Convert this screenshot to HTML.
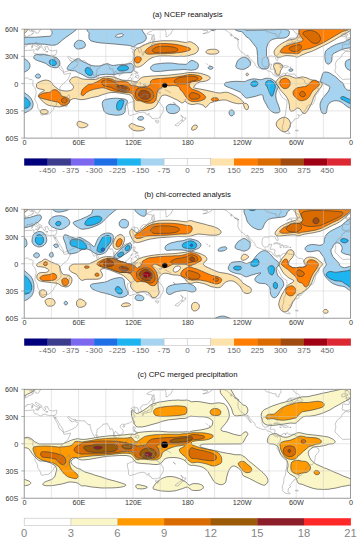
<!DOCTYPE html><html><head><meta charset="utf-8"><style>html,body{margin:0;padding:0;background:#fff;width:363px;height:543px;overflow:hidden}svg{display:block}text{font-family:"Liberation Sans", sans-serif}</style></head><body>
<svg width="363" height="543" viewBox="0 0 363 543">
<defs>
<clipPath id="pc0"><rect x="24.2" y="29.2" width="326.40000000000003" height="108.9"/></clipPath>
<clipPath id="pc1"><rect x="24.2" y="209.3" width="326.40000000000003" height="108.9"/></clipPath>
<clipPath id="pc2"><rect x="24.2" y="389.3" width="326.40000000000003" height="108.9"/></clipPath>
</defs>
<g clip-path="url(#pc0)">
<path d="M23.88,33.40 21.12,33.45 21.12,26.12 28.19,26.12 28.16,28.62 27.81,29.62 25.62,32.37 24.62,33.12 23.88,33.40ZM297.38,57.14 296.38,57.12 294.88,56.56 292.12,56.06 287.12,55.56 284.88,55.82 280.12,57.19 277.38,57.14 276.12,56.60 274.88,55.19 274.28,53.62 274.03,51.88 274.56,50.12 276.88,47.26 279.38,45.10 282.70,42.88 285.65,41.38 288.38,40.31 291.12,39.60 295.12,38.93 296.38,38.18 298.25,34.62 298.93,32.88 299.00,26.12 356.88,26.12 356.88,29.05 353.88,29.11 351.38,30.07 348.09,31.88 344.88,34.04 342.38,35.20 328.38,43.28 313.62,50.54 311.38,51.49 306.12,53.16 303.88,54.29 302.12,54.78 299.88,56.21 297.38,57.14ZM137.38,67.13 136.38,67.05 135.43,66.38 134.44,64.88 134.04,63.62 134.01,52.88 134.21,51.88 134.93,50.38 135.62,49.33 136.62,48.52 139.88,47.28 145.62,44.27 151.38,42.25 154.88,41.56 161.88,40.75 173.62,40.78 177.12,41.06 185.12,42.49 186.62,42.35 188.62,41.74 190.12,41.74 191.38,42.07 195.12,44.24 197.38,46.28 198.38,47.99 198.46,49.38 197.88,51.04 196.12,52.98 193.88,54.13 191.88,54.59 188.90,55.62 186.38,56.16 183.88,56.46 180.88,56.25 178.62,56.49 175.88,56.50 168.62,56.01 159.88,56.00 154.62,56.75 152.62,57.47 149.12,59.42 147.28,60.88 143.38,64.46 140.88,66.15 139.38,66.82 137.38,67.13ZM212.12,54.15 210.38,54.19 207.38,53.54 206.10,52.62 205.89,52.12 205.96,51.62 206.76,50.62 207.62,50.03 209.12,49.60 211.62,49.25 214.88,49.26 216.12,49.48 218.12,50.51 219.01,51.38 219.06,51.88 218.68,52.62 217.12,53.60 215.38,53.97 212.12,54.15ZM278.88,74.91 277.38,74.91 276.32,74.12 275.62,72.38 274.88,69.68 273.63,66.88 273.54,65.88 273.88,64.79 274.38,64.10 275.38,63.60 277.38,63.25 279.38,63.28 280.38,63.52 281.38,64.21 282.61,66.12 282.52,67.38 280.41,70.88 279.94,73.88 279.42,74.62 278.88,74.91ZM137.62,111.43 136.62,111.61 135.88,111.35 135.12,110.68 134.34,109.38 134.02,108.12 133.87,100.62 132.01,96.88 130.67,95.38 129.88,94.93 128.62,94.56 123.12,93.56 115.38,92.53 111.12,92.51 108.62,92.86 102.38,94.68 97.93,96.38 91.38,97.61 86.62,98.94 84.12,99.44 81.62,99.67 78.12,99.33 75.62,98.53 73.38,98.66 72.38,99.02 70.01,100.38 69.61,100.88 68.65,103.12 67.12,104.49 66.12,105.04 62.88,106.24 61.12,106.65 59.38,106.91 57.12,106.72 51.62,105.94 48.12,105.19 45.38,103.65 42.12,100.87 38.88,97.20 38.37,96.12 38.39,95.12 38.88,94.33 40.62,92.84 44.12,90.70 44.44,90.12 43.62,89.64 39.12,88.84 37.38,88.12 36.88,87.48 36.48,86.12 36.47,84.62 36.97,83.62 37.88,82.72 40.88,81.23 43.12,80.52 45.38,80.07 47.62,80.34 49.12,80.79 50.90,81.88 52.12,83.11 52.79,84.62 53.38,85.38 58.38,89.30 60.38,90.13 62.88,90.69 65.62,90.99 68.12,90.97 70.62,90.38 72.12,89.69 72.94,88.88 73.53,87.38 73.48,86.62 73.12,85.88 69.76,81.88 69.54,81.12 69.72,80.38 70.54,79.12 71.62,78.07 73.20,77.38 75.38,76.82 77.38,77.08 82.12,78.95 84.38,79.24 94.12,79.50 96.88,79.12 99.62,77.76 102.62,77.06 106.88,76.51 110.88,76.53 114.38,77.29 116.88,78.38 122.62,80.14 130.62,80.74 134.38,81.65 136.38,81.84 137.12,81.57 139.12,79.51 140.81,78.12 142.62,77.21 144.12,76.81 151.88,76.01 154.88,75.99 156.62,75.76 168.12,75.22 183.88,73.44 188.12,72.52 192.88,72.50 196.88,72.78 200.62,73.36 205.38,74.77 208.88,76.30 209.91,77.12 210.21,77.62 210.23,78.12 209.34,79.38 206.62,80.82 204.12,81.38 200.88,81.78 199.12,82.27 197.88,82.85 195.35,84.62 194.70,85.88 193.67,87.12 193.81,87.62 194.11,87.88 194.88,88.18 203.12,89.60 213.38,91.86 215.12,92.39 218.38,92.94 220.88,92.97 224.12,92.31 225.38,92.25 227.38,92.31 229.38,92.92 236.58,96.38 239.88,98.53 240.91,99.38 242.92,101.62 243.88,103.08 246.38,103.49 247.12,103.99 248.23,105.62 248.66,106.88 248.49,107.88 247.88,109.13 247.12,109.73 246.38,109.70 245.38,109.07 244.46,107.88 243.46,104.12 243.12,103.60 241.62,103.50 238.62,103.75 236.38,103.44 232.88,102.67 226.62,100.28 225.38,100.03 222.88,100.00 219.88,100.31 215.62,101.11 210.62,102.78 209.88,103.27 208.50,104.62 206.38,107.06 205.38,107.48 204.72,107.12 203.88,105.79 203.12,105.20 200.62,104.29 198.62,103.85 196.88,103.78 193.38,104.47 190.88,104.42 187.62,103.34 185.62,101.64 184.88,101.26 184.38,101.37 183.54,102.38 182.88,102.83 181.62,102.86 177.12,99.97 169.12,96.28 166.12,95.18 164.38,95.01 162.62,95.46 160.91,96.62 159.42,100.12 156.64,105.12 154.62,107.24 153.12,108.38 148.88,109.94 145.12,110.47 140.62,110.56 139.12,110.83 137.62,111.43ZM247.38,75.71 246.62,75.59 246.01,74.62 246.15,73.88 246.88,73.16 247.38,73.18 247.88,73.45 248.31,73.88 248.51,74.38 248.26,75.12 247.38,75.71ZM304.12,113.65 303.38,113.51 302.62,112.94 300.12,109.03 299.38,108.55 298.12,108.13 297.12,107.99 296.62,108.13 294.38,110.40 292.62,111.07 291.38,111.16 290.62,110.84 290.10,110.38 289.56,108.62 289.44,105.88 288.70,101.62 287.62,98.88 285.88,96.10 282.90,92.62 280.30,90.12 279.57,88.88 278.88,87.07 276.88,85.10 276.01,83.62 275.86,82.38 276.33,81.12 278.58,78.38 279.86,77.38 283.38,75.87 285.62,75.50 289.38,75.86 294.38,77.79 295.88,78.11 296.88,78.04 301.38,76.93 303.38,77.06 307.12,77.96 310.62,79.62 313.12,80.18 315.62,80.42 317.38,81.26 320.62,82.24 322.12,83.38 322.35,84.62 321.55,86.38 319.95,88.62 317.88,90.84 314.57,95.38 313.21,98.62 312.65,100.62 311.02,104.38 307.79,110.38 306.37,112.38 305.12,113.35 304.12,113.65ZM43.62,114.13 41.88,113.75 40.62,112.38 40.34,111.62 40.36,111.12 40.59,110.62 41.12,110.12 42.62,109.56 45.38,109.56 46.88,110.12 48.04,111.12 48.21,112.12 47.38,113.31 45.88,113.89 43.62,114.13ZM284.12,131.88 282.88,131.63 281.38,130.89 278.12,128.12 277.12,126.90 276.57,125.88 276.17,123.88 276.37,122.88 276.96,121.62 278.88,119.30 282.12,117.62 284.62,117.26 285.62,117.46 286.98,118.12 288.94,119.62 290.13,121.88 290.44,123.12 290.49,124.38 289.88,127.12 288.60,129.62 286.62,131.23 284.12,131.88ZM81.88,127.88 80.62,127.73 79.04,127.12 78.12,126.51 77.38,125.62 77.06,124.62 77.12,123.62 77.36,122.38 77.89,121.62 78.88,121.30 80.38,121.45 85.94,123.38 87.38,124.12 87.89,124.62 88.05,125.12 87.89,125.62 86.38,126.80 83.87,127.62 81.88,127.88ZM139.62,130.90 136.38,130.98 133.88,130.39 132.88,129.97 130.88,128.62 129.47,127.12 129.09,126.38 129.18,125.38 130.62,123.80 131.38,123.57 132.38,123.66 134.12,124.29 136.88,125.87 140.12,126.35 143.12,127.21 144.12,127.78 144.65,128.38 144.62,129.20 143.88,129.92 141.88,130.59 139.62,130.90ZM193.38,130.14 192.12,130.12 191.53,129.38 191.69,128.12 192.45,126.62 193.38,125.76 194.62,125.18 195.88,125.02 196.88,125.36 197.26,125.88 197.43,126.62 196.95,127.88 195.38,129.38 193.38,130.14Z" fill="#fde2ab" fill-rule="evenodd" stroke="#3c3c3c" stroke-width="0.62"/>
<path d="M297.38,53.66 295.62,53.74 292.38,53.26 286.88,53.24 282.38,52.94 280.62,52.32 280.23,51.88 280.14,51.38 280.66,50.38 282.50,48.12 283.38,47.31 285.12,46.27 290.62,44.43 300.12,42.03 301.88,41.10 302.88,40.25 303.10,39.62 302.87,38.88 300.69,36.38 299.13,33.38 299.00,26.12 349.12,26.12 349.07,28.62 348.84,29.12 348.38,29.48 343.12,31.35 341.62,32.07 323.38,42.68 315.62,46.30 310.12,48.38 302.12,50.34 299.62,52.90 297.38,53.66ZM150.62,54.15 149.62,54.22 147.38,53.94 146.38,53.55 145.19,52.38 145.09,51.62 145.37,50.88 147.34,48.62 148.88,47.43 151.88,45.65 156.38,44.10 159.38,43.56 166.12,43.51 173.12,44.03 176.88,44.56 182.38,45.78 188.88,47.70 189.88,48.16 190.49,49.12 190.22,49.88 188.88,50.53 184.88,51.64 180.62,52.44 176.38,52.81 174.12,53.22 167.38,53.51 165.62,53.74 157.38,53.75 150.62,54.15ZM138.12,62.94 136.88,63.02 136.12,62.64 135.00,61.38 134.39,60.12 134.53,59.12 135.38,57.63 136.12,56.83 137.12,56.34 139.12,56.58 140.32,57.12 141.02,57.88 141.35,58.88 140.98,60.38 140.12,61.66 139.38,62.38 138.12,62.94ZM151.62,103.15 146.88,103.19 145.12,102.74 140.38,100.86 137.38,100.71 136.62,100.50 135.75,99.88 134.99,98.88 132.83,94.62 131.91,93.62 131.02,93.12 129.12,92.78 119.12,91.94 111.62,90.69 105.74,88.38 103.12,87.81 101.38,87.81 93.88,89.31 89.62,90.71 86.38,92.61 84.12,94.98 83.12,95.56 82.38,95.62 81.62,95.19 81.14,94.38 81.10,93.62 81.62,91.34 82.62,89.22 84.55,87.38 87.72,84.88 89.38,84.08 91.62,83.97 92.88,83.60 96.89,81.88 99.11,80.62 101.88,78.73 103.38,78.31 107.62,78.26 109.88,78.61 112.38,79.22 114.82,80.62 116.88,81.25 118.62,81.27 121.38,80.93 123.88,81.05 125.88,81.55 127.88,82.38 128.91,83.12 130.38,84.86 131.12,85.29 135.88,85.92 138.88,87.03 141.88,87.07 147.38,86.29 149.22,85.62 149.76,85.12 150.15,84.38 150.46,83.12 150.53,81.62 150.93,80.88 152.38,79.66 154.88,79.06 158.62,78.53 161.38,78.47 165.38,78.03 171.12,77.69 183.88,75.69 187.38,74.72 188.88,74.51 192.38,74.53 196.62,75.11 199.62,75.95 201.12,76.71 201.80,77.38 201.95,78.12 201.75,78.88 201.12,79.58 199.88,80.49 196.88,81.21 192.38,81.69 191.12,82.20 190.32,82.88 189.78,83.62 189.36,84.62 189.26,85.38 189.88,86.97 191.62,88.95 197.12,90.76 199.12,91.63 202.38,93.55 204.38,95.19 205.32,96.38 205.67,97.38 205.30,98.38 204.12,99.41 200.88,100.74 198.88,101.19 196.38,101.50 192.12,101.58 191.38,101.42 188.62,99.89 187.45,98.88 184.99,95.62 182.86,92.12 180.07,89.62 179.80,87.88 178.62,86.64 176.88,85.97 174.88,85.61 172.62,85.59 168.88,85.88 165.12,84.80 163.59,85.62 161.88,87.44 159.38,89.05 158.32,90.12 156.93,92.88 156.89,95.62 155.72,99.88 154.38,101.89 153.12,102.67 151.62,103.15ZM285.38,88.63 283.62,88.38 282.12,87.48 280.36,85.38 279.81,84.12 279.66,83.12 280.10,81.12 281.38,79.45 282.88,78.62 285.12,78.09 286.62,78.40 288.88,79.83 289.92,81.38 290.27,83.12 290.01,85.12 288.62,87.20 287.62,87.95 285.38,88.63ZM302.38,100.65 300.62,100.70 298.62,100.03 295.51,97.38 293.82,95.62 293.11,93.88 293.01,92.38 293.23,91.38 294.12,90.13 295.62,88.77 297.79,87.62 304.62,86.48 306.88,85.82 308.70,84.62 309.62,83.04 310.62,81.99 312.12,80.98 313.38,80.42 314.62,80.26 315.88,80.51 318.47,82.38 319.11,83.12 319.46,83.88 319.42,84.62 319.05,85.38 315.62,88.56 313.38,90.13 311.87,92.12 309.35,96.62 307.62,98.45 305.88,99.64 302.38,100.65ZM64.62,105.40 62.88,105.47 61.38,105.09 60.69,104.62 59.38,103.17 57.88,102.13 50.88,100.69 41.38,98.29 40.12,97.78 39.22,97.12 38.84,96.38 38.94,95.62 39.88,94.70 42.62,93.37 44.62,92.81 48.62,92.47 49.88,92.14 50.62,91.70 52.12,90.32 52.88,89.94 54.88,89.62 56.62,90.03 57.56,90.62 58.88,92.03 59.94,93.38 61.12,95.35 61.62,95.81 63.62,96.62 66.88,97.41 68.29,98.38 69.14,99.38 69.43,100.12 69.44,101.12 69.12,102.30 68.65,103.12 67.88,103.95 66.62,104.80 64.62,105.40ZM216.38,100.90 213.88,100.99 212.38,100.69 211.60,100.12 211.38,99.62 211.42,99.12 212.12,98.29 213.38,97.81 215.88,97.78 217.62,98.17 218.43,98.88 218.46,99.62 217.86,100.38 216.38,100.90Z" fill="#ff7d00" fill-rule="evenodd" stroke="#3c3c3c" stroke-width="0.62"/>
<path d="M316.38,43.40 314.88,43.49 313.62,43.25 312.12,42.65 310.38,41.45 307.62,38.51 303.55,35.12 302.84,33.62 303.12,32.50 304.38,31.71 306.88,30.86 309.12,30.53 311.62,30.51 312.88,30.75 315.38,31.70 317.88,33.29 318.89,34.38 320.04,36.62 320.44,38.12 320.44,39.62 319.93,41.12 319.20,42.12 317.88,42.93 316.38,43.40ZM296.12,51.64 293.12,51.40 290.62,50.61 289.94,50.12 289.37,49.38 289.15,48.62 289.27,48.12 289.88,47.49 292.12,46.46 297.38,44.93 299.12,44.63 300.12,44.79 300.62,45.06 301.28,45.88 301.56,46.88 301.53,47.88 301.18,48.62 299.62,49.93 297.45,51.12 296.12,51.64ZM163.38,52.65 156.88,52.75 155.12,52.50 152.88,51.67 152.34,51.12 152.14,50.38 152.53,49.62 153.36,48.88 154.88,47.90 156.38,47.21 158.88,46.57 162.62,46.26 166.62,46.28 173.12,47.06 176.62,48.19 177.62,48.86 177.89,49.38 177.81,50.12 177.38,50.69 175.38,51.69 171.62,52.22 163.38,52.65ZM186.12,83.88 176.88,83.92 175.62,83.39 174.68,82.62 174.21,81.88 174.15,81.12 174.39,80.62 175.88,79.30 178.38,77.94 181.88,77.06 185.12,76.69 187.38,76.22 191.88,76.24 194.88,76.56 196.62,77.02 197.89,77.88 198.01,78.38 197.81,78.88 195.88,80.29 194.88,80.65 191.62,81.12 186.12,83.88ZM125.62,91.65 123.38,91.72 120.38,91.14 115.62,89.64 110.62,87.30 105.62,86.39 104.12,85.92 103.20,85.38 102.32,84.38 101.57,82.62 101.70,81.62 102.44,80.88 104.12,80.08 106.38,79.77 108.88,80.06 110.88,80.63 114.74,82.38 116.09,83.38 116.98,84.62 117.62,84.96 119.62,85.40 123.38,85.54 126.62,86.37 127.88,87.03 128.71,87.88 129.33,88.88 129.44,89.88 129.25,90.38 128.62,90.83 125.62,91.65ZM148.12,101.40 145.12,101.47 141.62,100.78 138.38,99.55 136.88,98.62 135.76,96.62 135.20,94.12 135.79,91.12 136.31,89.88 136.88,89.11 138.12,88.23 140.62,87.62 145.12,87.54 147.88,88.12 149.19,88.62 150.88,89.49 151.81,90.38 152.80,91.88 153.62,93.62 153.75,95.12 153.62,96.62 152.39,98.88 151.47,99.88 149.62,100.93 148.12,101.40ZM303.88,96.64 302.38,96.86 301.62,96.72 300.50,95.88 299.62,94.65 299.50,94.12 299.69,93.38 300.59,92.12 301.38,91.50 302.38,91.30 303.36,91.62 304.38,92.27 305.27,93.38 305.47,94.38 305.28,95.38 304.82,96.12 303.88,96.64ZM195.88,99.15 191.88,99.31 191.01,98.88 190.24,98.12 189.33,96.62 189.16,95.62 189.84,94.12 190.88,92.95 191.88,92.51 193.88,92.68 197.38,93.82 198.80,94.62 199.62,95.32 199.90,95.88 199.93,96.62 199.72,97.38 199.22,98.12 198.12,98.77 195.88,99.15ZM64.88,102.93 63.62,102.93 62.62,102.54 61.88,101.88 61.46,100.88 61.46,100.12 61.88,99.12 62.88,98.26 63.88,97.83 64.88,97.93 65.88,98.38 66.63,99.12 67.04,100.12 67.00,101.12 66.64,101.88 65.66,102.62 64.88,102.93Z" fill="#d96b00" fill-rule="evenodd" stroke="#3c3c3c" stroke-width="0.62"/>
<path d="M124.62,90.43 122.38,90.40 119.12,89.41 117.36,87.88 116.79,86.88 116.83,86.38 117.12,86.04 117.88,85.77 121.12,85.71 123.62,86.07 126.15,86.88 126.99,87.62 127.14,88.12 127.00,88.88 126.12,89.79 124.62,90.43ZM147.62,99.14 144.62,99.25 143.12,99.03 140.88,98.22 139.38,96.99 138.63,95.88 138.53,94.38 138.95,93.12 140.12,91.33 140.88,90.78 141.88,90.41 144.38,90.31 147.12,91.08 149.12,92.62 150.12,94.38 150.15,96.38 149.85,97.38 149.17,98.38 147.62,99.14Z" fill="#a04b10" fill-rule="evenodd" stroke="#3c3c3c" stroke-width="0.62"/>
<path d="M54.88,45.14 50.88,45.22 44.88,44.28 37.12,43.99 35.12,43.75 31.88,43.76 26.62,44.24 21.12,44.25 21.12,37.50 25.12,37.49 27.12,37.25 34.62,37.24 49.38,36.22 50.38,35.99 51.06,35.62 51.45,35.12 51.89,33.88 52.00,32.62 51.82,31.38 50.41,29.12 50.30,26.12 76.69,26.12 76.62,28.88 75.88,30.02 72.12,32.94 65.84,37.38 62.38,40.04 57.89,43.88 56.62,44.55 54.88,45.14ZM133.62,46.63 132.38,46.53 129.62,45.61 127.38,45.28 114.62,44.03 100.62,42.94 95.62,42.15 91.12,40.89 89.88,39.96 89.18,38.62 88.79,36.38 89.09,33.38 88.78,32.62 87.62,31.29 86.88,29.88 86.75,26.12 141.76,26.12 141.77,28.62 141.97,29.62 142.96,31.62 145.76,35.62 146.17,36.62 146.36,37.88 145.89,39.62 145.12,40.70 143.12,42.05 140.62,43.15 137.12,44.32 134.88,46.18 133.62,46.63ZM213.62,30.63 211.88,30.38 210.62,29.40 210.34,28.62 210.31,26.12 216.19,26.12 216.16,28.62 215.90,29.38 214.88,30.27 213.62,30.63ZM266.12,68.90 263.38,68.99 261.62,68.60 259.62,67.25 258.86,66.38 258.32,65.38 257.78,63.12 257.49,55.38 256.94,49.38 256.43,47.88 255.47,46.38 252.30,42.62 249.73,39.12 248.88,38.37 246.62,37.10 245.12,35.23 243.53,33.62 242.62,32.12 241.62,31.63 239.88,31.44 237.12,30.79 235.88,30.14 234.90,29.38 234.43,28.62 234.38,26.12 244.75,26.12 244.91,29.38 245.62,30.12 246.88,30.44 248.88,30.25 256.62,30.24 258.62,30.00 264.12,29.98 266.12,29.73 274.88,29.71 276.88,29.44 283.88,29.44 287.38,29.92 288.38,30.43 289.17,31.12 289.48,32.38 289.04,34.38 288.37,35.88 286.88,37.05 285.12,37.82 283.12,38.19 277.38,38.28 272.88,39.26 270.39,40.62 268.35,43.12 267.01,46.38 266.56,48.62 266.51,55.12 266.77,56.38 268.21,59.12 268.94,62.38 269.21,64.88 268.88,66.62 268.28,67.88 267.38,68.49 266.12,68.90ZM119.24,37.12 120.88,36.73 122.88,35.74 123.37,34.88 123.12,34.16 122.62,33.85 121.62,33.75 118.88,34.11 116.42,35.12 115.51,36.12 115.62,36.74 116.38,37.17 119.24,37.12ZM328.38,64.13 327.12,63.83 326.12,62.80 325.54,61.62 325.03,59.12 324.76,55.62 325.07,52.88 325.72,51.12 326.88,49.70 330.38,47.27 332.88,45.88 336.38,44.27 341.38,42.68 343.62,42.15 345.12,41.53 347.38,40.22 352.62,38.00 353.88,37.76 356.88,37.75 356.88,47.30 354.12,47.34 344.62,48.61 339.88,50.36 333.88,53.35 332.88,54.16 332.13,55.62 331.94,59.62 331.12,62.12 329.88,63.62 328.38,64.13ZM79.88,48.91 78.12,49.11 76.38,48.55 74.88,47.34 74.14,45.62 74.46,43.88 75.56,42.12 77.12,40.83 78.62,40.32 79.62,40.27 81.38,40.53 83.12,41.21 83.98,41.88 84.77,42.88 85.44,44.38 85.24,46.12 84.38,47.42 83.12,48.00 79.88,48.91ZM56.62,67.64 54.12,67.69 50.88,66.79 49.36,66.12 45.67,63.38 40.12,61.38 38.62,61.04 35.38,59.62 34.38,58.92 33.89,58.12 33.77,57.12 33.98,56.12 34.88,55.16 36.62,54.60 38.88,54.26 42.88,54.26 48.38,55.36 50.88,56.14 54.88,57.04 56.12,57.57 57.79,58.62 58.90,59.88 59.44,60.88 59.97,62.88 59.78,64.38 59.18,66.12 58.12,67.10 56.62,67.64ZM243.38,69.38 240.88,69.37 237.12,68.29 236.05,67.38 235.79,66.62 235.78,65.88 236.60,63.12 237.57,60.88 238.27,59.88 240.88,58.08 242.88,57.19 244.12,57.00 245.38,57.43 247.62,58.81 249.12,60.12 250.24,61.88 250.49,63.88 250.10,65.38 248.88,66.65 245.14,68.88 243.38,69.38ZM24.12,72.18 21.12,72.24 21.12,58.51 23.88,58.55 25.12,59.10 26.88,60.30 28.12,61.44 29.15,62.88 29.92,64.38 29.90,66.88 29.52,68.12 28.90,69.12 27.62,70.39 25.38,71.68 24.12,72.18ZM356.88,71.25 352.62,71.23 349.88,70.48 347.05,68.88 345.71,66.88 345.07,64.12 345.48,62.12 346.03,61.12 347.38,60.14 350.88,58.72 352.12,58.51 356.88,58.50 356.88,71.25ZM93.88,77.93 89.88,77.97 87.38,77.37 80.62,73.68 77.88,72.56 75.38,71.02 74.38,70.78 71.62,70.69 68.38,69.99 67.68,69.62 67.27,69.12 67.15,68.38 67.36,67.62 68.36,65.88 69.54,64.38 71.70,62.38 75.88,59.36 76.89,58.88 78.12,58.63 78.88,58.70 79.62,59.03 82.12,61.23 84.12,62.28 86.38,63.03 90.38,65.15 92.88,65.69 95.62,65.99 98.88,65.94 100.68,65.62 106.12,63.93 107.12,63.76 108.38,63.88 111.12,65.13 113.12,65.48 118.38,64.78 124.38,64.47 130.88,63.44 131.62,63.65 132.55,64.38 133.38,65.48 133.88,66.62 133.96,68.38 133.57,69.62 132.05,71.88 130.88,72.67 126.88,72.76 119.88,73.28 114.62,74.47 105.88,74.25 100.62,74.81 97.88,75.58 95.62,77.15 93.88,77.93ZM160.38,71.40 155.38,71.49 152.62,70.89 151.62,70.23 150.73,69.12 150.54,68.12 150.78,67.12 152.12,65.43 154.31,64.38 157.38,63.81 165.38,63.03 171.38,63.01 178.38,63.97 185.88,64.35 186.88,63.90 188.62,62.27 190.62,60.83 191.88,60.34 193.88,60.95 196.65,62.38 197.88,63.42 198.44,64.88 198.21,66.88 197.42,68.38 195.88,69.38 193.62,69.95 190.62,70.22 186.12,69.55 182.88,69.51 177.12,69.99 169.88,70.28 160.38,71.40ZM211.88,69.13 210.38,69.24 209.38,69.08 208.34,68.38 208.07,67.62 208.62,66.98 209.88,66.38 210.88,66.31 212.12,66.63 212.83,67.12 213.00,67.62 212.62,68.55 211.88,69.13ZM290.62,71.38 289.50,71.12 288.88,70.62 288.79,69.88 289.25,69.38 290.12,68.94 291.12,68.82 292.27,69.12 292.93,69.62 293.05,70.12 292.62,70.75 291.88,71.13 290.62,71.38ZM324.88,113.68 323.12,113.59 322.12,112.92 321.62,112.17 320.82,110.38 320.10,106.88 320.06,103.88 321.38,100.33 322.88,97.94 327.88,92.12 329.19,89.62 329.71,88.12 329.84,87.12 329.41,86.38 328.71,85.88 321.19,82.12 320.54,81.38 320.40,80.62 322.90,73.12 323.38,72.58 324.12,72.19 325.88,72.00 327.88,72.34 329.62,72.94 335.62,76.80 338.62,79.58 339.77,80.88 342.12,82.39 342.95,83.12 343.53,84.12 344.10,86.12 344.59,87.12 345.51,88.38 347.12,89.88 348.12,90.22 351.62,90.26 353.88,90.72 356.88,90.75 356.88,110.00 353.88,109.97 352.57,109.62 346.62,106.24 343.38,103.60 341.12,102.07 338.38,101.00 336.88,100.76 334.88,100.78 333.12,101.11 331.38,101.71 329.06,103.38 328.32,104.62 327.54,106.62 327.06,108.62 326.56,112.38 326.07,113.12 324.88,113.68ZM38.88,78.18 37.12,78.09 35.88,77.38 35.43,76.88 35.24,76.12 35.35,75.62 35.99,74.88 36.88,74.23 37.88,73.93 38.62,74.02 39.62,74.56 40.27,75.38 40.46,76.12 40.35,77.12 39.88,77.74 38.88,78.18ZM277.88,112.90 275.38,113.00 274.12,112.79 271.38,111.39 269.54,109.62 268.33,108.12 264.19,100.62 263.53,98.88 262.86,95.62 262.38,94.98 261.62,94.77 260.38,94.85 258.88,95.18 255.38,96.39 247.12,98.10 246.38,98.07 245.38,97.53 243.72,96.12 241.90,93.62 240.38,92.21 232.62,88.86 227.12,86.85 225.26,85.88 224.76,85.38 224.47,84.62 224.46,83.88 224.66,83.38 225.19,82.88 226.38,82.43 232.12,81.50 236.38,81.30 244.62,81.64 245.49,81.38 247.62,80.25 251.88,79.03 254.38,78.84 260.62,79.72 262.38,79.38 264.62,78.56 266.62,78.20 269.38,78.35 270.88,78.68 272.12,79.21 275.38,81.62 276.35,84.38 278.38,86.53 278.64,87.12 278.44,87.62 277.36,88.88 276.76,90.12 276.07,92.88 275.76,95.62 276.18,99.12 277.35,102.62 278.92,106.38 279.94,110.62 279.92,111.38 279.58,112.12 278.88,112.62 277.88,112.90ZM24.38,113.14 21.12,113.24 21.12,92.55 23.62,92.57 24.62,92.84 28.80,95.88 30.62,97.86 32.29,100.62 33.18,103.38 33.19,104.62 32.71,106.88 31.60,109.12 29.56,110.62 24.38,113.14ZM118.38,115.15 115.38,115.22 109.38,114.39 107.01,113.62 104.88,112.23 104.15,111.38 103.75,110.38 102.61,106.38 102.31,104.62 102.28,103.38 102.51,102.12 103.24,100.62 104.12,100.02 106.12,99.35 110.88,98.56 113.88,98.25 117.38,98.26 122.88,98.81 125.38,99.32 126.88,100.16 127.38,100.93 127.43,102.12 125.38,106.38 125.22,110.88 124.54,112.62 123.88,113.44 122.62,114.15 121.12,114.69 118.38,115.15ZM173.12,113.64 170.62,113.44 169.38,113.13 168.12,112.53 167.47,111.88 166.63,110.12 166.29,107.62 166.64,106.38 167.62,105.16 168.68,104.62 169.88,104.31 173.88,104.35 175.38,104.71 176.88,105.46 178.38,106.55 179.07,107.38 179.56,108.38 179.63,109.38 179.22,110.62 178.48,111.62 177.12,112.63 174.88,113.39 173.12,113.64ZM231.88,115.93 230.88,115.85 230.12,115.35 229.41,114.38 229.06,113.12 229.12,111.89 229.62,110.88 230.37,110.12 231.12,109.83 232.12,109.91 233.17,110.38 233.72,111.12 234.19,112.62 234.18,113.62 233.88,114.38 232.88,115.45 231.88,115.93ZM141.12,120.15 139.62,120.15 138.18,119.62 137.67,118.88 137.84,117.88 138.88,116.97 140.12,116.56 141.88,116.53 142.88,116.88 143.61,117.88 143.66,118.62 143.46,119.12 142.62,119.78 141.12,120.15Z" fill="#a6d3f0" fill-rule="evenodd" stroke="#3c3c3c" stroke-width="0.62"/>
<path d="M54.88,65.42 52.62,65.40 50.88,64.89 50.16,64.38 49.60,63.38 49.28,62.12 49.39,61.12 49.88,60.34 50.88,59.79 52.62,59.53 54.13,59.88 55.23,60.62 56.27,62.12 56.46,63.12 55.88,64.69 55.38,65.22 54.88,65.42ZM123.38,70.90 120.38,70.99 118.88,70.61 117.75,69.62 117.57,68.88 117.74,68.12 118.38,67.26 119.38,66.42 120.38,65.86 121.38,65.56 123.12,65.28 124.88,65.31 126.38,65.71 127.65,66.38 128.53,67.88 128.50,68.62 128.07,69.38 126.12,70.32 123.38,70.90ZM90.88,75.43 89.38,75.43 87.88,74.87 86.62,73.95 85.65,72.62 85.21,71.12 85.17,69.88 85.52,68.62 86.38,67.86 87.12,67.57 87.88,67.56 89.07,67.88 90.07,68.38 90.84,69.12 92.38,71.34 92.72,72.38 92.56,73.88 91.94,74.88 90.88,75.43ZM272.12,96.23 271.38,96.18 270.62,95.23 269.21,92.38 267.29,87.12 265.90,85.12 265.48,84.12 265.47,83.12 266.10,81.88 267.12,80.99 268.12,80.55 270.12,80.36 271.12,80.68 272.12,81.27 273.38,82.25 274.14,83.12 274.75,84.12 275.21,85.38 275.40,86.62 275.15,88.12 273.07,94.88 272.62,95.76 272.12,96.23ZM255.12,86.41 253.62,86.61 252.38,86.28 251.38,85.50 250.66,84.12 250.89,83.12 251.50,82.38 252.88,81.43 254.12,81.02 255.62,81.02 256.50,81.38 257.51,82.38 258.00,83.62 257.88,84.38 257.11,85.38 256.38,85.94 255.12,86.41ZM356.88,104.00 353.38,103.94 350.38,103.44 348.38,102.87 343.47,100.12 341.62,99.38 340.85,98.62 340.67,98.12 340.76,97.62 341.62,96.73 342.38,96.46 343.12,96.44 344.12,96.73 347.62,98.54 349.38,99.14 354.12,99.49 356.88,99.50 356.88,104.00ZM25.12,108.40 21.12,108.50 21.12,97.01 24.12,97.09 25.88,98.01 27.37,99.12 28.62,100.38 30.12,102.88 30.23,103.62 30.07,104.62 29.62,105.83 29.05,106.62 27.88,107.48 26.38,108.13 25.12,108.40ZM119.62,110.41 118.62,110.47 117.88,110.25 117.38,109.86 116.91,109.12 116.50,106.62 116.88,103.88 117.62,102.12 118.97,100.62 120.88,99.82 122.88,99.89 123.62,100.43 123.94,101.38 122.96,105.38 122.03,107.62 121.12,109.16 120.38,110.03 119.62,110.41Z" fill="#1eb4f0" fill-rule="evenodd" stroke="#3c3c3c" stroke-width="0.62"/>
<path d="M18.85,51.16 18.03,52.80 16.49,53.52 15.31,55.06 15.50,56.06 13.77,58.06 12.41,58.60 11.05,60.06 9.69,62.05 8.79,64.32 9.42,65.95 9.24,68.68 8.42,70.31 8.97,71.67 9.06,72.49 10.42,73.67 11.87,74.94 13.05,76.75 14.23,77.57 16.04,79.11 17.40,79.66 19.67,79.02 22.39,79.29 25.56,78.02 27.28,77.84 28.55,78.30 29.64,79.75 31.00,79.57 32.18,79.66 32.99,80.47 33.09,81.84 32.72,83.20 32.63,85.01 33.72,86.37 34.90,87.73 35.35,89.28 36.26,91.64 35.99,93.63 35.53,95.90 34.90,98.62 34.90,99.99 36.26,102.25 37.35,104.43 37.80,107.70 38.25,108.61 39.61,110.42 40.70,112.51 40.88,114.51 42.33,115.23 44.60,114.51 47.41,114.41 49.13,113.78 50.95,112.24 52.31,110.60 53.58,109.51 53.94,107.25 56.39,105.34 56.39,103.16 55.75,101.62 57.29,99.99 60.01,98.35 61.01,96.81 60.92,93.63 60.01,91.36 59.83,89.55 59.74,87.92 60.65,86.10 61.92,85.10 63.64,83.20 65.91,81.65 67.72,79.57 69.35,76.39 70.26,74.12 70.62,72.94 68.63,73.49 65.91,73.94 64.09,74.21 63.37,73.21 63.46,72.12 62.55,71.40 61.55,70.22 60.29,69.58 59.38,68.22 58.29,65.95 57.93,64.59 57.29,63.23 56.48,61.87 55.57,60.06 54.85,58.88 53.76,56.52 53.49,55.25 51.40,55.25 49.59,55.52 46.87,54.88 45.05,54.25 42.79,54.16 41.97,55.97 40.52,55.70 38.25,54.79 37.35,53.97 34.63,53.52 33.72,52.34 34.17,50.16 33.09,49.80 31.45,50.16 28.73,50.25 25.11,50.53 23.29,51.43 22.21,51.80 19.67,51.43 18.85,51.16ZM345.25,51.16 344.43,52.80 342.89,53.52 341.71,55.06 341.90,56.06 340.17,58.06 338.81,58.60 337.45,60.06 336.09,62.05 335.19,64.32 335.82,65.95 335.64,68.68 334.82,70.31 335.37,71.67 335.46,72.49 336.82,73.67 338.27,74.94 339.45,76.75 340.63,77.57 342.44,79.11 343.80,79.66 346.07,79.02 348.79,79.29 351.96,78.02 353.68,77.84 354.95,78.30 356.04,79.75 357.40,79.57 358.58,79.66 359.39,80.47 359.49,81.84 359.12,83.20 359.03,85.01 360.12,86.37 361.30,87.73 361.75,89.28 362.66,91.64 362.39,93.63 361.93,95.90 361.30,98.62 361.30,99.99 362.66,102.25 363.75,104.43 364.20,107.70 364.65,108.61 366.01,110.42 367.10,112.51 367.28,114.51 368.73,115.23 371.00,114.51 373.81,114.41 375.53,113.78 377.35,112.24 378.71,110.60 379.98,109.51 380.34,107.25 382.79,105.34 382.79,103.16 382.15,101.62 383.69,99.99 386.41,98.35 387.41,96.81 387.32,93.63 386.41,91.36 386.23,89.55 386.14,87.92 387.05,86.10 388.32,85.10 390.04,83.20 392.31,81.65 394.12,79.57 395.75,76.39 396.66,74.12 397.02,72.94 395.03,73.49 392.31,73.94 390.49,74.21 389.77,73.21 389.86,72.12 388.95,71.40 387.95,70.22 386.69,69.58 385.78,68.22 384.69,65.95 384.33,64.59 383.69,63.23 382.88,61.87 381.97,60.06 381.25,58.88 380.16,56.52 379.89,55.25 377.80,55.25 375.99,55.52 373.27,54.88 371.45,54.25 369.19,54.16 368.37,55.97 366.92,55.70 364.65,54.79 363.75,53.97 361.03,53.52 360.12,52.34 360.57,50.16 359.49,49.80 357.85,50.16 355.13,50.25 351.51,50.53 349.69,51.43 348.61,51.80 346.07,51.43 345.25,51.16ZM68.90,94.54 69.90,97.26 69.35,99.08 68.26,102.25 67.36,104.98 66.90,106.34 65.27,106.88 64.09,105.70 63.46,103.62 64.00,102.25 64.46,100.44 64.09,99.08 65.45,98.17 66.81,97.26 67.72,95.90 68.90,94.54ZM16.04,28.75 19.67,30.47 21.48,30.47 22.39,31.47 22.57,33.19 23.75,34.28 24.38,35.10 25.74,35.82 25.47,37.19 23.29,37.55 21.03,38.00 19.03,38.27 20.39,36.91 19.49,36.64 20.39,35.73 20.03,35.28 21.48,35.19 21.21,34.19 19.67,33.74 19.03,33.01 18.58,31.92 19.21,30.74 21.48,30.47M342.44,28.75 346.07,30.47 347.88,30.47 348.79,31.47 348.97,33.19 350.15,34.28 350.78,35.10 352.14,35.82 351.87,37.19 349.69,37.55 347.43,38.00 345.43,38.27 346.79,36.91 345.89,36.64 346.79,35.73 346.43,35.28 347.88,35.19 347.61,34.19 346.07,33.74 345.43,33.01 344.98,31.92 345.61,30.74 347.88,30.47M345.16,36.28 345.16,34.74 345.52,34.01 343.98,33.47 342.89,33.74 341.53,34.46 341.99,35.55 341.53,36.46 342.89,36.82 345.16,36.28ZM22.84,29.20 28.73,29.20 29.19,30.11 29.46,30.83 30.55,31.02 31.91,30.74 33.54,29.84 34.17,30.20 34.63,30.83 35.62,32.38 35.81,33.01 37.17,33.28 38.71,32.56 39.16,31.92 39.43,30.56 40.97,29.74 40.07,28.56M349.24,29.20 355.13,29.20 355.59,30.11 355.86,30.83 356.95,31.02 358.31,30.74 359.94,29.84 360.57,30.20 361.03,30.83 362.02,32.38 362.21,33.01 363.57,33.28 365.11,32.56 365.56,31.92 365.83,30.56 367.37,29.74 366.47,28.56M31.45,29.20 32.00,31.74 33.72,31.29 33.72,32.65 33.09,33.74 32.00,33.28 32.09,34.65 30.55,35.10 28.73,35.28 28.28,36.28 27.28,36.91 25.65,37.46 24.38,38.64 23.02,38.64 22.84,39.45 20.12,39.55 20.30,40.27 22.21,40.82 23.11,41.91 22.93,43.72 22.57,44.26 20.57,44.26 16.95,43.99 15.77,44.63 16.22,45.53 16.22,46.90 15.59,48.44 16.22,49.26 16.04,50.07 17.40,49.89 18.49,50.25 19.12,50.98 20.12,50.34 22.21,50.25 23.47,49.53 24.38,48.44 23.93,47.80 25.02,46.44 27.10,45.63 27.01,44.54 28.28,44.26 30.09,44.54 31.00,43.90 32.18,43.36 33.54,44.17 34.17,45.08 35.35,45.81 36.89,46.62 38.43,47.35 38.71,48.44 38.43,49.16 39.16,48.71 39.79,47.89 39.25,46.90 40.97,47.26 40.52,46.71 38.71,45.72 37.07,45.08 35.44,43.45 35.44,42.36 36.62,42.27 37.35,42.63 37.98,43.54 40.07,44.63 41.88,45.72 41.79,47.08 42.79,48.26 43.42,49.35 43.87,50.25 44.87,50.53 45.05,49.26 45.96,48.98 44.87,47.80 44.69,46.90 45.96,46.62 47.77,46.62 47.95,47.80 48.41,48.71 48.86,49.62 49.59,50.34 51.85,50.71 53.67,50.89 55.48,50.25 56.84,50.25 56.66,51.43 56.75,52.34 56.11,53.70 55.39,55.15 53.49,55.25M357.85,29.20 358.40,31.74 360.12,31.29 360.12,32.65 359.49,33.74 358.40,33.28 358.49,34.65 356.95,35.10 355.13,35.28 354.68,36.28 353.68,36.91 352.05,37.46 350.78,38.64 349.42,38.64 349.24,39.45 346.52,39.55 346.70,40.27 348.61,40.82 349.51,41.91 349.33,43.72 348.97,44.26 346.97,44.26 343.35,43.99 342.17,44.63 342.62,45.53 342.62,46.90 341.99,48.44 342.62,49.26 342.44,50.07 343.80,49.89 344.89,50.25 345.52,50.98 346.52,50.34 348.61,50.25 349.87,49.53 350.78,48.44 350.33,47.80 351.42,46.44 353.50,45.63 353.41,44.54 354.68,44.26 356.49,44.54 357.40,43.90 358.58,43.36 359.94,44.17 360.57,45.08 361.75,45.81 363.29,46.62 364.83,47.35 365.11,48.44 364.83,49.16 365.56,48.71 366.19,47.89 365.65,46.90 367.37,47.26 366.92,46.71 365.11,45.72 363.47,45.08 361.84,43.45 361.84,42.36 363.02,42.27 363.75,42.63 364.38,43.54 366.47,44.63 368.28,45.72 368.19,47.08 369.19,48.26 369.82,49.35 370.27,50.25 371.27,50.53 371.45,49.26 372.36,48.98 371.27,47.80 371.09,46.90 372.36,46.62 374.17,46.62 374.35,47.80 374.81,48.71 375.26,49.62 375.99,50.34 378.25,50.71 380.07,50.89 381.88,50.25 383.24,50.25 383.06,51.43 383.15,52.34 382.51,53.70 381.79,55.15 379.89,55.25M32.36,46.17 32.90,45.35 32.72,44.63 32.09,44.99 32.00,46.44 32.36,46.17ZM31.82,48.26 33.09,46.62 32.54,46.26 31.63,46.53 31.82,48.26ZM35.44,49.16 38.34,48.89 37.89,50.34 35.44,49.16ZM45.51,51.62 48.05,51.62 45.96,51.98 45.51,51.62ZM53.76,56.52 55.21,58.42 55.84,56.88 55.93,58.24 57.29,60.06 58.20,61.60 59.38,63.69 60.01,65.05 61.19,66.41 62.10,68.22 63.01,69.58 63.46,72.03 64.55,72.12 65.91,71.49 68.17,70.95 69.99,70.04 71.53,69.40 74.07,68.04 75.43,67.31 76.61,66.23 77.24,65.05 78.42,63.23 77.33,62.14 76.06,61.96 75.34,61.05 75.34,59.78 74.52,60.51 73.61,61.69 71.80,61.69 70.98,61.60 70.98,60.24 70.26,60.96 69.99,59.87 69.08,59.15 67.90,57.51 67.72,56.88 68.81,56.24 69.99,57.06 70.62,58.24 71.80,58.69 73.16,59.42 75.15,59.06 76.15,60.33 78.15,60.60 80.05,60.78 82.23,60.69 84.58,60.60 85.40,62.05 86.31,62.60 87.39,63.32 88.21,64.77 90.11,64.14 90.21,66.41 90.66,68.22 91.02,69.58 91.75,71.40 92.20,72.76 93.11,74.30 93.65,75.57 94.47,76.30 95.10,75.48 96.10,74.30 96.55,73.21 97.01,71.40 96.91,69.40 97.91,68.86 98.82,68.22 100.36,67.04 101.72,65.68 102.99,64.77 103.08,64.05 104.71,63.96 106.25,63.69 107.43,63.32 107.89,64.59 108.16,65.50 109.25,66.59 109.70,68.22 109.79,69.13 110.79,69.31 112.15,68.40 112.78,69.58 113.23,71.40 113.60,72.76 113.51,74.58 113.23,75.94 113.96,76.84 115.14,77.93 115.59,79.57 116.05,81.02 117.13,82.02 118.04,82.47 118.67,82.29 117.95,80.47 117.95,79.57 116.86,78.02 115.77,77.39 115.23,76.84 114.32,75.39 114.14,74.30 114.50,72.76 114.96,71.49 115.68,71.49 116.23,72.12 117.22,72.58 118.04,73.85 119.22,74.30 119.40,75.85 120.31,75.21 120.94,74.21 121.94,73.94 123.03,73.21 123.30,71.49 123.03,70.49 122.48,69.31 121.39,68.49 120.76,67.68 120.13,66.59 120.13,65.95 120.94,64.86 121.76,64.32 122.57,63.96 123.75,64.14 123.93,65.05 124.39,64.41 125.57,64.05 127.11,63.50 127.74,63.41 129.37,62.87 130.73,62.05 131.82,61.33 132.55,60.51 132.82,59.60 133.45,58.24 134.36,56.88 134.81,56.42 134.18,55.79 134.72,55.34 133.91,54.34 133.45,53.34 132.27,51.89 133.00,50.98 133.91,50.44 135.27,50.07 134.36,49.62 133.00,49.80 131.91,49.35 131.64,48.98 130.91,48.26 131.64,48.08 132.82,47.62 133.91,46.62 135.09,46.90 134.18,47.80 134.45,48.35 135.18,47.80 136.81,47.44 137.71,47.80 137.90,49.16 138.89,49.62 138.62,50.53 138.89,52.25 139.80,52.25 141.34,51.71 141.61,50.53 141.52,49.80 140.71,48.71 139.89,47.80 140.71,47.08 141.79,46.62 141.89,45.99 142.52,45.08 143.43,44.63 144.79,44.81 146.87,44.17 148.59,42.81 149.77,41.45 151.41,39.82 151.59,38.27 151.86,36.91 152.49,36.01 152.31,35.28 150.68,34.46 148.87,34.65 148.23,34.10 146.78,33.92 147.96,33.01 149.32,32.10 151.59,31.02 152.95,29.93 155.67,29.74 158.39,29.84 160.65,29.56 162.47,30.11 164.28,29.84 165.19,28.75M166.09,28.47 165.64,31.47 166.09,33.28 166.09,36.91 167.45,36.46 169.27,34.83 171.08,33.56 171.53,31.92 172.44,30.56 172.89,29.38 173.80,28.75M152.95,41.91 154.31,41.18 153.85,39.18 155.03,39.18 154.03,36.64 154.31,35.55 153.67,34.37 153.22,35.10 152.95,37.37 152.77,39.64 152.95,41.91ZM142.25,55.15 143.34,55.15 143.61,53.97 143.79,52.89 144.79,52.61 145.69,53.16 146.78,52.98 146.96,52.25 148.23,52.61 148.69,52.16 150.05,52.25 150.77,51.71 151.31,51.80 151.86,51.16 151.68,50.25 152.04,48.98 152.77,48.26 152.86,47.35 152.40,46.08 151.41,46.26 151.04,47.35 151.13,48.26 150.41,49.16 149.77,49.80 148.69,50.25 148.23,49.80 147.51,51.16 146.60,51.25 144.79,51.43 143.43,52.25 142.88,52.80 141.89,53.43 142.25,54.43 142.25,55.15ZM151.13,45.99 152.22,45.72 154.03,45.53 155.49,44.63 156.03,44.36 155.85,43.54 154.31,43.54 152.77,42.45 152.58,43.72 152.40,44.45 151.50,44.45 151.13,45.08 151.13,45.99ZM133.09,62.78 133.73,63.69 134.45,62.60 134.72,61.14 134.36,60.69 133.63,61.42 133.09,62.78ZM122.66,66.23 123.93,65.41 124.84,65.86 124.39,66.86 123.48,67.13 122.66,66.23ZM133.00,66.86 134.99,66.86 135.18,68.22 134.45,69.58 134.54,70.76 136.63,71.85 136.45,72.12 135.27,71.31 133.63,71.13 133.45,69.58 132.82,68.86 133.27,68.22 133.00,66.86ZM134.81,77.30 135.72,75.85 137.08,75.94 137.99,74.76 138.98,76.84 138.62,77.93 137.81,78.57 136.63,77.75 135.90,76.84 134.81,77.30ZM134.81,73.67 136.17,74.12 136.63,73.40 137.53,73.49 137.99,72.31 136.90,72.31 135.72,72.76 134.81,73.67ZM130.46,76.03 131.64,75.03 132.55,73.85 132.09,73.49 130.46,76.03M123.03,82.20 123.57,83.92 124.02,85.10 124.21,86.28 125.29,86.37 126.20,86.74 128.01,87.19 129.37,87.10 129.83,85.92 129.83,84.56 130.73,83.38 131.91,82.74 131.10,81.93 131.19,81.02 130.91,79.84 131.82,79.11 132.27,78.84 130.91,78.02 130.28,77.30 129.65,77.75 128.83,78.93 128.01,79.57 126.65,80.75 125.29,81.38 124.84,82.20 123.57,81.84 123.03,82.20ZM110.61,78.57 112.60,78.93 113.78,80.20 115.14,81.38 115.95,81.84 117.41,82.92 118.22,84.38 118.95,85.28 120.31,86.37 120.22,87.73 120.13,88.91 119.13,89.00 118.04,88.01 116.95,87.28 116.05,86.19 115.32,84.56 114.41,83.20 113.69,82.11 112.60,81.11 111.69,80.11 110.61,78.57ZM119.58,89.82 120.31,89.00 121.39,89.09 122.39,89.37 124.39,89.82 125.20,89.64 126.38,89.91 128.01,90.64 127.92,91.55 125.75,91.18 123.93,90.91 122.12,90.64 120.67,90.37 119.58,89.82ZM128.65,90.91 129.65,91.36 131.19,91.36 132.09,91.55 133.45,91.45 135.27,91.36 135.72,91.73 133.73,91.82 131.64,91.82 129.83,91.82 128.65,90.91M136.63,92.91 137.99,91.82 139.53,91.27 137.53,92.27 136.63,92.91ZM132.55,88.64 132.64,86.83 131.91,86.19 132.37,85.01 132.82,83.65 133.45,82.65 134.81,82.74 136.17,82.83 137.08,82.20 137.71,82.38 136.63,83.29 133.91,83.20 133.36,84.47 134.36,84.56 135.72,84.47 134.99,85.28 135.27,86.83 134.09,86.28 133.91,87.55 134.36,88.01 133.36,88.73 132.55,88.64ZM139.80,82.02 140.43,84.38 140.71,83.01 140.16,82.29M138.44,86.55 139.80,86.64 139.62,87.10 138.53,87.10 138.44,86.55ZM140.25,86.64 142.07,86.55 142.79,87.10 140.71,87.01 140.25,86.64ZM142.97,84.74 144.33,84.01 145.69,84.47 145.87,86.01 147.05,86.74 148.87,85.10 149.86,85.28 151.59,85.83 152.49,86.10 155.21,87.28 156.39,88.46 157.66,89.28 158.39,90.91 159.57,92.27 160.93,93.09 159.93,93.27 157.93,92.82 156.57,91.09 154.94,90.55 154.03,91.36 153.40,92.09 152.04,91.91 150.23,91.00 149.32,90.46 149.14,88.55 147.05,87.64 144.79,87.37 143.88,86.19 145.24,85.74 143.70,85.10 142.97,84.74ZM160.20,88.46 161.56,88.10 162.19,87.46 162.01,88.64 160.65,89.28 158.84,88.73 160.20,88.46M164.73,89.55 166.55,90.46 169.27,91.82 171.08,93.18M127.20,103.62 127.38,105.88 127.74,107.70 128.47,110.42 128.47,114.14 129.55,115.41 131.19,115.41 133.00,114.41 134.81,114.41 136.63,113.60 138.44,112.87 141.16,112.33 143.43,112.24 145.24,112.87 146.15,113.60 147.14,115.23 148.41,113.60 149.14,113.33 148.87,114.69 149.32,115.96 150.68,116.14 151.59,118.14 152.95,118.50 154.31,118.86 155.67,118.14 156.94,119.04 158.39,117.95 160.20,117.59 160.38,116.14 161.29,114.51 162.47,112.87 163.10,111.33 163.46,109.33 163.01,106.79 162.01,105.88 160.93,104.07 159.57,102.71 158.84,101.80 156.85,100.71 156.57,99.08 155.94,97.26 154.58,96.36 154.22,94.99 153.40,93.36 152.77,95.27 152.58,97.72 152.04,99.08 151.13,99.71 149.77,98.90 148.41,97.99 147.14,97.08 147.51,95.90 148.23,94.72 147.05,94.54 145.24,94.18 144.33,94.00 142.97,94.72 142.34,95.72 141.70,97.17 140.43,97.08 139.62,96.36 138.44,96.54 137.53,97.44 136.63,98.44 136.08,99.26 134.99,99.99 134.36,100.89 133.00,101.71 131.64,102.07 130.28,102.34 128.92,103.16 127.74,103.52 127.20,103.62ZM155.39,120.59 157.03,120.95 158.66,120.77 158.57,121.95 157.93,122.85 157.03,123.22 155.94,122.04 155.39,120.59ZM180.78,114.87 181.51,115.59 182.23,116.14 182.69,117.05 183.68,117.41 184.68,118.04 186.04,117.86 185.50,119.22 184.59,119.68 184.05,120.68 183.05,121.40 182.50,121.04 182.87,119.95 181.78,119.31 182.50,118.32 182.41,117.23 181.23,115.96 180.78,114.87ZM180.78,120.40 181.96,120.86 182.23,121.49 181.51,122.49 180.87,123.31 179.42,124.03 178.88,125.30 177.43,125.94 176.07,125.58 175.16,125.40 175.43,124.67 176.79,123.58 178.79,122.58 179.69,121.58 180.24,120.86 180.78,120.40ZM96.64,74.76 97.46,75.21 98.46,76.84 97.91,78.02 96.82,78.20 96.55,76.39 96.64,74.76ZM201.00,28.75 203.72,30.47 207.35,30.47 207.80,31.47 205.53,32.83 202.81,33.74 206.44,33.28 209.16,32.10 210.97,30.83 211.88,30.20 212.79,29.20 214.15,29.65 215.51,29.29 217.77,28.75 220.04,29.20 222.76,29.29 224.57,29.65 226.39,30.56 227.75,31.47 229.11,32.83 230.47,33.74 231.83,34.46 232.28,35.55 233.64,36.46 234.55,37.37 235.00,37.82 236.81,38.46 237.72,39.18 239.08,39.64 237.54,39.82 238.17,41.45 238.17,43.27 237.81,45.08 237.99,46.44 238.35,47.80 239.08,49.16 239.53,49.53 240.08,50.44 240.89,51.43 241.26,52.25 242.71,52.61 243.43,52.98 244.34,53.97 244.97,55.06 245.61,56.06 246.51,57.33 247.24,58.24 247.97,58.97 248.87,60.06 249.51,61.33 250.41,62.05 251.32,62.60 250.59,61.69 250.14,60.51 249.05,59.15 248.33,57.79 247.69,56.42 246.61,55.06 248.15,55.34 248.87,56.88 249.96,58.33 251.05,59.60 252.23,60.69 253.59,61.87 254.49,62.96 255.13,64.14 254.95,65.23 255.85,66.23 256.76,67.04 258.57,67.77 260.39,68.49 262.20,69.22 263.56,69.40 264.92,68.95 266.28,69.58 267.01,70.49 268.09,71.04 269.45,71.40 270.81,71.67 271.45,72.03 272.17,72.94 272.90,73.67 272.81,74.58 273.81,74.76 274.80,75.94 275.80,76.21 276.71,76.66 277.70,77.03 278.07,76.12 278.97,75.48 279.70,76.12 280.06,77.12 280.51,78.66 280.42,80.02 279.88,81.20 279.06,82.29 278.25,82.92 277.98,84.10 277.70,85.01 278.25,85.92 277.79,86.74 276.98,87.55 277.07,88.91 278.25,90.18 278.97,91.36 280.15,93.63 281.51,96.17 282.42,97.53 284.23,98.81 285.86,99.80 286.86,100.44 287.04,103.16 286.68,105.43 286.59,107.70 285.95,109.51 285.77,111.78 285.68,113.60 285.14,115.87 284.14,117.41 283.87,119.50 283.69,121.58 283.51,123.13 283.05,124.49 282.15,126.30 282.78,128.12 282.60,130.39 283.51,131.75 285.32,132.84 287.13,133.56 288.95,133.83 290.31,133.38 288.49,132.20 287.77,131.02 288.49,129.93 288.04,129.03 289.13,127.66 290.94,126.57 289.40,125.40 290.31,124.49 291.67,123.13 292.12,122.04 293.03,121.04 294.21,120.40 294.39,119.04 297.11,118.59 298.47,118.04 299.19,116.68 298.65,115.59 297.65,114.60 299.37,115.32 300.82,115.32 302.09,114.32 303.00,113.14 304.36,111.51 305.09,109.97 306.35,108.61 306.54,107.25 306.90,106.61 308.44,105.43 310.25,104.70 312.52,104.43 313.43,103.16 314.33,101.53 314.97,99.53 315.24,97.26 315.33,95.45 316.15,94.99 317.05,93.63 318.41,92.27 318.96,90.46 318.69,88.64 317.05,88.01 315.69,87.01 313.88,86.19 311.16,85.83 310.25,85.01 307.53,84.19 305.72,83.74 304.81,82.29 304.18,80.29 303.00,79.11 301.19,78.30 298.74,78.20 297.74,77.39 296.38,76.12 295.29,75.48 294.84,74.39 293.48,73.94 292.12,74.39 290.31,74.03 288.77,74.12 287.13,72.58 286.86,73.12 285.77,73.85 285.59,75.03 285.32,73.12 284.14,73.40 283.23,73.58 282.15,74.12 281.51,75.21 280.79,75.75 280.06,75.39 278.79,75.03 277.61,75.39 276.71,75.66 275.53,74.94 274.89,73.85 274.62,72.85 274.80,71.40 275.17,70.04 273.99,69.22 272.63,69.13 271.27,69.31 270.54,69.40 270.63,68.22 270.81,66.86 271.27,65.95 271.72,64.14 270.36,64.23 268.73,64.50 268.55,65.50 268.09,66.41 266.73,66.77 264.92,67.13 263.74,66.59 263.11,65.95 262.47,64.77 262.11,63.69 261.93,61.87 262.29,60.24 262.38,58.60 263.11,57.97 264.65,57.06 265.83,56.70 267.64,56.97 269.00,57.15 269.73,56.24 270.81,56.06 272.17,56.06 273.53,56.70 274.44,56.42 275.35,57.33 275.62,58.42 276.43,59.87 277.16,60.78 277.70,60.51 278.07,59.33 277.70,57.79 276.89,55.97 277.16,55.06 277.89,54.16 278.79,53.52 280.06,52.61 281.24,52.07 281.87,51.43 281.51,50.07 282.06,49.26 282.60,48.44 283.33,47.80 283.51,46.81 284.87,46.53 286.23,45.99 287.13,45.81 286.68,45.08 286.59,44.45 287.59,43.81 288.95,43.36 289.85,42.99 290.76,43.27 292.12,42.54 290.76,43.81 291.21,44.17 293.03,43.18 295.29,42.54 295.75,41.45 294.84,41.91 293.48,42.18 292.12,41.45 291.67,40.27 291.94,39.36 290.94,39.09 289.40,38.91 287.59,40.09 286.68,40.82 288.22,39.27 290.31,38.09 293.03,38.00 296.20,38.09 298.47,37.19 299.83,36.73 300.01,35.55 298.65,34.19 296.65,33.47 294.84,32.38 294.21,31.20 293.03,30.29 292.12,28.93M264.65,28.75 264.92,30.11 266.73,31.74 268.55,31.92 270.81,32.65 273.08,33.56 275.98,33.65 276.07,35.55 277.16,36.28 278.25,37.10 279.15,36.46 278.97,34.19 280.79,33.01 281.24,31.47 280.33,30.29 279.88,28.75M273.53,63.78 274.44,63.05 276.25,62.60 278.07,62.78 279.88,63.41 281.24,64.41 283.33,65.32 282.15,65.59 280.33,65.59 280.06,64.86 278.52,64.05 276.71,63.50 275.17,63.69 273.53,63.78ZM283.05,66.95 284.41,65.68 285.77,65.59 287.31,65.86 288.58,66.86 287.13,67.13 285.68,67.59 284.59,67.13 283.05,66.95ZM279.70,66.95 281.42,67.22 280.79,67.50 279.70,66.95ZM289.67,67.31 291.12,67.04 291.03,67.31 289.67,67.31ZM296.74,40.45 298.01,38.73 299.83,36.82 300.28,38.27 302.09,39.00 302.73,40.54 302.09,41.27 300.01,41.09 296.74,40.45ZM231.83,34.65 230.74,34.65 230.47,35.55 231.37,36.19 231.83,34.65ZM234.09,37.55 236.81,38.09 238.63,39.73 237.27,39.36 234.09,37.55ZM295.29,130.39 298.01,130.11 298.19,130.84 295.75,131.02 295.29,130.39ZM209.34,65.32 210.25,65.95 209.34,66.50 209.16,65.77 209.34,65.32ZM207.07,64.05 207.62,64.32 207.26,64.32 207.07,64.05ZM205.81,63.50 206.17,63.69 205.90,63.78 205.81,63.50ZM330.20,28.75 327.93,28.75M307.08,28.47 310.25,29.29 311.61,28.75M185.59,99.35 186.13,99.99 184.95,100.17 185.04,99.53 185.59,99.35ZM173.80,102.71 175.61,103.89 175.16,103.80 173.07,102.07 173.80,102.71Z" fill="none" stroke="#8c8c8c" stroke-width="0.5" stroke-linejoin="round"/>
</g>
<circle cx="164.8" cy="85.3" r="2.5" fill="#000"/>
<line x1="51.40" y1="29.2" x2="51.40" y2="138.1" stroke="#c8c8c8" stroke-width="0.45"/>
<line x1="78.60" y1="29.2" x2="78.60" y2="138.1" stroke="#c8c8c8" stroke-width="0.45"/>
<line x1="105.80" y1="29.2" x2="105.80" y2="138.1" stroke="#c8c8c8" stroke-width="0.45"/>
<line x1="133.00" y1="29.2" x2="133.00" y2="138.1" stroke="#c8c8c8" stroke-width="0.45"/>
<line x1="160.20" y1="29.2" x2="160.20" y2="138.1" stroke="#c8c8c8" stroke-width="0.45"/>
<line x1="187.40" y1="29.2" x2="187.40" y2="138.1" stroke="#c8c8c8" stroke-width="0.45"/>
<line x1="214.60" y1="29.2" x2="214.60" y2="138.1" stroke="#c8c8c8" stroke-width="0.45"/>
<line x1="241.80" y1="29.2" x2="241.80" y2="138.1" stroke="#c8c8c8" stroke-width="0.45"/>
<line x1="269.00" y1="29.2" x2="269.00" y2="138.1" stroke="#c8c8c8" stroke-width="0.45"/>
<line x1="296.20" y1="29.2" x2="296.20" y2="138.1" stroke="#c8c8c8" stroke-width="0.45"/>
<line x1="323.40" y1="29.2" x2="323.40" y2="138.1" stroke="#c8c8c8" stroke-width="0.45"/>
<line x1="24.2" y1="56.42" x2="350.6" y2="56.42" stroke="#c8c8c8" stroke-width="0.45"/>
<line x1="24.2" y1="83.65" x2="350.6" y2="83.65" stroke="#c8c8c8" stroke-width="0.45"/>
<line x1="24.2" y1="110.88" x2="350.6" y2="110.88" stroke="#c8c8c8" stroke-width="0.45"/>
<rect x="24.2" y="29.2" width="326.40000000000003" height="108.9" fill="none" stroke="#808080" stroke-width="0.8"/>
<line x1="21.2" y1="29.20" x2="24.2" y2="29.20" stroke="#808080" stroke-width="0.6"/>
<text x="18.20" y="32.20" font-size="7.2" text-anchor="end" fill="#333">60N</text>
<line x1="21.2" y1="56.42" x2="24.2" y2="56.42" stroke="#808080" stroke-width="0.6"/>
<text x="18.20" y="59.42" font-size="7.2" text-anchor="end" fill="#333">30N</text>
<line x1="21.2" y1="83.65" x2="24.2" y2="83.65" stroke="#808080" stroke-width="0.6"/>
<text x="18.20" y="86.65" font-size="7.2" text-anchor="end" fill="#333">0</text>
<line x1="21.2" y1="110.88" x2="24.2" y2="110.88" stroke="#808080" stroke-width="0.6"/>
<text x="18.20" y="113.88" font-size="7.2" text-anchor="end" fill="#333">30S</text>
<line x1="21.2" y1="138.10" x2="24.2" y2="138.10" stroke="#808080" stroke-width="0.6"/>
<text x="18.20" y="141.10" font-size="7.2" text-anchor="end" fill="#333">60S</text>
<text x="24.50" y="144.60" font-size="7.2" text-anchor="middle" fill="#333">0</text>
<text x="78.90" y="144.60" font-size="7.2" text-anchor="middle" fill="#333">60E</text>
<text x="133.30" y="144.60" font-size="7.2" text-anchor="middle" fill="#333">120E</text>
<text x="187.70" y="144.60" font-size="7.2" text-anchor="middle" fill="#333">180</text>
<text x="242.10" y="144.60" font-size="7.2" text-anchor="middle" fill="#333">120W</text>
<text x="296.50" y="144.60" font-size="7.2" text-anchor="middle" fill="#333">60W</text>
<text x="350.90" y="144.60" font-size="7.2" text-anchor="middle" fill="#333">0</text>
<text x="187.5" y="17.20" font-size="7.75" text-anchor="middle" fill="#111">(a) NCEP reanalysis</text>
<g clip-path="url(#pc1)">
<path d="M24.62,212.17 21.12,212.25 21.12,206.12 28.38,206.12 28.37,208.38 28.02,209.38 26.61,211.12 24.62,212.17ZM279.38,236.15 278.12,236.19 276.62,235.72 275.53,234.88 275.04,233.88 275.13,232.88 275.96,231.12 278.50,228.12 281.38,226.02 286.38,223.40 290.12,221.87 295.62,220.26 296.38,219.68 297.06,218.62 297.27,217.62 296.03,214.62 295.30,211.38 295.01,209.38 295.00,206.12 356.88,206.12 356.88,210.30 354.12,210.35 351.62,211.35 350.62,212.08 348.88,214.00 344.47,218.12 339.54,221.88 336.38,223.68 332.51,225.38 324.62,229.35 320.12,231.29 311.38,233.15 309.62,233.31 302.38,234.61 298.88,235.90 297.88,235.83 295.38,235.06 293.12,234.79 286.62,235.28 279.38,236.15ZM137.62,242.64 136.38,242.58 134.38,241.58 133.12,240.60 132.26,239.38 130.20,234.88 129.81,233.62 129.77,231.38 130.06,230.62 130.62,229.91 131.38,229.48 132.38,229.69 134.12,230.79 135.88,232.42 136.88,232.56 138.16,231.88 145.38,226.10 149.68,223.38 153.62,221.85 156.62,221.10 160.12,220.56 164.12,220.25 170.88,220.26 178.12,220.78 185.38,221.74 186.62,221.57 189.38,220.68 191.38,220.61 194.38,221.65 206.12,224.56 207.62,225.13 211.62,226.04 215.12,227.18 218.12,228.65 219.77,229.88 220.70,230.88 221.12,231.88 221.10,232.62 220.88,233.11 219.88,233.99 218.62,234.63 216.12,235.19 212.12,235.25 207.62,234.97 204.62,234.53 198.88,234.04 196.38,234.32 190.88,236.02 186.62,236.69 177.38,236.51 158.88,237.78 150.12,239.11 146.88,239.93 139.88,242.15 137.62,242.64ZM117.62,249.38 116.62,249.33 115.12,248.85 114.27,248.12 113.52,247.12 113.01,245.38 113.36,242.38 114.32,239.62 115.61,237.38 116.38,236.44 118.88,234.85 120.12,234.53 121.12,234.61 122.62,235.30 124.03,236.88 124.47,238.38 124.39,240.62 123.30,244.12 121.62,247.05 120.80,247.88 119.29,248.88 117.62,249.38ZM285.12,311.89 283.88,311.82 282.12,311.06 281.38,310.55 280.36,309.38 278.86,305.62 278.75,303.62 278.93,302.38 280.35,298.12 281.82,294.88 286.12,287.35 288.12,285.04 289.62,283.96 291.91,282.88 293.38,281.71 293.79,280.88 293.28,280.12 288.88,277.94 286.38,275.99 283.62,273.22 281.46,269.88 280.65,268.12 279.67,266.62 279.23,265.38 279.17,264.38 279.66,262.62 281.40,259.88 282.12,258.38 285.40,254.62 287.38,251.11 288.12,250.48 289.38,249.91 291.12,249.78 292.12,250.05 292.88,250.69 293.86,252.12 294.11,253.38 293.54,255.38 292.49,257.38 289.52,260.62 288.66,262.88 288.51,263.88 288.80,264.88 289.41,265.62 292.12,267.32 293.38,267.70 295.62,267.80 299.12,267.28 302.62,267.21 304.62,266.62 305.19,266.12 305.34,265.38 305.04,264.38 303.71,261.88 303.64,261.12 303.84,260.62 304.69,259.38 306.12,258.10 307.62,257.38 309.62,257.03 313.12,257.32 315.62,258.17 317.62,259.32 319.34,260.88 321.62,262.56 322.28,263.38 322.45,264.12 321.88,265.50 319.87,267.62 319.01,269.12 314.46,275.62 311.78,282.62 310.63,284.88 308.76,287.62 306.88,289.40 305.12,290.65 302.88,291.82 301.12,293.46 298.62,294.19 297.62,294.82 295.38,298.38 293.20,301.38 292.35,303.12 291.04,306.62 290.47,307.62 288.12,310.40 286.62,311.42 285.12,311.89ZM154.12,297.64 152.88,297.58 151.92,297.12 149.60,293.38 148.88,292.82 147.12,292.04 144.62,291.53 142.38,291.50 140.12,291.85 137.38,292.64 136.12,292.24 132.88,289.85 131.75,288.62 130.92,287.12 130.54,285.88 130.55,284.88 131.05,283.38 130.88,282.68 125.12,277.04 123.38,275.65 120.62,274.22 108.88,269.62 106.12,268.86 104.12,268.56 102.12,268.88 100.70,269.62 100.44,270.12 100.46,270.62 102.29,273.88 102.47,275.38 102.14,276.38 101.38,277.54 99.62,278.77 96.88,279.24 86.38,279.28 82.12,280.43 81.13,280.12 80.38,279.48 78.60,277.38 77.07,275.12 76.12,274.17 72.12,272.39 70.33,271.12 69.61,270.12 69.32,269.38 69.39,267.38 69.91,266.38 70.62,265.59 72.12,264.66 73.62,264.07 89.12,263.87 95.09,261.12 100.72,257.88 103.12,257.11 106.62,256.56 108.62,256.51 111.38,256.78 113.88,257.37 115.88,258.36 118.38,260.43 119.17,260.88 124.88,262.62 127.88,263.87 130.38,263.99 131.62,263.70 133.88,262.49 135.38,261.43 137.12,259.79 140.12,258.21 142.88,257.22 149.12,255.85 154.12,255.06 161.88,254.28 175.88,253.47 185.88,252.16 189.88,251.18 191.88,251.16 200.12,253.60 202.12,254.45 205.12,256.08 205.88,256.71 206.81,258.38 206.91,259.12 206.74,259.88 206.12,260.91 203.85,262.62 203.36,263.62 203.69,264.88 204.30,265.62 205.12,266.26 211.62,269.29 217.62,271.83 219.88,272.44 227.62,273.60 232.12,275.02 236.59,277.12 238.12,278.05 240.38,279.78 243.26,283.38 244.88,284.22 246.88,285.68 248.88,286.61 250.39,287.62 250.97,288.38 251.41,290.12 251.32,290.88 250.83,292.12 250.38,292.58 249.38,293.05 248.12,293.45 246.88,293.60 244.62,292.93 243.62,292.34 242.88,291.58 240.25,286.88 237.88,284.08 234.38,281.65 233.12,281.12 231.88,280.85 229.38,280.81 226.62,281.57 224.62,282.77 221.48,286.38 220.62,287.10 218.62,287.65 217.12,287.72 211.12,286.67 204.88,283.92 199.12,282.56 195.88,282.26 191.38,283.38 190.38,283.40 188.88,283.08 188.12,282.73 187.62,282.26 185.62,279.35 182.12,276.80 180.38,275.78 177.62,275.06 174.12,274.99 172.12,274.70 166.88,273.31 164.62,273.28 162.88,273.68 161.88,274.27 160.28,276.12 159.27,277.88 158.36,280.38 158.02,283.38 158.28,287.88 159.14,291.88 159.07,293.12 158.40,294.62 157.12,296.37 155.88,297.14 154.12,297.64ZM244.12,260.19 242.88,260.30 241.88,259.94 241.27,259.12 241.06,258.12 241.38,256.88 242.48,255.12 243.62,254.31 244.62,254.20 245.88,254.50 247.54,255.38 248.30,256.12 248.56,256.88 248.40,257.38 247.88,257.93 245.62,259.56 244.12,260.19ZM66.62,286.90 65.12,286.90 61.38,285.88 58.88,284.10 56.88,283.31 41.62,281.44 39.12,280.65 38.22,280.12 37.15,278.62 36.77,276.88 37.15,275.12 38.12,273.77 38.88,273.21 39.88,272.81 41.88,272.51 45.38,272.47 46.88,272.13 48.42,271.38 48.79,270.88 48.86,270.38 48.46,269.62 47.62,268.92 44.62,267.44 41.88,266.88 38.35,266.62 37.38,266.35 36.78,265.88 36.62,265.38 36.80,264.62 37.39,263.62 38.25,262.88 41.88,261.18 44.12,259.37 45.38,259.05 46.38,259.36 49.88,261.46 55.62,263.79 57.38,264.25 58.48,264.88 59.38,265.97 60.75,270.62 61.85,272.88 62.58,273.88 63.88,274.67 67.62,275.03 68.62,275.32 70.70,276.62 71.69,278.12 71.97,279.38 71.90,281.12 71.54,282.38 70.54,284.38 69.88,285.23 68.88,285.99 67.88,286.54 66.62,286.90ZM175.92,272.12 177.88,271.21 179.88,269.28 180.31,268.38 180.44,267.62 180.22,266.88 179.72,266.38 178.62,266.02 176.38,266.33 175.12,266.87 174.05,267.88 173.32,269.38 173.28,270.38 173.49,271.12 174.38,272.01 175.12,272.21 175.92,272.12ZM43.38,297.39 42.12,297.38 41.12,296.86 39.94,295.38 39.12,293.12 39.22,292.12 39.88,291.05 40.88,290.27 42.12,289.81 43.88,289.86 45.12,290.43 46.12,291.46 46.69,292.88 46.68,294.38 46.12,295.64 45.12,296.64 43.38,297.39ZM51.38,306.15 48.38,306.12 47.38,305.64 46.55,304.88 45.70,303.38 45.12,301.62 45.28,300.38 45.88,299.58 47.62,298.76 48.88,298.53 50.62,298.51 52.62,298.98 53.88,299.89 54.62,301.02 55.06,302.12 55.11,302.88 54.89,303.62 54.38,304.47 53.47,305.38 51.38,306.15ZM82.12,307.13 79.88,307.36 78.62,307.24 77.62,306.62 76.77,305.38 76.48,303.88 76.62,301.78 77.38,300.34 78.62,299.24 80.12,299.01 81.88,299.48 84.12,300.80 85.36,301.88 85.86,302.62 86.06,303.88 85.38,305.39 84.12,306.37 82.12,307.13ZM195.38,310.90 193.62,310.91 192.62,310.22 191.82,308.88 191.51,306.88 191.73,304.88 192.32,303.62 193.38,302.78 195.12,302.29 196.62,302.64 198.37,303.88 199.11,304.88 199.46,306.12 199.12,307.75 198.44,309.12 196.62,310.47 195.38,310.90ZM125.12,306.65 123.38,306.74 122.12,306.46 121.46,305.88 121.35,305.38 121.48,304.88 123.12,303.47 125.62,302.82 128.62,303.18 129.65,303.62 130.42,304.38 130.44,305.12 129.87,305.62 128.12,306.15 125.12,306.65ZM326.62,313.14 324.62,313.18 323.88,312.87 323.38,312.36 323.09,311.62 323.19,310.88 324.38,309.62 325.12,309.32 326.12,309.32 326.88,309.62 327.63,310.38 328.10,311.38 328.08,312.12 327.62,312.72 326.62,313.14Z" fill="#fde2ab" fill-rule="evenodd" stroke="#3c3c3c" stroke-width="0.62"/>
<path d="M299.38,233.18 298.38,233.27 295.38,232.56 293.38,232.50 286.88,233.24 282.12,233.22 280.38,232.67 279.85,232.12 279.69,231.62 279.94,230.88 280.75,229.88 283.36,227.88 288.62,225.43 290.62,224.21 292.38,223.66 294.38,223.31 299.38,222.97 300.88,222.38 302.08,221.38 302.77,220.12 302.81,219.12 299.13,211.12 299.00,206.12 356.88,206.12 356.88,209.11 354.12,209.20 350.38,211.07 346.12,214.71 343.12,216.97 338.38,219.98 332.38,222.69 321.88,228.10 316.38,229.90 306.88,231.70 301.62,232.33 299.38,233.18ZM138.62,238.40 136.62,238.40 135.88,237.93 135.14,237.12 134.77,236.38 134.79,235.88 135.81,234.38 136.62,233.77 139.88,232.39 143.84,229.12 148.12,226.10 150.38,224.93 153.38,224.06 159.38,223.28 163.88,223.19 171.62,223.26 177.38,223.78 182.62,224.56 186.38,225.42 189.88,225.56 191.38,226.30 191.90,227.12 192.18,228.12 192.23,229.12 191.98,230.12 191.38,231.30 190.62,232.26 189.38,233.12 186.88,233.83 185.38,233.99 180.12,234.03 166.62,235.24 157.62,235.51 155.88,235.74 152.12,235.76 148.62,236.03 145.12,236.56 143.12,237.12 141.38,237.88 138.62,238.40ZM118.62,246.93 117.38,246.94 116.53,246.38 116.03,245.12 116.16,243.62 116.96,241.12 117.93,239.62 119.38,238.65 120.62,238.54 121.38,239.03 121.97,239.88 122.22,240.88 122.09,242.12 121.12,244.54 119.70,246.38 118.62,246.93ZM154.12,285.68 152.38,285.69 150.38,285.19 146.88,282.62 144.62,281.86 140.88,281.50 139.38,281.53 137.38,281.91 136.62,281.80 135.60,281.12 133.88,279.10 131.53,274.88 130.88,274.15 129.88,273.47 126.62,272.53 121.12,272.49 119.12,272.14 115.88,271.13 110.90,269.12 107.12,267.87 101.38,266.79 99.12,265.99 97.61,265.12 97.01,264.38 97.05,263.38 97.56,262.62 98.38,261.96 102.38,259.76 107.38,258.31 110.88,258.28 113.12,258.61 115.12,259.18 119.57,261.12 124.88,262.64 127.88,263.87 130.62,264.03 131.62,264.27 134.44,265.62 135.38,266.42 136.62,267.94 137.38,268.18 141.52,265.12 142.26,261.88 142.89,260.88 146.88,258.63 149.38,257.81 160.38,256.53 172.38,255.99 174.12,255.76 178.38,255.74 181.12,255.47 185.62,254.32 188.12,253.25 191.12,252.61 193.12,252.92 197.38,254.52 199.88,256.17 200.88,257.34 201.32,258.38 201.48,259.38 201.36,260.12 200.85,260.88 197.62,262.48 196.38,263.42 194.62,264.15 193.12,264.54 191.38,265.49 190.12,265.85 188.38,265.83 186.12,264.37 185.12,264.10 173.88,264.01 172.12,264.53 167.62,266.98 164.12,267.90 162.62,267.40 156.12,264.22 154.88,264.10 153.37,264.62 152.25,265.62 152.18,266.62 154.95,269.62 156.28,271.88 157.38,275.07 157.74,277.38 157.72,279.62 157.18,282.38 155.92,284.62 154.91,285.38 154.12,285.68ZM306.38,286.71 305.38,286.84 304.48,286.38 303.20,284.38 302.07,283.12 299.12,282.23 298.38,281.79 297.72,280.88 296.57,278.12 295.38,276.52 287.88,269.54 285.38,267.84 281.92,265.12 281.34,264.12 281.46,263.12 284.12,259.62 285.88,258.94 286.88,259.34 287.42,260.12 287.81,261.12 288.00,264.12 288.52,265.12 289.43,265.88 291.62,267.08 293.62,267.73 295.62,267.80 299.12,267.29 302.62,267.26 305.38,266.57 306.12,266.04 306.66,265.12 307.06,262.12 307.39,261.38 308.47,260.38 309.88,259.85 312.12,259.78 313.88,260.21 316.44,261.62 317.78,262.88 318.22,263.62 318.38,264.38 318.04,266.12 315.74,269.88 313.61,272.88 312.38,275.12 310.60,278.88 308.55,284.62 307.62,285.87 306.38,286.71ZM45.38,265.63 44.62,265.49 43.88,265.08 43.42,264.38 43.37,263.62 43.69,262.88 44.38,262.11 45.12,261.74 46.12,261.72 46.62,261.91 47.06,262.38 47.42,263.38 47.45,264.12 46.88,265.14 46.12,265.53 45.38,265.63ZM87.62,268.18 86.38,268.34 85.38,268.18 84.61,267.62 84.44,266.88 84.88,266.31 85.88,265.93 87.62,266.05 88.80,266.38 89.21,266.88 89.13,267.38 88.46,267.88 87.62,268.18ZM217.12,283.90 215.88,283.97 214.38,283.70 206.88,281.36 200.12,280.06 195.88,280.00 192.12,280.23 188.38,279.48 187.38,279.06 185.38,277.66 182.86,276.88 181.88,276.35 180.93,274.88 180.77,273.88 180.88,273.12 182.80,270.12 186.62,267.68 189.12,266.79 191.62,267.28 193.38,268.07 196.62,268.91 211.38,275.24 217.38,276.62 219.38,277.40 220.62,278.11 221.42,278.88 221.71,279.62 221.62,280.62 221.15,281.62 220.42,282.62 219.62,283.22 217.12,283.90ZM98.12,276.15 96.38,276.22 95.49,275.88 94.88,274.88 95.22,273.88 95.88,273.30 96.62,273.05 97.42,273.12 98.38,273.53 98.88,274.14 99.04,275.12 98.63,275.88 98.12,276.15ZM50.88,280.65 44.12,280.75 42.62,280.52 41.62,280.07 40.38,279.15 39.95,278.38 39.94,277.62 40.38,276.97 41.62,276.10 44.38,275.07 49.12,274.64 52.62,273.29 54.12,273.54 55.38,274.12 56.23,275.12 56.69,276.38 56.62,277.61 56.14,278.62 55.38,279.43 54.12,280.04 50.88,280.65ZM64.88,285.63 63.62,285.33 62.62,284.38 62.22,283.38 61.77,281.12 61.94,279.88 62.38,279.07 63.37,278.38 64.62,278.12 66.38,278.43 67.38,279.02 68.28,280.12 68.73,281.88 68.47,283.12 67.38,284.67 66.38,285.29 64.88,285.63ZM291.12,295.93 290.12,295.89 288.88,295.49 287.12,294.42 286.11,292.88 285.54,290.62 286.10,288.88 287.18,287.62 289.38,286.21 291.62,285.77 292.88,286.11 294.62,287.39 295.51,288.88 295.70,290.62 295.37,292.38 294.62,293.86 293.12,295.14 291.12,295.93Z" fill="#ff7d00" fill-rule="evenodd" stroke="#3c3c3c" stroke-width="0.62"/>
<path d="M314.62,226.40 309.12,226.50 306.88,226.19 304.12,225.43 301.62,223.86 301.27,223.38 301.15,222.62 302.42,220.88 302.87,219.62 302.56,218.38 301.06,215.12 301.36,213.62 302.12,212.59 303.85,211.62 306.38,211.03 312.88,210.51 321.62,210.50 324.12,210.74 328.62,210.76 339.62,211.53 342.12,212.08 342.88,212.68 342.94,213.88 342.38,214.91 339.38,216.90 336.12,218.56 322.62,224.63 319.62,225.67 314.62,226.40ZM296.38,232.20 291.88,231.97 288.62,231.29 287.46,230.62 286.57,229.62 286.32,228.88 286.48,228.12 287.29,226.88 288.53,225.62 289.88,224.61 291.12,224.01 294.88,223.26 298.38,223.45 299.62,223.75 300.62,224.30 301.20,225.12 301.64,226.62 301.53,228.12 300.93,229.12 299.88,230.14 296.38,232.20ZM163.12,233.40 155.38,233.50 153.12,233.13 152.11,232.62 151.11,231.62 150.64,230.62 150.70,229.62 151.12,228.90 152.38,227.80 154.12,226.93 158.12,226.06 162.62,225.75 169.62,226.03 175.88,227.06 178.38,228.12 179.52,229.38 179.48,230.12 178.88,230.81 177.12,231.81 175.62,232.39 169.38,233.22 163.12,233.40ZM186.12,263.91 173.88,263.90 171.62,263.12 171.03,262.62 170.73,261.88 170.88,261.38 171.38,260.88 173.62,259.67 176.88,258.61 181.38,257.90 186.12,256.89 189.88,255.09 191.12,254.74 191.88,254.72 193.38,255.06 195.62,255.98 196.88,256.80 197.52,257.62 197.87,258.62 197.88,259.38 197.52,260.38 196.91,260.88 195.42,261.38 191.88,261.92 186.12,263.91ZM130.88,272.64 129.88,272.74 127.62,272.50 121.12,272.49 118.88,272.07 115.88,271.13 110.90,269.12 107.12,267.87 103.12,267.18 101.38,266.63 100.12,265.74 99.59,265.12 99.35,264.38 99.42,263.62 100.12,262.73 103.04,261.12 104.88,259.30 106.12,258.57 107.88,258.26 110.62,258.26 112.88,258.56 114.88,259.10 118.91,260.88 121.38,261.74 124.88,262.64 127.88,263.87 131.12,264.14 132.38,264.89 133.76,266.62 133.97,267.38 133.95,268.38 133.55,269.62 132.85,270.88 131.68,272.12 130.88,272.64ZM151.38,282.93 149.38,282.94 146.88,282.32 144.38,281.37 140.38,280.28 138.38,279.04 137.10,277.38 136.50,275.12 136.56,272.88 137.26,271.38 139.12,269.56 142.62,268.10 143.88,267.78 146.62,267.78 148.38,268.11 149.88,268.71 151.38,269.79 152.46,270.88 153.62,272.58 154.87,275.62 155.00,277.62 154.88,279.61 154.12,281.15 153.12,282.24 151.38,282.93ZM302.12,276.44 300.88,276.54 298.62,276.15 297.62,275.63 296.83,274.88 296.28,273.62 296.20,272.38 296.52,271.38 297.38,270.32 298.62,269.89 300.38,270.17 301.88,270.96 304.12,272.81 304.43,273.62 304.04,274.88 303.12,275.95 302.12,276.44ZM196.62,279.15 191.38,279.21 190.30,278.88 187.88,277.64 186.88,276.55 186.18,275.12 185.96,273.38 186.33,272.12 187.12,271.24 187.88,270.82 188.88,270.64 190.38,270.66 196.88,272.85 198.88,273.92 199.62,274.57 199.91,275.12 199.97,276.12 199.64,277.38 199.19,278.12 198.62,278.63 196.62,279.15ZM217.38,281.16 215.62,281.22 214.38,280.79 213.46,279.88 213.29,279.38 213.43,278.88 214.38,278.14 215.38,277.83 216.62,277.97 218.12,278.50 218.62,279.12 218.61,279.88 218.12,280.69 217.38,281.16Z" fill="#d96b00" fill-rule="evenodd" stroke="#3c3c3c" stroke-width="0.62"/>
<path d="M316.62,223.64 315.12,223.73 314.12,223.42 313.28,222.38 312.92,221.12 312.98,220.12 313.55,219.12 314.62,218.15 315.62,217.81 316.86,217.88 317.88,218.37 318.72,219.38 319.07,220.38 319.02,221.38 318.45,222.38 317.62,223.18 316.62,223.64ZM192.88,261.16 191.88,261.25 190.94,260.88 190.18,260.12 189.67,259.12 189.68,258.62 190.12,257.84 190.88,257.15 191.62,256.79 192.38,256.86 193.38,257.50 194.20,258.12 194.70,258.88 194.71,259.62 194.38,260.31 192.88,261.16ZM110.88,266.41 106.62,266.45 105.16,266.12 104.38,265.71 103.87,265.12 103.66,264.12 104.00,262.88 104.77,261.62 106.38,260.17 108.12,259.57 110.38,259.93 111.88,260.76 112.78,261.62 113.22,262.38 113.52,263.38 113.54,264.38 113.28,265.12 112.62,265.84 110.88,266.41ZM124.62,271.15 122.62,271.19 121.00,270.62 119.59,269.12 119.20,268.12 119.28,267.38 119.88,266.89 120.69,266.62 123.62,266.54 126.38,267.06 127.85,267.88 128.33,268.62 128.42,269.12 128.32,269.62 127.88,270.28 126.62,270.89 124.62,271.15ZM148.88,280.65 146.62,280.72 144.62,280.29 141.86,278.88 140.03,276.88 139.32,275.38 139.38,273.62 140.05,272.38 141.62,270.75 143.62,269.81 145.12,269.53 147.12,269.57 149.62,270.80 151.16,272.62 151.83,273.62 152.43,275.38 152.47,276.62 152.27,277.62 151.82,278.62 150.97,279.62 149.88,280.35 148.88,280.65Z" fill="#a04b10" fill-rule="evenodd" stroke="#3c3c3c" stroke-width="0.62"/>
<path d="M147.38,277.68 146.12,277.69 145.12,277.36 143.88,276.48 143.11,275.38 142.93,274.38 143.33,273.38 144.20,272.62 145.38,272.01 146.88,271.78 148.88,272.31 149.72,272.88 150.37,273.88 150.43,275.12 149.95,276.12 148.88,277.04 147.38,277.68Z" fill="#a00014" fill-rule="evenodd" stroke="#3c3c3c" stroke-width="0.62"/>
<path d="M58.62,212.13 56.62,211.89 54.88,211.23 52.38,209.42 51.91,208.62 51.87,206.12 69.37,206.12 69.24,208.88 68.82,209.38 67.62,210.14 66.62,210.57 62.62,211.65 58.62,212.13ZM83.88,229.15 82.12,229.25 81.12,229.09 77.62,227.30 74.13,224.62 73.38,223.55 73.24,222.62 73.57,222.12 74.39,221.62 80.38,219.53 84.88,217.40 86.62,216.78 90.63,214.62 91.62,213.35 93.03,209.38 93.20,206.12 117.56,206.12 117.56,208.12 117.38,208.88 114.62,210.79 109.78,214.88 107.33,217.12 103.12,221.62 100.88,223.32 98.10,224.88 91.88,227.41 87.38,228.64 83.88,229.15ZM144.62,216.18 142.88,216.22 141.38,215.79 140.12,215.08 136.88,212.68 135.53,211.12 134.58,209.38 134.41,206.12 146.25,206.12 146.19,213.88 145.62,215.51 145.12,215.99 144.62,216.18ZM260.38,229.67 258.03,229.62 254.59,228.38 251.62,226.48 249.26,224.12 247.63,222.12 246.62,219.78 245.88,216.68 244.07,212.62 244.00,206.12 291.13,206.12 291.12,208.38 290.89,209.12 287.60,211.62 287.19,212.38 286.53,214.62 285.38,216.12 284.12,216.65 281.62,217.20 271.88,218.35 268.38,219.47 267.12,220.51 265.30,222.62 264.22,224.62 262.62,228.30 261.68,229.12 260.38,229.67ZM25.12,227.65 21.12,227.75 21.12,218.70 23.88,218.66 26.88,217.85 29.88,217.39 37.62,215.02 39.38,214.92 40.38,215.25 40.88,215.66 41.46,217.12 41.19,218.62 40.12,220.40 38.62,221.76 33.38,225.15 28.88,226.83 26.88,227.39 25.12,227.65ZM61.88,229.39 59.12,229.47 56.62,228.88 52.51,227.12 50.98,226.12 49.32,224.38 48.82,223.12 49.05,221.38 50.12,219.18 51.79,217.62 52.88,217.05 55.38,216.11 58.38,215.70 61.12,215.78 62.88,216.11 65.88,217.32 67.38,218.19 68.53,219.38 69.62,221.38 69.74,222.88 69.42,224.12 68.75,225.12 67.71,226.12 63.88,228.55 61.88,229.39ZM353.62,292.13 352.38,291.86 348.38,289.60 344.88,286.93 342.62,286.31 338.38,285.64 336.38,284.99 332.38,283.35 329.88,281.49 327.01,278.62 325.60,276.88 324.47,275.12 323.43,272.62 323.07,270.88 323.26,269.62 324.04,267.88 325.35,266.38 326.17,265.12 326.33,263.88 324.90,261.12 324.52,258.62 323.12,256.36 321.36,254.12 320.07,251.88 319.12,251.04 317.88,250.76 316.38,250.81 310.88,251.72 307.88,251.67 306.76,251.12 305.62,250.16 305.19,249.38 305.06,248.62 305.38,247.43 306.12,246.55 307.88,245.44 309.62,244.85 311.38,244.53 314.62,244.51 318.38,245.19 319.88,245.25 321.12,245.09 322.29,244.62 323.48,243.62 324.06,242.62 324.35,239.38 325.19,236.62 326.12,234.95 327.84,233.12 329.62,231.80 332.38,230.15 340.88,225.95 342.62,224.62 344.12,223.04 351.12,217.71 353.12,217.06 356.88,217.00 356.88,255.56 354.38,255.59 352.88,256.01 351.88,255.96 348.62,254.79 345.88,254.29 341.88,252.58 341.42,252.12 341.31,251.62 342.22,248.88 342.18,247.62 341.93,246.88 340.89,244.88 340.12,244.02 339.12,243.33 337.62,242.85 335.88,242.84 334.33,243.88 333.23,245.62 332.73,247.38 331.23,249.12 331.01,250.12 331.12,252.43 332.71,256.38 335.01,259.12 338.62,262.80 339.10,263.62 339.63,265.38 341.12,266.62 342.88,267.41 344.62,267.72 351.81,266.12 356.88,266.22 356.88,292.05 353.62,292.13ZM125.62,227.89 123.38,227.97 121.88,227.58 120.62,226.95 119.72,225.88 119.12,224.12 119.13,223.12 119.88,221.37 121.62,219.68 123.62,219.27 125.38,219.57 127.12,220.43 128.02,221.38 128.39,222.38 128.49,223.38 128.07,225.88 127.68,226.62 127.15,227.12 125.62,227.89ZM40.12,246.90 38.88,246.99 37.88,246.84 34.85,245.62 33.62,244.67 33.01,243.88 32.35,242.62 32.03,241.38 32.03,239.88 32.38,237.53 32.87,235.62 33.62,234.32 34.38,233.46 35.38,232.82 37.35,231.88 38.88,231.53 40.38,231.53 41.38,231.76 43.12,232.51 44.13,233.38 45.20,234.62 45.79,235.62 46.38,237.13 46.72,239.38 46.72,240.62 46.44,241.88 45.12,244.07 44.12,245.12 42.62,246.09 40.12,246.90ZM99.62,254.63 97.62,254.44 96.38,254.05 93.80,252.62 90.88,250.57 87.88,249.25 86.62,248.93 82.12,249.43 78.38,251.84 76.12,252.88 70.88,253.94 70.12,253.93 69.12,253.62 68.38,253.00 67.71,251.62 66.62,248.38 65.74,244.38 63.38,238.38 63.31,236.88 63.74,235.62 64.62,234.86 65.88,234.79 75.38,238.42 76.62,238.29 78.88,237.39 80.62,237.62 84.88,239.90 89.12,242.64 93.38,246.36 94.12,246.62 94.82,246.12 96.60,241.38 97.87,238.88 99.62,236.53 101.38,234.99 102.88,234.08 105.12,233.36 106.88,233.03 109.38,233.10 111.88,234.04 112.54,234.62 113.12,235.58 113.44,236.62 113.49,237.62 112.88,241.12 111.63,243.88 108.86,247.62 106.90,250.88 105.62,252.23 104.62,252.93 102.12,254.04 99.62,254.63ZM24.38,247.42 21.12,247.50 21.12,237.37 23.38,237.38 24.12,237.60 25.65,238.88 26.57,240.62 26.99,242.62 26.97,244.12 26.75,245.12 26.09,246.38 24.38,247.42ZM244.38,251.16 243.12,251.11 240.88,250.19 236.62,249.10 235.38,248.23 235.02,247.12 235.39,245.38 237.55,242.12 239.38,240.71 242.88,238.67 243.88,238.37 245.12,238.72 248.38,240.77 249.88,242.59 250.24,243.88 250.18,246.12 249.62,247.89 249.12,248.78 247.38,250.04 244.38,251.16ZM191.62,250.93 187.62,250.95 184.62,250.31 182.12,250.00 172.38,250.00 167.38,250.44 166.23,250.12 165.56,249.62 165.12,248.84 165.03,247.62 165.61,246.12 166.62,245.05 169.26,243.62 171.38,242.76 178.12,241.31 183.12,240.64 188.62,238.95 190.62,238.83 195.62,240.12 198.38,241.27 200.08,242.88 200.84,244.12 200.98,244.88 200.92,245.88 200.62,246.52 198.94,248.12 195.12,249.79 191.62,250.93ZM117.12,258.67 116.12,258.47 114.54,257.62 113.98,257.12 113.95,256.62 114.19,256.12 115.88,253.88 120.64,249.12 126.38,244.67 129.38,243.13 130.12,243.09 130.88,243.47 131.58,244.88 131.64,246.62 130.96,249.12 130.12,250.49 128.88,251.58 120.88,256.99 118.88,258.09 117.12,258.67ZM56.38,247.66 55.38,247.44 53.88,246.12 53.64,245.12 54.12,244.43 55.12,244.06 56.12,244.03 57.37,244.38 57.96,244.88 58.21,245.62 58.06,246.62 57.38,247.29 56.38,247.66ZM221.88,251.15 218.88,251.16 218.02,250.62 217.84,249.88 218.15,249.38 219.38,248.28 221.88,247.16 225.12,246.78 225.88,246.99 226.61,247.62 226.87,248.62 226.66,249.12 226.14,249.62 223.88,250.74 221.88,251.15ZM274.88,297.63 273.88,297.79 273.12,297.60 272.14,296.88 271.45,295.88 270.71,294.38 270.35,293.12 270.22,290.62 269.75,287.88 269.37,287.12 268.12,285.62 266.14,284.12 265.38,283.81 263.88,283.53 261.38,283.47 258.62,283.04 256.38,281.89 255.15,280.62 254.83,279.62 254.89,278.88 256.12,276.84 257.12,275.81 259.85,274.12 260.88,273.12 260.12,272.92 258.12,273.30 251.38,275.17 246.88,276.81 245.62,276.80 243.38,275.81 240.88,274.18 238.62,273.94 235.62,273.32 232.88,272.43 230.88,271.53 229.62,270.71 228.62,269.57 228.22,267.88 228.49,266.88 230.13,263.62 231.12,262.79 233.12,262.03 240.12,261.48 241.88,261.78 245.88,263.45 247.12,263.41 251.38,261.65 252.60,260.88 254.84,257.62 257.38,254.51 259.62,252.57 261.62,251.47 263.62,250.63 264.62,250.56 266.12,250.98 268.62,252.49 271.12,255.03 274.33,258.88 277.93,261.62 278.70,262.62 279.07,263.88 278.87,265.12 278.37,265.88 276.66,267.38 276.32,268.12 276.28,269.62 276.86,272.88 277.61,275.12 278.05,275.88 281.67,279.12 282.88,280.88 283.72,283.62 283.72,285.12 283.42,286.12 280.12,290.84 278.38,294.42 276.88,296.31 275.88,297.14 274.88,297.63ZM51.88,257.18 50.88,257.12 50.12,256.74 49.59,256.12 49.29,255.12 49.48,254.12 50.16,253.12 50.88,252.39 51.62,252.12 52.38,252.35 52.82,252.88 53.24,254.62 53.06,256.38 52.60,256.88 51.88,257.18ZM37.62,257.64 36.62,257.87 35.38,257.50 34.38,256.91 33.86,256.12 33.64,255.12 33.88,254.38 34.59,253.62 35.62,252.98 36.62,252.78 37.62,252.97 38.77,253.62 39.28,254.38 39.45,255.38 39.27,256.12 38.62,256.98 37.62,257.64ZM25.38,300.41 24.62,300.55 21.12,300.51 21.12,270.31 23.62,270.34 24.38,270.59 30.48,275.88 31.65,277.62 32.90,280.12 33.94,284.38 33.99,288.62 33.44,292.12 31.81,295.62 30.54,297.12 27.12,299.64 25.38,300.41ZM121.88,297.40 118.32,297.38 114.38,296.24 110.62,294.79 104.12,293.03 101.62,292.57 95.38,290.48 92.62,289.13 91.70,288.38 90.47,286.38 90.39,285.12 91.16,284.38 93.12,283.80 104.62,282.15 107.38,281.32 110.38,279.77 114.62,278.36 119.38,277.51 120.62,277.56 122.38,278.03 123.48,278.88 124.12,279.88 124.56,283.62 124.93,285.12 126.28,288.88 127.43,290.88 128.26,293.12 127.89,294.38 126.94,295.38 124.12,296.79 121.88,297.40ZM170.38,294.39 168.62,294.37 167.62,293.81 166.99,293.12 166.51,291.38 166.76,288.62 167.18,287.62 168.12,286.61 169.62,285.85 172.62,284.86 175.12,284.31 180.12,283.78 186.38,283.40 188.38,283.65 190.38,284.15 193.38,285.43 194.62,286.46 195.91,288.38 195.94,289.88 195.58,290.88 194.88,291.47 193.62,291.84 191.38,291.94 186.12,290.57 183.12,290.53 176.38,291.63 174.12,292.42 171.38,294.03 170.38,294.39ZM141.38,300.65 140.12,300.74 137.38,300.46 136.12,299.86 135.18,298.62 134.97,297.88 135.32,296.88 136.12,295.74 137.12,295.06 138.62,294.82 141.38,295.42 142.95,296.38 143.78,297.62 143.86,298.88 143.44,299.62 142.88,300.12 141.38,300.65ZM66.38,304.91 65.62,305.11 65.12,304.90 64.23,303.62 64.14,303.12 64.33,302.38 64.82,301.62 65.38,301.23 65.88,301.19 66.62,301.56 67.19,302.12 67.58,302.88 67.37,303.88 66.38,304.91ZM231.12,321.88 214.37,321.88 214.41,319.38 214.62,318.84 215.38,318.16 219.12,316.54 222.38,316.04 224.88,316.31 229.88,318.13 230.88,318.67 231.24,319.12 231.35,319.62 231.37,321.88 231.12,321.88Z" fill="#a6d3f0" fill-rule="evenodd" stroke="#3c3c3c" stroke-width="0.62"/>
<path d="M252.88,210.64 250.38,210.39 249.05,209.62 248.59,208.62 248.56,206.12 256.19,206.12 256.16,208.62 255.86,209.38 254.62,210.27 252.88,210.64ZM90.62,225.40 86.38,225.43 85.62,225.12 84.88,224.34 84.75,223.38 85.57,221.62 86.80,219.88 87.61,219.12 89.38,217.97 90.88,217.35 95.38,216.28 97.88,216.09 99.62,216.33 100.73,216.88 101.44,217.62 101.87,218.62 101.76,219.62 100.96,220.88 99.64,222.12 97.38,223.30 93.62,224.79 90.62,225.40ZM58.88,225.68 57.62,225.71 56.88,225.47 56.06,224.88 55.60,224.12 55.60,223.38 56.03,222.62 57.12,221.76 58.12,221.33 59.12,221.41 60.12,221.79 60.62,222.24 60.92,222.88 60.93,223.62 60.58,224.62 59.88,225.29 58.88,225.68ZM40.38,244.68 38.62,244.68 37.62,244.24 36.05,242.88 35.32,241.38 35.31,239.12 36.27,236.38 37.38,235.07 38.62,234.61 39.38,234.57 40.38,234.81 41.88,235.80 42.97,237.12 43.44,238.62 43.62,240.38 43.12,242.57 41.91,243.88 40.38,244.68ZM100.88,252.38 99.38,252.21 97.88,251.58 97.29,250.88 97.06,249.88 97.36,247.88 97.85,246.38 100.69,240.38 102.05,238.12 103.67,236.62 105.38,235.87 106.88,235.55 108.38,235.46 109.38,235.73 110.38,236.62 110.97,238.38 110.90,239.88 110.16,242.38 106.03,247.38 103.92,250.88 102.38,252.02 100.88,252.38ZM344.62,242.88 342.62,242.57 341.38,241.86 340.88,241.15 340.66,240.38 340.72,239.88 341.12,239.29 342.38,238.61 344.38,238.53 346.62,239.21 348.05,240.12 348.19,240.88 347.38,241.95 346.26,242.62 344.62,242.88ZM85.38,249.14 81.12,249.21 78.12,248.18 75.88,247.10 71.62,245.89 70.69,245.12 70.12,243.87 70.03,242.12 70.40,240.88 71.62,239.62 72.88,239.26 74.12,239.28 76.62,239.71 79.12,239.55 81.12,240.11 83.12,241.54 84.57,242.88 86.10,244.88 86.68,246.62 86.71,247.88 86.38,248.68 85.38,249.14ZM193.12,248.89 190.62,249.01 187.62,248.63 183.88,247.77 182.94,247.12 182.42,246.38 182.27,245.38 182.48,244.38 183.12,243.55 184.12,242.89 188.62,241.11 191.12,240.79 193.12,241.35 194.91,242.38 195.80,243.12 196.47,244.12 196.73,245.38 196.47,246.62 195.81,247.62 194.88,248.28 193.12,248.89ZM127.88,250.65 126.62,250.87 125.88,250.61 125.24,249.88 125.04,248.88 125.45,247.62 126.62,245.96 127.38,245.34 128.38,245.11 129.12,245.38 129.66,245.88 129.96,247.12 129.26,249.62 128.62,250.33 127.88,250.65ZM120.12,256.89 118.92,256.88 118.06,256.38 117.51,255.38 117.65,254.38 118.38,253.62 120.62,252.36 121.88,252.03 123.12,252.26 123.52,252.62 123.70,253.38 123.14,254.88 121.88,256.18 120.12,256.89ZM254.12,266.38 252.62,266.32 251.38,265.71 250.74,264.62 250.76,263.38 251.73,261.88 253.65,259.88 255.62,259.01 256.88,259.00 258.12,259.91 258.79,261.12 259.06,262.38 258.86,264.12 258.34,264.88 256.93,265.88 255.62,266.29 254.12,266.38ZM272.38,274.89 271.62,274.88 270.88,274.62 269.88,274.01 269.29,273.38 268.79,272.38 268.10,269.38 268.02,267.88 268.21,267.12 269.12,266.26 270.38,265.75 271.88,265.66 273.12,266.06 274.02,266.88 274.34,267.88 274.47,270.12 273.96,272.38 273.12,274.30 272.38,274.89ZM238.62,270.15 237.12,270.15 234.48,269.38 233.98,268.88 233.64,268.12 233.78,267.12 235.08,266.38 236.88,266.07 240.12,266.27 241.12,266.66 241.70,267.62 241.38,268.75 240.62,269.41 238.62,270.15ZM356.88,289.75 353.88,289.71 352.12,288.93 347.88,285.53 341.88,281.61 339.12,281.06 336.38,280.97 334.88,280.69 331.38,279.40 329.38,278.43 327.37,276.88 326.18,274.88 326.24,273.88 327.38,272.54 329.12,271.57 331.12,271.53 334.62,272.19 336.38,272.22 347.88,270.65 352.88,268.81 356.88,268.75 356.88,289.75ZM25.88,294.14 21.12,294.05 21.12,275.06 24.12,275.21 26.65,277.12 28.38,278.85 29.65,280.62 30.56,282.12 31.19,283.62 31.69,286.12 31.75,287.62 31.65,289.12 31.17,290.88 30.37,292.12 29.41,292.88 25.88,294.14ZM276.12,288.65 275.12,288.61 274.38,288.17 273.64,287.12 273.31,286.12 273.26,284.62 273.48,283.62 274.29,282.62 275.12,282.18 275.88,282.35 276.48,282.88 277.04,283.62 277.43,284.62 277.49,286.38 277.31,287.38 276.88,288.18 276.12,288.65ZM120.88,293.91 119.88,293.94 118.38,293.52 116.78,292.38 115.71,291.12 115.28,289.88 115.38,288.62 116.05,287.38 116.88,286.68 117.88,286.52 118.88,286.82 120.48,288.12 122.11,290.12 122.41,291.12 122.21,292.38 121.69,293.38 120.88,293.91Z" fill="#1eb4f0" fill-rule="evenodd" stroke="#3c3c3c" stroke-width="0.62"/>
<path d="M191.88,246.68 191.38,246.69 190.88,246.45 190.32,245.88 190.13,245.38 190.47,244.62 191.38,244.05 192.12,244.20 192.77,245.12 192.62,245.97 191.88,246.68ZM103.12,251.13 102.38,251.22 101.62,251.05 101.15,250.62 100.93,250.12 100.92,249.62 101.31,248.88 101.88,248.37 102.62,248.07 103.88,248.24 104.36,248.62 104.58,249.12 104.48,249.88 104.12,250.56 103.12,251.13Z" fill="#1e6ee6" fill-rule="evenodd" stroke="#3c3c3c" stroke-width="0.62"/>
<path d="M18.85,231.26 18.03,232.90 16.49,233.62 15.31,235.16 15.50,236.16 13.77,238.16 12.41,238.70 11.05,240.16 9.69,242.15 8.79,244.42 9.42,246.05 9.24,248.78 8.42,250.41 8.97,251.77 9.06,252.59 10.42,253.77 11.87,255.04 13.05,256.85 14.23,257.67 16.04,259.21 17.40,259.76 19.67,259.12 22.39,259.39 25.56,258.12 27.28,257.94 28.55,258.40 29.64,259.85 31.00,259.67 32.18,259.76 32.99,260.57 33.09,261.94 32.72,263.30 32.63,265.11 33.72,266.47 34.90,267.83 35.35,269.38 36.26,271.74 35.99,273.73 35.53,276.00 34.90,278.72 34.90,280.09 36.26,282.35 37.35,284.53 37.80,287.80 38.25,288.71 39.61,290.52 40.70,292.61 40.88,294.61 42.33,295.33 44.60,294.61 47.41,294.51 49.13,293.88 50.95,292.34 52.31,290.70 53.58,289.61 53.94,287.35 56.39,285.44 56.39,283.26 55.75,281.72 57.29,280.09 60.01,278.45 61.01,276.91 60.92,273.73 60.01,271.46 59.83,269.65 59.74,268.02 60.65,266.20 61.92,265.20 63.64,263.30 65.91,261.75 67.72,259.67 69.35,256.49 70.26,254.22 70.62,253.04 68.63,253.59 65.91,254.04 64.09,254.31 63.37,253.31 63.46,252.22 62.55,251.50 61.55,250.32 60.29,249.68 59.38,248.32 58.29,246.05 57.93,244.69 57.29,243.33 56.48,241.97 55.57,240.16 54.85,238.98 53.76,236.62 53.49,235.35 51.40,235.35 49.59,235.62 46.87,234.98 45.05,234.35 42.79,234.26 41.97,236.07 40.52,235.80 38.25,234.89 37.35,234.07 34.63,233.62 33.72,232.44 34.17,230.26 33.09,229.90 31.45,230.26 28.73,230.35 25.11,230.63 23.29,231.53 22.21,231.90 19.67,231.53 18.85,231.26ZM345.25,231.26 344.43,232.90 342.89,233.62 341.71,235.16 341.90,236.16 340.17,238.16 338.81,238.70 337.45,240.16 336.09,242.15 335.19,244.42 335.82,246.05 335.64,248.78 334.82,250.41 335.37,251.77 335.46,252.59 336.82,253.77 338.27,255.04 339.45,256.85 340.63,257.67 342.44,259.21 343.80,259.76 346.07,259.12 348.79,259.39 351.96,258.12 353.68,257.94 354.95,258.40 356.04,259.85 357.40,259.67 358.58,259.76 359.39,260.57 359.49,261.94 359.12,263.30 359.03,265.11 360.12,266.47 361.30,267.83 361.75,269.38 362.66,271.74 362.39,273.73 361.93,276.00 361.30,278.72 361.30,280.09 362.66,282.35 363.75,284.53 364.20,287.80 364.65,288.71 366.01,290.52 367.10,292.61 367.28,294.61 368.73,295.33 371.00,294.61 373.81,294.51 375.53,293.88 377.35,292.34 378.71,290.70 379.98,289.61 380.34,287.35 382.79,285.44 382.79,283.26 382.15,281.72 383.69,280.09 386.41,278.45 387.41,276.91 387.32,273.73 386.41,271.46 386.23,269.65 386.14,268.02 387.05,266.20 388.32,265.20 390.04,263.30 392.31,261.75 394.12,259.67 395.75,256.49 396.66,254.22 397.02,253.04 395.03,253.59 392.31,254.04 390.49,254.31 389.77,253.31 389.86,252.22 388.95,251.50 387.95,250.32 386.69,249.68 385.78,248.32 384.69,246.05 384.33,244.69 383.69,243.33 382.88,241.97 381.97,240.16 381.25,238.98 380.16,236.62 379.89,235.35 377.80,235.35 375.99,235.62 373.27,234.98 371.45,234.35 369.19,234.26 368.37,236.07 366.92,235.80 364.65,234.89 363.75,234.07 361.03,233.62 360.12,232.44 360.57,230.26 359.49,229.90 357.85,230.26 355.13,230.35 351.51,230.63 349.69,231.53 348.61,231.90 346.07,231.53 345.25,231.26ZM68.90,274.64 69.90,277.36 69.35,279.18 68.26,282.35 67.36,285.08 66.90,286.44 65.27,286.98 64.09,285.80 63.46,283.72 64.00,282.35 64.46,280.54 64.09,279.18 65.45,278.27 66.81,277.36 67.72,276.00 68.90,274.64ZM16.04,208.85 19.67,210.57 21.48,210.57 22.39,211.57 22.57,213.29 23.75,214.38 24.38,215.20 25.74,215.92 25.47,217.29 23.29,217.65 21.03,218.10 19.03,218.38 20.39,217.01 19.49,216.74 20.39,215.83 20.03,215.38 21.48,215.29 21.21,214.29 19.67,213.84 19.03,213.11 18.58,212.02 19.21,210.84 21.48,210.57M342.44,208.85 346.07,210.57 347.88,210.57 348.79,211.57 348.97,213.29 350.15,214.38 350.78,215.20 352.14,215.92 351.87,217.29 349.69,217.65 347.43,218.10 345.43,218.38 346.79,217.01 345.89,216.74 346.79,215.83 346.43,215.38 347.88,215.29 347.61,214.29 346.07,213.84 345.43,213.11 344.98,212.02 345.61,210.84 347.88,210.57M345.16,216.38 345.16,214.84 345.52,214.11 343.98,213.57 342.89,213.84 341.53,214.56 341.99,215.65 341.53,216.56 342.89,216.92 345.16,216.38ZM22.84,209.30 28.73,209.30 29.19,210.21 29.46,210.93 30.55,211.12 31.91,210.84 33.54,209.94 34.17,210.30 34.63,210.93 35.62,212.48 35.81,213.11 37.17,213.38 38.71,212.66 39.16,212.02 39.43,210.66 40.97,209.84 40.07,208.66M349.24,209.30 355.13,209.30 355.59,210.21 355.86,210.93 356.95,211.12 358.31,210.84 359.94,209.94 360.57,210.30 361.03,210.93 362.02,212.48 362.21,213.11 363.57,213.38 365.11,212.66 365.56,212.02 365.83,210.66 367.37,209.84 366.47,208.66M31.45,209.30 32.00,211.84 33.72,211.39 33.72,212.75 33.09,213.84 32.00,213.38 32.09,214.75 30.55,215.20 28.73,215.38 28.28,216.38 27.28,217.01 25.65,217.56 24.38,218.74 23.02,218.74 22.84,219.55 20.12,219.65 20.30,220.37 22.21,220.92 23.11,222.01 22.93,223.82 22.57,224.36 20.57,224.36 16.95,224.09 15.77,224.73 16.22,225.64 16.22,227.00 15.59,228.54 16.22,229.36 16.04,230.17 17.40,229.99 18.49,230.35 19.12,231.08 20.12,230.44 22.21,230.35 23.47,229.63 24.38,228.54 23.93,227.90 25.02,226.54 27.10,225.73 27.01,224.64 28.28,224.36 30.09,224.64 31.00,224.00 32.18,223.46 33.54,224.27 34.17,225.18 35.35,225.91 36.89,226.72 38.43,227.45 38.71,228.54 38.43,229.27 39.16,228.81 39.79,227.99 39.25,227.00 40.97,227.36 40.52,226.81 38.71,225.82 37.07,225.18 35.44,223.55 35.44,222.46 36.62,222.37 37.35,222.73 37.98,223.64 40.07,224.73 41.88,225.82 41.79,227.18 42.79,228.36 43.42,229.45 43.87,230.35 44.87,230.63 45.05,229.36 45.96,229.08 44.87,227.90 44.69,227.00 45.96,226.72 47.77,226.72 47.95,227.90 48.41,228.81 48.86,229.72 49.59,230.44 51.85,230.81 53.67,230.99 55.48,230.35 56.84,230.35 56.66,231.53 56.75,232.44 56.11,233.80 55.39,235.25 53.49,235.35M357.85,209.30 358.40,211.84 360.12,211.39 360.12,212.75 359.49,213.84 358.40,213.38 358.49,214.75 356.95,215.20 355.13,215.38 354.68,216.38 353.68,217.01 352.05,217.56 350.78,218.74 349.42,218.74 349.24,219.55 346.52,219.65 346.70,220.37 348.61,220.92 349.51,222.01 349.33,223.82 348.97,224.36 346.97,224.36 343.35,224.09 342.17,224.73 342.62,225.64 342.62,227.00 341.99,228.54 342.62,229.36 342.44,230.17 343.80,229.99 344.89,230.35 345.52,231.08 346.52,230.44 348.61,230.35 349.87,229.63 350.78,228.54 350.33,227.90 351.42,226.54 353.50,225.73 353.41,224.64 354.68,224.36 356.49,224.64 357.40,224.00 358.58,223.46 359.94,224.27 360.57,225.18 361.75,225.91 363.29,226.72 364.83,227.45 365.11,228.54 364.83,229.27 365.56,228.81 366.19,227.99 365.65,227.00 367.37,227.36 366.92,226.81 365.11,225.82 363.47,225.18 361.84,223.55 361.84,222.46 363.02,222.37 363.75,222.73 364.38,223.64 366.47,224.73 368.28,225.82 368.19,227.18 369.19,228.36 369.82,229.45 370.27,230.35 371.27,230.63 371.45,229.36 372.36,229.08 371.27,227.90 371.09,227.00 372.36,226.72 374.17,226.72 374.35,227.90 374.81,228.81 375.26,229.72 375.99,230.44 378.25,230.81 380.07,230.99 381.88,230.35 383.24,230.35 383.06,231.53 383.15,232.44 382.51,233.80 381.79,235.25 379.89,235.35M32.36,226.27 32.90,225.45 32.72,224.73 32.09,225.09 32.00,226.54 32.36,226.27ZM31.82,228.36 33.09,226.72 32.54,226.36 31.63,226.63 31.82,228.36ZM35.44,229.27 38.34,228.99 37.89,230.44 35.44,229.27ZM45.51,231.72 48.05,231.72 45.96,232.08 45.51,231.72ZM53.76,236.62 55.21,238.52 55.84,236.98 55.93,238.34 57.29,240.16 58.20,241.70 59.38,243.79 60.01,245.15 61.19,246.51 62.10,248.32 63.01,249.68 63.46,252.13 64.55,252.22 65.91,251.59 68.17,251.05 69.99,250.14 71.53,249.50 74.07,248.14 75.43,247.42 76.61,246.33 77.24,245.15 78.42,243.33 77.33,242.24 76.06,242.06 75.34,241.15 75.34,239.88 74.52,240.61 73.61,241.79 71.80,241.79 70.98,241.70 70.98,240.34 70.26,241.06 69.99,239.97 69.08,239.25 67.90,237.61 67.72,236.98 68.81,236.34 69.99,237.16 70.62,238.34 71.80,238.79 73.16,239.52 75.15,239.16 76.15,240.43 78.15,240.70 80.05,240.88 82.23,240.79 84.58,240.70 85.40,242.15 86.31,242.70 87.39,243.42 88.21,244.87 90.11,244.24 90.21,246.51 90.66,248.32 91.02,249.68 91.75,251.50 92.20,252.86 93.11,254.40 93.65,255.67 94.47,256.40 95.10,255.58 96.10,254.40 96.55,253.31 97.01,251.50 96.91,249.50 97.91,248.96 98.82,248.32 100.36,247.14 101.72,245.78 102.99,244.87 103.08,244.15 104.71,244.06 106.25,243.79 107.43,243.42 107.89,244.69 108.16,245.60 109.25,246.69 109.70,248.32 109.79,249.23 110.79,249.41 112.15,248.50 112.78,249.68 113.23,251.50 113.60,252.86 113.51,254.68 113.23,256.04 113.96,256.94 115.14,258.03 115.59,259.67 116.05,261.12 117.13,262.12 118.04,262.57 118.67,262.39 117.95,260.57 117.95,259.67 116.86,258.12 115.77,257.49 115.23,256.94 114.32,255.49 114.14,254.40 114.50,252.86 114.96,251.59 115.68,251.59 116.23,252.22 117.22,252.68 118.04,253.95 119.22,254.40 119.40,255.95 120.31,255.31 120.94,254.31 121.94,254.04 123.03,253.31 123.30,251.59 123.03,250.59 122.48,249.41 121.39,248.59 120.76,247.78 120.13,246.69 120.13,246.05 120.94,244.96 121.76,244.42 122.57,244.06 123.75,244.24 123.93,245.15 124.39,244.51 125.57,244.15 127.11,243.60 127.74,243.51 129.37,242.97 130.73,242.15 131.82,241.43 132.55,240.61 132.82,239.70 133.45,238.34 134.36,236.98 134.81,236.53 134.18,235.89 134.72,235.44 133.91,234.44 133.45,233.44 132.27,231.99 133.00,231.08 133.91,230.54 135.27,230.17 134.36,229.72 133.00,229.90 131.91,229.45 131.64,229.08 130.91,228.36 131.64,228.18 132.82,227.72 133.91,226.72 135.09,227.00 134.18,227.90 134.45,228.45 135.18,227.90 136.81,227.54 137.71,227.90 137.90,229.27 138.89,229.72 138.62,230.63 138.89,232.35 139.80,232.35 141.34,231.81 141.61,230.63 141.52,229.90 140.71,228.81 139.89,227.90 140.71,227.18 141.79,226.72 141.89,226.09 142.52,225.18 143.43,224.73 144.79,224.91 146.87,224.27 148.59,222.91 149.77,221.55 151.41,219.92 151.59,218.38 151.86,217.01 152.49,216.11 152.31,215.38 150.68,214.56 148.87,214.75 148.23,214.20 146.78,214.02 147.96,213.11 149.32,212.20 151.59,211.12 152.95,210.03 155.67,209.84 158.39,209.94 160.65,209.66 162.47,210.21 164.28,209.94 165.19,208.85M166.09,208.57 165.64,211.57 166.09,213.38 166.09,217.01 167.45,216.56 169.27,214.93 171.08,213.66 171.53,212.02 172.44,210.66 172.89,209.48 173.80,208.85M152.95,222.01 154.31,221.28 153.85,219.28 155.03,219.28 154.03,216.74 154.31,215.65 153.67,214.47 153.22,215.20 152.95,217.47 152.77,219.74 152.95,222.01ZM142.25,235.25 143.34,235.25 143.61,234.07 143.79,232.99 144.79,232.71 145.69,233.26 146.78,233.08 146.96,232.35 148.23,232.71 148.69,232.26 150.05,232.35 150.77,231.81 151.31,231.90 151.86,231.26 151.68,230.35 152.04,229.08 152.77,228.36 152.86,227.45 152.40,226.18 151.41,226.36 151.04,227.45 151.13,228.36 150.41,229.27 149.77,229.90 148.69,230.35 148.23,229.90 147.51,231.26 146.60,231.35 144.79,231.53 143.43,232.35 142.88,232.90 141.89,233.53 142.25,234.53 142.25,235.25ZM151.13,226.09 152.22,225.82 154.03,225.64 155.49,224.73 156.03,224.46 155.85,223.64 154.31,223.64 152.77,222.55 152.58,223.82 152.40,224.55 151.50,224.55 151.13,225.18 151.13,226.09ZM133.09,242.88 133.73,243.79 134.45,242.70 134.72,241.24 134.36,240.79 133.63,241.52 133.09,242.88ZM122.66,246.33 123.93,245.51 124.84,245.96 124.39,246.96 123.48,247.23 122.66,246.33ZM133.00,246.96 134.99,246.96 135.18,248.32 134.45,249.68 134.54,250.86 136.63,251.95 136.45,252.22 135.27,251.41 133.63,251.23 133.45,249.68 132.82,248.96 133.27,248.32 133.00,246.96ZM134.81,257.40 135.72,255.95 137.08,256.04 137.99,254.86 138.98,256.94 138.62,258.03 137.81,258.67 136.63,257.85 135.90,256.94 134.81,257.40ZM134.81,253.77 136.17,254.22 136.63,253.50 137.53,253.59 137.99,252.41 136.90,252.41 135.72,252.86 134.81,253.77ZM130.46,256.13 131.64,255.13 132.55,253.95 132.09,253.59 130.46,256.13M123.03,262.30 123.57,264.02 124.02,265.20 124.21,266.38 125.29,266.47 126.20,266.84 128.01,267.29 129.37,267.20 129.83,266.02 129.83,264.66 130.73,263.48 131.91,262.84 131.10,262.03 131.19,261.12 130.91,259.94 131.82,259.21 132.27,258.94 130.91,258.12 130.28,257.40 129.65,257.85 128.83,259.03 128.01,259.67 126.65,260.85 125.29,261.48 124.84,262.30 123.57,261.94 123.03,262.30ZM110.61,258.67 112.60,259.03 113.78,260.30 115.14,261.48 115.95,261.94 117.41,263.02 118.22,264.48 118.95,265.38 120.31,266.47 120.22,267.83 120.13,269.01 119.13,269.10 118.04,268.11 116.95,267.38 116.05,266.29 115.32,264.66 114.41,263.30 113.69,262.21 112.60,261.21 111.69,260.21 110.61,258.67ZM119.58,269.92 120.31,269.10 121.39,269.19 122.39,269.47 124.39,269.92 125.20,269.74 126.38,270.01 128.01,270.74 127.92,271.65 125.75,271.28 123.93,271.01 122.12,270.74 120.67,270.47 119.58,269.92ZM128.65,271.01 129.65,271.46 131.19,271.46 132.09,271.65 133.45,271.55 135.27,271.46 135.72,271.83 133.73,271.92 131.64,271.92 129.83,271.92 128.65,271.01M136.63,273.01 137.99,271.92 139.53,271.37 137.53,272.37 136.63,273.01ZM132.55,268.74 132.64,266.93 131.91,266.29 132.37,265.11 132.82,263.75 133.45,262.75 134.81,262.84 136.17,262.93 137.08,262.30 137.71,262.48 136.63,263.39 133.91,263.30 133.36,264.57 134.36,264.66 135.72,264.57 134.99,265.38 135.27,266.93 134.09,266.38 133.91,267.65 134.36,268.11 133.36,268.83 132.55,268.74ZM139.80,262.12 140.43,264.48 140.71,263.11 140.16,262.39M138.44,266.65 139.80,266.74 139.62,267.20 138.53,267.20 138.44,266.65ZM140.25,266.74 142.07,266.65 142.79,267.20 140.71,267.11 140.25,266.74ZM142.97,264.84 144.33,264.11 145.69,264.57 145.87,266.11 147.05,266.84 148.87,265.20 149.86,265.38 151.59,265.93 152.49,266.20 155.21,267.38 156.39,268.56 157.66,269.38 158.39,271.01 159.57,272.37 160.93,273.19 159.93,273.37 157.93,272.92 156.57,271.19 154.94,270.65 154.03,271.46 153.40,272.19 152.04,272.01 150.23,271.10 149.32,270.56 149.14,268.65 147.05,267.74 144.79,267.47 143.88,266.29 145.24,265.84 143.70,265.20 142.97,264.84ZM160.20,268.56 161.56,268.20 162.19,267.56 162.01,268.74 160.65,269.38 158.84,268.83 160.20,268.56M164.73,269.65 166.55,270.56 169.27,271.92 171.08,273.28M127.20,283.72 127.38,285.98 127.74,287.80 128.47,290.52 128.47,294.24 129.55,295.51 131.19,295.51 133.00,294.51 134.81,294.51 136.63,293.70 138.44,292.97 141.16,292.43 143.43,292.34 145.24,292.97 146.15,293.70 147.14,295.33 148.41,293.70 149.14,293.43 148.87,294.79 149.32,296.06 150.68,296.24 151.59,298.24 152.95,298.60 154.31,298.96 155.67,298.24 156.94,299.14 158.39,298.05 160.20,297.69 160.38,296.24 161.29,294.61 162.47,292.97 163.10,291.43 163.46,289.43 163.01,286.89 162.01,285.98 160.93,284.17 159.57,282.81 158.84,281.90 156.85,280.81 156.57,279.18 155.94,277.36 154.58,276.46 154.22,275.09 153.40,273.46 152.77,275.37 152.58,277.82 152.04,279.18 151.13,279.81 149.77,279.00 148.41,278.09 147.14,277.18 147.51,276.00 148.23,274.82 147.05,274.64 145.24,274.28 144.33,274.10 142.97,274.82 142.34,275.82 141.70,277.27 140.43,277.18 139.62,276.46 138.44,276.64 137.53,277.54 136.63,278.54 136.08,279.36 134.99,280.09 134.36,280.99 133.00,281.81 131.64,282.17 130.28,282.44 128.92,283.26 127.74,283.62 127.20,283.72ZM155.39,300.69 157.03,301.05 158.66,300.87 158.57,302.05 157.93,302.95 157.03,303.32 155.94,302.14 155.39,300.69ZM180.78,294.97 181.51,295.69 182.23,296.24 182.69,297.15 183.68,297.51 184.68,298.14 186.04,297.96 185.50,299.32 184.59,299.78 184.05,300.78 183.05,301.50 182.50,301.14 182.87,300.05 181.78,299.41 182.50,298.42 182.41,297.33 181.23,296.06 180.78,294.97ZM180.78,300.50 181.96,300.96 182.23,301.59 181.51,302.59 180.87,303.41 179.42,304.13 178.88,305.40 177.43,306.04 176.07,305.68 175.16,305.50 175.43,304.77 176.79,303.68 178.79,302.68 179.69,301.68 180.24,300.96 180.78,300.50ZM96.64,254.86 97.46,255.31 98.46,256.94 97.91,258.12 96.82,258.31 96.55,256.49 96.64,254.86ZM201.00,208.85 203.72,210.57 207.35,210.57 207.80,211.57 205.53,212.93 202.81,213.84 206.44,213.38 209.16,212.20 210.97,210.93 211.88,210.30 212.79,209.30 214.15,209.75 215.51,209.39 217.77,208.85 220.04,209.30 222.76,209.39 224.57,209.75 226.39,210.66 227.75,211.57 229.11,212.93 230.47,213.84 231.83,214.56 232.28,215.65 233.64,216.56 234.55,217.47 235.00,217.92 236.81,218.56 237.72,219.28 239.08,219.74 237.54,219.92 238.17,221.55 238.17,223.37 237.81,225.18 237.99,226.54 238.35,227.90 239.08,229.27 239.53,229.63 240.08,230.54 240.89,231.53 241.26,232.35 242.71,232.71 243.43,233.08 244.34,234.07 244.97,235.16 245.61,236.16 246.51,237.43 247.24,238.34 247.97,239.07 248.87,240.16 249.51,241.43 250.41,242.15 251.32,242.70 250.59,241.79 250.14,240.61 249.05,239.25 248.33,237.89 247.69,236.53 246.61,235.16 248.15,235.44 248.87,236.98 249.96,238.43 251.05,239.70 252.23,240.79 253.59,241.97 254.49,243.06 255.13,244.24 254.95,245.33 255.85,246.33 256.76,247.14 258.57,247.87 260.39,248.59 262.20,249.32 263.56,249.50 264.92,249.05 266.28,249.68 267.01,250.59 268.09,251.14 269.45,251.50 270.81,251.77 271.45,252.13 272.17,253.04 272.90,253.77 272.81,254.68 273.81,254.86 274.80,256.04 275.80,256.31 276.71,256.76 277.70,257.13 278.07,256.22 278.97,255.58 279.70,256.22 280.06,257.22 280.51,258.76 280.42,260.12 279.88,261.30 279.06,262.39 278.25,263.02 277.98,264.20 277.70,265.11 278.25,266.02 277.79,266.84 276.98,267.65 277.07,269.01 278.25,270.28 278.97,271.46 280.15,273.73 281.51,276.27 282.42,277.63 284.23,278.91 285.86,279.90 286.86,280.54 287.04,283.26 286.68,285.53 286.59,287.80 285.95,289.61 285.77,291.88 285.68,293.70 285.14,295.97 284.14,297.51 283.87,299.60 283.69,301.68 283.51,303.23 283.05,304.59 282.15,306.40 282.78,308.22 282.60,310.49 283.51,311.85 285.32,312.94 287.13,313.66 288.95,313.93 290.31,313.48 288.49,312.30 287.77,311.12 288.49,310.03 288.04,309.12 289.13,307.76 290.94,306.67 289.40,305.50 290.31,304.59 291.67,303.23 292.12,302.14 293.03,301.14 294.21,300.50 294.39,299.14 297.11,298.69 298.47,298.14 299.19,296.78 298.65,295.69 297.65,294.70 299.37,295.42 300.82,295.42 302.09,294.42 303.00,293.24 304.36,291.61 305.09,290.07 306.35,288.71 306.54,287.35 306.90,286.71 308.44,285.53 310.25,284.80 312.52,284.53 313.43,283.26 314.33,281.63 314.97,279.63 315.24,277.36 315.33,275.55 316.15,275.09 317.05,273.73 318.41,272.37 318.96,270.56 318.69,268.74 317.05,268.11 315.69,267.11 313.88,266.29 311.16,265.93 310.25,265.11 307.53,264.29 305.72,263.84 304.81,262.39 304.18,260.39 303.00,259.21 301.19,258.40 298.74,258.31 297.74,257.49 296.38,256.22 295.29,255.58 294.84,254.49 293.48,254.04 292.12,254.49 290.31,254.13 288.77,254.22 287.13,252.68 286.86,253.22 285.77,253.95 285.59,255.13 285.32,253.22 284.14,253.50 283.23,253.68 282.15,254.22 281.51,255.31 280.79,255.85 280.06,255.49 278.79,255.13 277.61,255.49 276.71,255.76 275.53,255.04 274.89,253.95 274.62,252.95 274.80,251.50 275.17,250.14 273.99,249.32 272.63,249.23 271.27,249.41 270.54,249.50 270.63,248.32 270.81,246.96 271.27,246.05 271.72,244.24 270.36,244.33 268.73,244.60 268.55,245.60 268.09,246.51 266.73,246.87 264.92,247.23 263.74,246.69 263.11,246.05 262.47,244.87 262.11,243.79 261.93,241.97 262.29,240.34 262.38,238.70 263.11,238.07 264.65,237.16 265.83,236.80 267.64,237.07 269.00,237.25 269.73,236.34 270.81,236.16 272.17,236.16 273.53,236.80 274.44,236.53 275.35,237.43 275.62,238.52 276.43,239.97 277.16,240.88 277.70,240.61 278.07,239.43 277.70,237.89 276.89,236.07 277.16,235.16 277.89,234.26 278.79,233.62 280.06,232.71 281.24,232.17 281.87,231.53 281.51,230.17 282.06,229.36 282.60,228.54 283.33,227.90 283.51,226.91 284.87,226.63 286.23,226.09 287.13,225.91 286.68,225.18 286.59,224.55 287.59,223.91 288.95,223.46 289.85,223.09 290.76,223.37 292.12,222.64 290.76,223.91 291.21,224.27 293.03,223.28 295.29,222.64 295.75,221.55 294.84,222.01 293.48,222.28 292.12,221.55 291.67,220.37 291.94,219.46 290.94,219.19 289.40,219.01 287.59,220.19 286.68,220.92 288.22,219.37 290.31,218.19 293.03,218.10 296.20,218.19 298.47,217.29 299.83,216.83 300.01,215.65 298.65,214.29 296.65,213.57 294.84,212.48 294.21,211.30 293.03,210.39 292.12,209.03M264.65,208.85 264.92,210.21 266.73,211.84 268.55,212.02 270.81,212.75 273.08,213.66 275.98,213.75 276.07,215.65 277.16,216.38 278.25,217.20 279.15,216.56 278.97,214.29 280.79,213.11 281.24,211.57 280.33,210.39 279.88,208.85M273.53,243.88 274.44,243.15 276.25,242.70 278.07,242.88 279.88,243.51 281.24,244.51 283.33,245.42 282.15,245.69 280.33,245.69 280.06,244.96 278.52,244.15 276.71,243.60 275.17,243.79 273.53,243.88ZM283.05,247.05 284.41,245.78 285.77,245.69 287.31,245.96 288.58,246.96 287.13,247.23 285.68,247.69 284.59,247.23 283.05,247.05ZM279.70,247.05 281.42,247.32 280.79,247.60 279.70,247.05ZM289.67,247.42 291.12,247.14 291.03,247.42 289.67,247.42ZM296.74,220.55 298.01,218.83 299.83,216.92 300.28,218.38 302.09,219.10 302.73,220.64 302.09,221.37 300.01,221.19 296.74,220.55ZM231.83,214.75 230.74,214.75 230.47,215.65 231.37,216.29 231.83,214.75ZM234.09,217.65 236.81,218.19 238.63,219.83 237.27,219.46 234.09,217.65ZM295.29,310.49 298.01,310.21 298.19,310.94 295.75,311.12 295.29,310.49ZM209.34,245.42 210.25,246.05 209.34,246.60 209.16,245.87 209.34,245.42ZM207.07,244.15 207.62,244.42 207.26,244.42 207.07,244.15ZM205.81,243.60 206.17,243.79 205.90,243.88 205.81,243.60ZM330.20,208.85 327.93,208.85M307.08,208.57 310.25,209.39 311.61,208.85M185.59,279.45 186.13,280.09 184.95,280.27 185.04,279.63 185.59,279.45ZM173.80,282.81 175.61,283.99 175.16,283.90 173.07,282.17 173.80,282.81Z" fill="none" stroke="#8c8c8c" stroke-width="0.5" stroke-linejoin="round"/>
</g>
<circle cx="164.8" cy="265.3" r="2.6" fill="#000"/>
<line x1="51.40" y1="209.3" x2="51.40" y2="318.20000000000005" stroke="#c8c8c8" stroke-width="0.45"/>
<line x1="78.60" y1="209.3" x2="78.60" y2="318.20000000000005" stroke="#c8c8c8" stroke-width="0.45"/>
<line x1="105.80" y1="209.3" x2="105.80" y2="318.20000000000005" stroke="#c8c8c8" stroke-width="0.45"/>
<line x1="133.00" y1="209.3" x2="133.00" y2="318.20000000000005" stroke="#c8c8c8" stroke-width="0.45"/>
<line x1="160.20" y1="209.3" x2="160.20" y2="318.20000000000005" stroke="#c8c8c8" stroke-width="0.45"/>
<line x1="187.40" y1="209.3" x2="187.40" y2="318.20000000000005" stroke="#c8c8c8" stroke-width="0.45"/>
<line x1="214.60" y1="209.3" x2="214.60" y2="318.20000000000005" stroke="#c8c8c8" stroke-width="0.45"/>
<line x1="241.80" y1="209.3" x2="241.80" y2="318.20000000000005" stroke="#c8c8c8" stroke-width="0.45"/>
<line x1="269.00" y1="209.3" x2="269.00" y2="318.20000000000005" stroke="#c8c8c8" stroke-width="0.45"/>
<line x1="296.20" y1="209.3" x2="296.20" y2="318.20000000000005" stroke="#c8c8c8" stroke-width="0.45"/>
<line x1="323.40" y1="209.3" x2="323.40" y2="318.20000000000005" stroke="#c8c8c8" stroke-width="0.45"/>
<line x1="24.2" y1="236.53" x2="350.6" y2="236.53" stroke="#c8c8c8" stroke-width="0.45"/>
<line x1="24.2" y1="263.75" x2="350.6" y2="263.75" stroke="#c8c8c8" stroke-width="0.45"/>
<line x1="24.2" y1="290.98" x2="350.6" y2="290.98" stroke="#c8c8c8" stroke-width="0.45"/>
<rect x="24.2" y="209.3" width="326.40000000000003" height="108.9" fill="none" stroke="#808080" stroke-width="0.8"/>
<line x1="21.2" y1="209.30" x2="24.2" y2="209.30" stroke="#808080" stroke-width="0.6"/>
<text x="18.20" y="212.30" font-size="7.2" text-anchor="end" fill="#333">60N</text>
<line x1="21.2" y1="236.53" x2="24.2" y2="236.53" stroke="#808080" stroke-width="0.6"/>
<text x="18.20" y="239.53" font-size="7.2" text-anchor="end" fill="#333">30N</text>
<line x1="21.2" y1="263.75" x2="24.2" y2="263.75" stroke="#808080" stroke-width="0.6"/>
<text x="18.20" y="266.75" font-size="7.2" text-anchor="end" fill="#333">0</text>
<line x1="21.2" y1="290.98" x2="24.2" y2="290.98" stroke="#808080" stroke-width="0.6"/>
<text x="18.20" y="293.98" font-size="7.2" text-anchor="end" fill="#333">30S</text>
<line x1="21.2" y1="318.20" x2="24.2" y2="318.20" stroke="#808080" stroke-width="0.6"/>
<text x="18.20" y="321.20" font-size="7.2" text-anchor="end" fill="#333">60S</text>
<text x="24.50" y="324.70" font-size="7.2" text-anchor="middle" fill="#333">0</text>
<text x="78.90" y="324.70" font-size="7.2" text-anchor="middle" fill="#333">60E</text>
<text x="133.30" y="324.70" font-size="7.2" text-anchor="middle" fill="#333">120E</text>
<text x="187.70" y="324.70" font-size="7.2" text-anchor="middle" fill="#333">180</text>
<text x="242.10" y="324.70" font-size="7.2" text-anchor="middle" fill="#333">120W</text>
<text x="296.50" y="324.70" font-size="7.2" text-anchor="middle" fill="#333">60W</text>
<text x="350.90" y="324.70" font-size="7.2" text-anchor="middle" fill="#333">0</text>
<text x="187.5" y="197.30" font-size="7.75" text-anchor="middle" fill="#111">(b) chi-corrected analysis</text>
<g clip-path="url(#pc2)">
<path d="M23.88,395.90 21.12,395.95 21.12,386.12 35.69,386.12 35.62,388.88 34.90,389.88 32.12,392.05 27.62,394.07 25.36,395.38 23.88,395.90ZM237.12,415.89 236.38,415.93 234.88,415.62 233.57,414.62 232.87,413.12 231.40,408.12 229.65,405.12 227.70,402.12 223.45,396.62 222.05,395.12 220.65,393.12 220.37,392.38 220.28,390.38 219.84,388.62 219.81,386.12 230.80,386.12 230.82,388.62 231.10,389.88 234.88,396.55 237.33,399.38 240.20,401.88 241.88,403.86 243.38,404.96 245.62,405.73 246.89,406.88 247.59,408.62 247.91,410.38 247.37,412.38 246.38,414.10 245.62,414.65 244.88,414.91 237.12,415.89ZM273.12,425.40 269.38,425.44 267.38,425.07 265.62,424.40 263.83,423.38 262.45,421.12 261.61,418.62 261.28,416.62 261.31,414.62 261.79,412.62 262.29,411.62 263.12,410.69 264.38,409.65 265.88,408.88 272.62,405.87 279.62,403.54 286.62,401.61 290.38,400.88 297.62,398.06 299.62,397.69 301.62,396.89 307.88,396.65 310.38,396.14 312.12,395.56 315.88,394.89 323.38,393.05 328.38,392.14 330.12,391.56 334.88,390.70 341.45,389.12 342.21,388.62 342.30,386.12 356.88,386.12 356.88,395.31 354.38,395.34 353.62,395.60 349.62,398.58 345.16,401.38 342.88,402.35 338.62,404.90 334.88,406.85 329.88,410.04 321.62,413.54 314.62,415.53 309.62,416.22 305.88,416.28 303.38,416.73 301.88,417.54 300.38,419.20 298.28,420.88 296.62,422.71 295.88,423.16 293.88,423.25 290.12,423.03 284.88,423.94 273.12,425.40ZM111.88,487.90 101.88,487.99 91.38,486.94 85.12,485.78 81.88,485.91 81.12,485.61 78.88,483.87 76.88,482.87 75.88,482.56 71.88,482.01 68.88,482.06 62.38,483.89 53.62,485.44 51.12,485.72 46.12,485.72 43.31,485.12 42.84,484.62 42.90,483.88 43.38,483.21 44.71,482.12 46.38,481.35 51.12,479.64 52.38,478.99 53.48,478.12 54.62,476.65 55.32,475.12 55.88,472.62 56.72,470.12 56.62,468.88 55.79,466.88 55.38,466.11 54.62,465.32 50.38,462.96 47.88,462.04 45.22,461.38 42.88,461.03 40.12,460.94 38.62,460.32 35.88,457.97 31.88,453.16 29.38,449.37 28.12,448.36 25.88,447.78 21.12,447.76 21.12,437.99 23.88,437.96 27.12,437.28 28.62,437.38 31.38,438.74 34.62,441.64 37.88,443.46 39.38,443.96 61.62,444.00 63.12,443.69 71.88,440.00 76.88,438.71 77.88,438.69 82.12,439.46 86.38,439.22 98.88,437.06 109.88,435.78 120.62,435.22 130.62,434.08 134.38,434.54 135.12,434.30 136.82,433.12 138.12,432.54 144.62,431.78 152.62,431.26 158.62,431.25 168.88,432.00 183.88,432.00 185.88,431.77 189.62,432.06 192.12,431.09 200.62,429.94 205.87,428.88 208.97,427.88 211.12,426.67 212.22,425.12 212.74,422.62 212.64,421.62 212.28,420.62 211.62,419.80 209.62,418.45 207.63,417.62 205.62,417.11 203.12,416.76 198.62,416.74 196.88,416.51 193.62,416.47 190.88,416.13 188.62,416.92 185.38,418.43 180.12,418.53 175.38,419.22 168.88,419.81 162.38,421.29 157.88,422.88 145.22,426.38 141.62,426.97 137.38,426.96 136.10,426.38 134.97,424.88 134.31,423.62 133.70,421.62 132.38,418.63 131.51,415.12 131.38,410.88 131.88,410.12 132.38,410.11 136.12,413.16 136.88,413.48 137.88,413.42 142.12,411.25 147.17,407.88 150.38,405.17 152.38,404.02 159.12,402.10 164.12,401.44 167.38,400.81 172.62,400.28 175.88,400.24 177.88,400.01 180.12,400.24 184.38,400.25 186.62,400.01 188.62,400.48 191.62,401.80 195.62,401.51 198.62,401.53 210.88,403.74 212.38,403.69 214.12,403.31 218.38,402.82 220.62,403.06 223.12,403.56 224.38,404.07 225.12,404.62 226.38,406.09 227.18,407.38 228.49,410.38 229.25,414.12 229.22,416.88 228.92,417.88 227.35,420.88 225.62,423.39 221.46,428.12 220.95,429.38 221.23,430.38 223.12,431.32 226.62,431.86 234.12,434.40 239.12,435.49 240.38,435.43 241.26,435.12 242.12,434.44 243.62,432.63 244.88,431.99 246.12,431.76 246.85,432.12 247.62,433.20 247.86,434.12 247.67,434.88 245.86,437.38 243.31,442.12 242.12,443.31 240.88,443.93 204.62,444.07 202.88,444.24 201.38,444.69 200.09,445.38 199.74,445.88 199.78,446.12 200.57,446.88 202.12,447.63 206.12,448.56 207.88,449.19 218.12,451.31 219.88,451.89 227.88,453.44 229.88,453.60 234.88,454.69 240.38,454.76 241.38,454.99 245.12,457.26 248.62,460.96 251.88,463.29 262.88,472.51 266.39,476.38 267.68,478.88 267.99,480.12 267.87,481.38 267.28,482.88 265.88,484.46 265.12,484.97 264.38,485.21 263.38,485.19 262.32,484.88 257.38,482.68 249.62,478.57 243.62,475.96 242.62,474.83 241.38,471.20 240.44,469.88 238.38,468.10 236.12,466.70 234.88,466.13 233.62,466.03 232.12,466.40 231.12,467.05 230.12,468.17 229.22,469.62 228.04,472.38 226.86,476.38 225.94,481.38 225.25,482.88 224.12,483.80 222.38,484.53 220.88,484.72 219.12,484.39 215.88,483.10 213.83,481.38 207.97,471.62 206.95,470.38 204.62,468.45 201.88,466.96 198.62,466.11 193.38,465.28 191.38,465.43 189.88,465.03 187.88,463.85 185.88,461.51 183.12,459.52 179.88,458.37 176.88,457.78 173.88,457.51 171.12,457.51 168.12,457.81 166.00,458.38 164.12,459.38 161.90,462.38 161.06,463.12 159.38,464.07 157.12,464.50 153.38,464.47 149.88,464.03 141.62,463.47 136.88,462.85 135.96,462.38 135.12,461.64 132.62,458.36 131.38,457.08 129.38,456.12 126.12,455.51 119.62,455.51 107.62,456.28 102.12,457.06 88.62,459.44 82.62,459.98 80.88,459.80 79.38,459.39 78.12,458.88 76.38,457.78 75.62,457.67 73.12,458.86 71.88,460.04 71.09,461.38 71.00,462.38 71.86,464.12 73.38,465.73 76.62,467.88 77.62,468.36 80.12,469.04 82.88,470.90 84.88,471.93 92.12,474.12 94.62,475.07 100.88,476.87 108.12,479.32 116.12,481.37 121.38,483.00 124.88,484.22 125.52,484.62 125.76,485.12 125.59,485.62 124.88,486.13 123.38,486.64 120.88,487.15 115.88,487.72 111.88,487.90ZM324.38,489.40 322.88,489.50 320.88,489.26 317.62,489.22 313.12,488.39 306.12,485.99 302.12,484.27 299.12,483.78 298.15,483.12 297.44,481.88 296.39,478.88 295.62,477.57 294.88,476.95 289.88,474.01 288.44,472.62 287.53,471.38 287.09,469.38 287.93,466.88 288.00,464.88 287.90,463.62 287.45,461.88 286.80,460.38 285.88,459.03 281.88,455.62 280.86,454.38 279.96,452.62 278.58,448.12 278.01,446.88 276.88,445.80 274.38,444.40 273.12,444.03 269.62,443.79 268.43,443.12 267.62,442.24 267.29,440.88 267.87,438.12 268.61,436.62 269.62,435.30 270.38,434.77 272.38,433.93 275.62,433.56 276.88,433.90 279.62,435.58 282.62,436.79 285.88,437.41 288.88,436.74 296.38,433.26 298.12,432.67 298.88,432.63 300.62,432.85 306.12,434.19 316.38,435.31 325.88,436.56 328.62,437.11 332.88,439.15 334.62,440.60 335.10,441.38 334.98,442.38 334.28,443.12 332.88,443.82 328.88,444.07 325.62,445.32 319.38,446.45 314.88,446.80 312.02,447.88 309.55,449.88 308.70,451.12 308.32,452.12 308.28,453.12 308.56,454.62 309.72,457.62 311.35,460.12 312.62,461.50 315.27,463.62 316.88,464.53 324.62,468.04 326.12,468.46 335.88,472.80 337.88,473.46 343.38,476.05 348.38,477.86 349.88,478.64 353.38,480.03 354.38,480.23 356.88,480.24 356.88,484.50 353.62,484.56 341.62,486.60 335.12,488.20 332.12,488.56 329.12,489.19 324.38,489.40ZM169.12,491.40 161.38,490.97 158.38,490.39 153.62,489.10 153.06,488.62 152.96,487.88 153.96,485.88 155.62,483.53 160.38,479.42 162.38,478.27 164.88,477.33 166.62,476.81 169.12,476.50 172.62,476.61 175.12,477.18 179.62,478.65 183.62,480.63 185.88,482.03 189.12,485.17 189.88,485.09 192.12,483.91 193.88,483.56 198.12,483.81 200.12,484.18 201.88,484.96 203.02,486.12 203.44,487.12 203.20,488.12 202.38,488.98 200.38,490.04 198.62,490.44 193.62,490.50 192.38,490.31 191.38,489.84 188.12,487.39 187.12,487.06 185.38,487.43 182.88,488.49 176.62,490.44 174.12,490.94 169.12,491.40ZM25.62,485.65 21.12,485.75 21.12,479.25 24.62,479.38 28.88,481.06 29.89,481.62 30.65,482.38 30.83,482.88 30.73,483.38 29.38,484.63 28.12,485.14 25.62,485.65ZM141.88,488.90 137.88,488.71 137.12,488.46 136.38,487.82 135.94,487.12 135.77,486.12 136.02,485.38 136.49,484.88 137.12,484.59 139.62,484.81 145.62,486.18 146.80,486.62 147.31,487.12 147.10,487.62 146.12,488.11 144.12,488.68 141.88,488.90Z" fill="#fbf6c8" fill-rule="evenodd" stroke="#3c3c3c" stroke-width="0.62"/>
<path d="M284.62,420.15 280.62,420.19 273.12,418.76 270.62,418.78 267.62,419.17 266.89,418.88 266.38,418.39 265.95,417.62 265.92,417.12 266.62,415.55 268.12,414.41 269.12,414.25 273.38,414.23 274.38,413.94 281.12,408.35 285.12,406.22 295.38,403.06 296.88,402.78 300.88,402.55 308.12,402.47 314.62,401.53 318.38,401.25 321.88,401.98 323.22,402.88 324.07,403.88 324.23,404.88 323.92,405.88 323.12,406.65 321.88,407.38 317.88,408.65 311.88,410.15 302.38,411.79 301.62,412.21 298.38,415.18 296.62,417.42 295.88,417.96 288.38,419.65 284.62,420.15ZM165.38,416.40 162.38,416.50 158.38,416.22 155.62,415.48 154.46,414.38 153.88,413.38 153.59,411.62 153.92,410.38 154.69,409.38 155.83,408.62 157.12,408.13 160.38,407.36 165.88,406.53 176.12,405.76 181.12,406.03 184.88,406.61 186.12,407.29 186.88,408.62 187.09,410.12 186.90,411.88 186.24,413.38 185.38,414.15 182.38,414.94 178.12,415.47 169.88,416.22 165.38,416.40ZM216.38,415.64 213.12,415.34 211.88,414.97 211.06,414.38 210.46,413.38 210.10,412.12 210.41,410.88 211.11,409.88 212.12,409.15 213.38,408.63 216.38,408.51 218.12,408.97 220.20,410.38 220.67,411.12 220.84,412.12 220.69,413.38 220.38,414.13 219.63,414.88 218.88,415.24 216.38,415.64ZM76.12,478.67 75.12,478.65 69.38,477.40 68.38,476.98 66.38,475.69 64.88,474.49 63.29,472.88 61.88,471.14 58.98,466.88 55.38,464.15 52.62,462.85 43.12,460.48 40.88,459.47 37.38,457.40 36.12,456.22 35.12,454.81 33.60,451.62 33.01,449.38 33.04,448.12 33.38,447.38 34.62,446.75 37.88,446.28 44.88,445.99 48.62,446.11 58.62,447.07 65.12,446.64 69.62,445.96 71.38,445.30 72.38,444.59 74.03,442.38 75.12,441.67 76.12,441.34 77.62,441.32 82.12,441.99 91.88,440.38 94.38,439.81 97.88,439.44 99.62,439.06 109.88,438.26 115.38,438.00 123.38,438.24 127.38,437.94 130.88,437.34 131.62,437.55 132.38,438.12 133.88,440.28 134.62,441.05 135.62,441.53 136.62,441.64 137.62,441.24 144.38,436.65 147.03,435.88 150.38,435.31 154.88,434.78 162.12,434.49 163.88,434.26 179.88,434.24 182.88,433.78 188.88,433.48 192.12,432.73 201.88,432.76 205.38,433.06 210.88,434.18 212.69,435.12 213.05,435.62 213.09,436.38 212.70,437.12 211.88,437.89 208.62,439.44 203.62,440.22 198.12,440.54 192.62,441.42 191.91,441.88 191.45,442.62 191.41,443.62 191.77,444.38 192.88,445.20 199.38,447.52 207.38,449.39 213.88,450.61 216.62,451.72 218.62,453.02 220.47,455.38 221.29,456.88 221.69,458.62 221.72,461.62 221.53,462.38 221.05,463.12 219.62,464.09 216.65,465.38 214.62,465.97 213.12,465.97 211.12,465.64 208.38,464.51 206.12,463.86 201.62,462.81 198.38,462.31 196.88,462.28 192.38,462.86 191.62,462.73 188.34,460.38 185.62,457.09 181.88,454.18 180.62,452.77 179.58,451.12 179.30,449.88 179.88,448.71 184.37,446.38 184.37,445.62 183.62,445.21 175.88,446.34 172.12,447.38 167.62,449.20 164.88,450.80 163.12,452.10 162.23,453.38 161.29,456.38 160.20,458.12 157.62,459.54 155.62,459.97 151.62,459.99 144.38,459.25 140.62,459.26 138.12,459.69 137.12,459.67 136.08,459.12 134.47,457.12 131.12,453.91 130.12,453.56 127.12,453.25 122.38,453.28 106.38,454.97 93.88,455.78 81.62,457.04 79.12,457.59 73.12,457.53 72.12,457.90 70.46,459.62 69.60,461.88 69.56,463.88 70.10,466.12 70.72,467.62 71.62,469.14 73.53,471.12 76.67,473.62 78.14,475.62 78.29,476.38 77.99,477.12 77.12,478.15 76.12,478.67ZM292.62,459.41 290.88,459.47 288.38,459.04 285.88,457.73 284.38,456.14 282.12,452.73 280.61,449.12 279.85,444.12 280.13,443.38 280.83,442.62 283.88,441.30 290.12,440.28 296.09,437.88 298.12,436.54 300.38,436.04 302.62,436.16 306.38,437.19 315.12,437.78 317.12,438.11 319.12,438.90 320.52,439.88 321.12,440.54 321.43,441.38 321.30,442.12 320.76,442.88 320.12,443.37 318.88,443.89 315.88,444.21 313.76,445.12 310.12,446.26 308.72,446.88 303.28,451.38 300.03,454.62 298.38,455.66 296.12,458.54 294.88,459.06 292.62,459.41ZM298.62,474.16 296.62,474.05 293.88,473.02 292.19,471.88 291.54,471.12 291.02,469.62 290.75,466.62 291.07,463.88 291.77,462.12 292.62,461.45 294.12,460.78 295.62,460.51 298.88,460.32 301.88,461.18 305.38,461.36 306.38,461.72 307.77,462.62 309.49,464.88 310.42,466.88 310.43,468.88 309.85,470.12 308.60,471.38 307.12,472.19 305.12,472.69 301.62,473.13 298.62,474.16ZM248.12,472.64 246.88,472.70 245.62,472.38 243.62,471.27 242.62,470.44 240.88,467.95 239.61,466.62 238.52,464.88 238.24,463.62 238.62,462.84 239.62,462.10 240.88,461.54 242.62,461.31 243.88,461.56 245.12,462.20 246.88,463.90 250.25,466.62 250.89,467.38 251.49,468.62 251.71,469.62 251.56,470.62 251.15,471.38 250.38,471.97 248.12,472.64ZM317.62,474.64 315.88,474.57 315.12,474.23 314.52,473.62 314.14,472.88 314.08,472.12 314.37,471.38 314.88,470.83 315.62,470.47 316.62,470.48 318.12,470.90 319.12,471.67 319.55,472.62 319.53,473.38 318.88,474.17 317.62,474.64Z" fill="#ff9a00" fill-rule="evenodd" stroke="#3c3c3c" stroke-width="0.62"/>
<path d="M150.62,458.65 145.88,458.74 137.38,457.86 136.23,457.12 134.62,455.00 132.12,452.55 131.38,452.02 130.62,451.79 126.38,451.53 120.62,452.03 117.12,452.69 111.88,453.22 103.88,453.74 100.88,453.76 99.12,453.99 84.12,454.00 81.88,454.19 77.88,453.24 75.88,452.27 74.33,450.88 74.09,450.38 74.08,449.62 75.08,447.62 75.72,446.88 77.62,445.60 80.38,444.39 82.53,442.88 84.48,442.38 93.38,441.33 99.12,440.93 106.12,440.92 116.62,441.33 126.15,442.62 129.38,443.87 131.62,444.24 135.23,445.62 137.12,446.04 138.88,446.06 143.12,445.70 145.62,444.95 146.59,444.12 148.16,441.62 149.16,440.62 151.88,439.13 154.88,438.56 166.88,437.53 176.38,437.24 180.12,436.78 185.88,436.46 188.38,435.95 191.62,434.68 192.62,434.51 197.62,434.78 199.62,435.06 203.38,435.87 204.50,436.62 204.57,437.38 204.24,437.88 202.38,438.71 199.88,439.19 192.12,439.97 187.38,443.30 185.88,443.94 160.62,444.00 158.38,444.38 157.16,445.12 156.60,446.12 156.81,446.88 157.88,448.11 158.43,449.12 159.12,451.53 159.24,454.38 158.83,456.12 157.89,457.12 156.38,457.88 150.62,458.65ZM303.62,443.42 302.88,443.55 302.35,443.38 301.62,442.68 301.26,441.88 301.17,441.12 301.33,440.62 301.88,439.98 302.62,439.58 303.62,439.56 304.62,439.86 305.33,440.38 305.62,440.88 305.68,441.38 305.36,442.12 304.56,442.88 303.62,443.42ZM291.12,456.65 288.88,456.72 287.38,456.30 285.34,455.12 283.90,453.62 283.32,452.12 283.29,450.12 283.98,448.12 284.88,447.03 285.88,446.55 287.62,446.06 290.38,445.85 293.12,446.47 293.90,446.88 294.72,447.62 295.37,449.12 295.66,450.62 295.56,453.12 294.88,454.38 294.38,454.89 292.38,456.22 291.12,456.65ZM213.88,460.64 209.62,460.72 203.38,459.94 195.38,458.56 191.62,458.36 190.38,457.36 189.13,454.88 189.01,451.38 189.30,450.12 190.62,448.27 191.38,447.77 192.12,447.68 193.64,448.12 196.38,449.28 203.38,450.66 211.62,452.90 215.12,454.80 215.88,455.62 216.32,456.62 216.46,457.88 216.04,459.12 215.13,460.12 213.88,460.64ZM63.62,464.68 62.12,464.57 60.29,463.62 58.83,462.38 57.12,460.26 55.12,458.93 50.88,458.06 46.88,457.53 44.38,457.44 42.38,457.02 41.52,456.38 40.87,455.38 40.54,453.88 40.83,452.62 41.62,451.98 42.62,451.76 45.62,451.76 48.62,452.06 55.88,453.36 61.88,455.17 64.00,456.62 65.02,458.12 65.68,460.12 65.72,461.62 65.38,462.92 64.61,464.12 63.62,464.68Z" fill="#d96b00" fill-rule="evenodd" stroke="#3c3c3c" stroke-width="0.62"/>
<path d="M175.12,442.39 172.88,442.41 170.62,442.18 169.90,441.88 169.75,441.38 170.38,440.62 173.12,439.33 174.88,438.81 179.62,438.06 184.62,437.72 191.12,436.75 192.12,437.10 192.71,437.88 192.51,438.62 190.88,439.96 188.38,440.64 185.62,441.66 182.38,442.04 175.12,442.39ZM100.12,452.40 93.62,452.47 88.12,451.57 86.38,450.79 84.82,449.62 83.85,448.38 83.66,447.12 84.02,446.62 84.88,446.25 87.38,445.76 91.64,445.38 94.62,444.21 95.88,444.00 114.12,444.03 115.12,444.31 116.12,444.90 116.92,445.62 117.51,446.62 117.54,447.88 117.04,449.38 116.12,450.45 115.12,450.99 110.88,451.72 100.12,452.40ZM130.12,448.89 126.12,448.99 124.62,448.69 122.26,447.12 121.96,446.62 121.99,445.88 122.88,444.83 124.46,444.12 129.62,444.00 131.12,444.15 131.88,444.60 132.30,445.12 132.63,446.12 132.62,446.88 132.27,447.62 131.62,448.32 130.12,448.89ZM150.88,457.90 146.38,457.97 143.88,457.59 141.88,456.93 140.76,456.12 140.06,455.12 139.81,453.88 140.14,452.62 141.12,450.98 142.12,449.94 144.88,448.56 147.38,448.06 148.62,448.03 150.62,448.43 152.88,449.22 154.62,450.24 155.73,451.38 156.22,453.12 156.14,454.88 155.62,456.08 154.62,456.90 152.88,457.57 150.88,457.90ZM289.62,452.42 288.62,452.29 288.20,451.88 288.05,451.38 288.20,450.12 288.62,449.65 289.12,449.43 290.02,449.62 290.45,450.38 290.33,451.88 289.62,452.42Z" fill="#9a5a08" fill-rule="evenodd" stroke="#3c3c3c" stroke-width="0.62"/>
<path d="M98.88,449.15 97.38,449.22 94.88,448.72 93.70,447.88 93.63,447.12 94.12,446.70 94.88,446.42 97.88,446.08 100.81,446.38 101.63,446.62 102.22,447.12 102.19,447.88 101.62,448.41 100.62,448.87 98.88,449.15ZM148.38,456.64 147.62,456.68 146.38,456.38 145.14,455.62 144.55,454.38 144.69,453.62 145.06,453.12 146.39,452.38 148.62,452.25 150.12,452.51 151.38,453.30 151.91,454.38 151.88,454.88 151.58,455.38 150.62,455.98 148.38,456.64Z" fill="#8c1e2a" fill-rule="evenodd" stroke="#3c3c3c" stroke-width="0.62"/>
<path d="M18.85,411.26 18.03,412.90 16.49,413.62 15.31,415.16 15.50,416.16 13.77,418.16 12.41,418.70 11.05,420.16 9.69,422.15 8.79,424.42 9.42,426.05 9.24,428.78 8.42,430.41 8.97,431.77 9.06,432.59 10.42,433.77 11.87,435.04 13.05,436.85 14.23,437.67 16.04,439.21 17.40,439.76 19.67,439.12 22.39,439.39 25.56,438.12 27.28,437.94 28.55,438.40 29.64,439.85 31.00,439.67 32.18,439.76 32.99,440.57 33.09,441.94 32.72,443.30 32.63,445.11 33.72,446.47 34.90,447.83 35.35,449.38 36.26,451.74 35.99,453.73 35.53,456.00 34.90,458.72 34.90,460.09 36.26,462.35 37.35,464.53 37.80,467.80 38.25,468.71 39.61,470.52 40.70,472.61 40.88,474.61 42.33,475.33 44.60,474.61 47.41,474.51 49.13,473.88 50.95,472.34 52.31,470.70 53.58,469.61 53.94,467.35 56.39,465.44 56.39,463.26 55.75,461.72 57.29,460.09 60.01,458.45 61.01,456.91 60.92,453.73 60.01,451.46 59.83,449.65 59.74,448.02 60.65,446.20 61.92,445.20 63.64,443.30 65.91,441.75 67.72,439.67 69.35,436.49 70.26,434.22 70.62,433.04 68.63,433.59 65.91,434.04 64.09,434.31 63.37,433.31 63.46,432.22 62.55,431.50 61.55,430.32 60.29,429.68 59.38,428.32 58.29,426.05 57.93,424.69 57.29,423.33 56.48,421.97 55.57,420.16 54.85,418.98 53.76,416.62 53.49,415.35 51.40,415.35 49.59,415.62 46.87,414.98 45.05,414.35 42.79,414.26 41.97,416.07 40.52,415.80 38.25,414.89 37.35,414.07 34.63,413.62 33.72,412.44 34.17,410.26 33.09,409.90 31.45,410.26 28.73,410.35 25.11,410.63 23.29,411.53 22.21,411.90 19.67,411.53 18.85,411.26ZM345.25,411.26 344.43,412.90 342.89,413.62 341.71,415.16 341.90,416.16 340.17,418.16 338.81,418.70 337.45,420.16 336.09,422.15 335.19,424.42 335.82,426.05 335.64,428.78 334.82,430.41 335.37,431.77 335.46,432.59 336.82,433.77 338.27,435.04 339.45,436.85 340.63,437.67 342.44,439.21 343.80,439.76 346.07,439.12 348.79,439.39 351.96,438.12 353.68,437.94 354.95,438.40 356.04,439.85 357.40,439.67 358.58,439.76 359.39,440.57 359.49,441.94 359.12,443.30 359.03,445.11 360.12,446.47 361.30,447.83 361.75,449.38 362.66,451.74 362.39,453.73 361.93,456.00 361.30,458.72 361.30,460.09 362.66,462.35 363.75,464.53 364.20,467.80 364.65,468.71 366.01,470.52 367.10,472.61 367.28,474.61 368.73,475.33 371.00,474.61 373.81,474.51 375.53,473.88 377.35,472.34 378.71,470.70 379.98,469.61 380.34,467.35 382.79,465.44 382.79,463.26 382.15,461.72 383.69,460.09 386.41,458.45 387.41,456.91 387.32,453.73 386.41,451.46 386.23,449.65 386.14,448.02 387.05,446.20 388.32,445.20 390.04,443.30 392.31,441.75 394.12,439.67 395.75,436.49 396.66,434.22 397.02,433.04 395.03,433.59 392.31,434.04 390.49,434.31 389.77,433.31 389.86,432.22 388.95,431.50 387.95,430.32 386.69,429.68 385.78,428.32 384.69,426.05 384.33,424.69 383.69,423.33 382.88,421.97 381.97,420.16 381.25,418.98 380.16,416.62 379.89,415.35 377.80,415.35 375.99,415.62 373.27,414.98 371.45,414.35 369.19,414.26 368.37,416.07 366.92,415.80 364.65,414.89 363.75,414.07 361.03,413.62 360.12,412.44 360.57,410.26 359.49,409.90 357.85,410.26 355.13,410.35 351.51,410.63 349.69,411.53 348.61,411.90 346.07,411.53 345.25,411.26ZM68.90,454.64 69.90,457.36 69.35,459.18 68.26,462.35 67.36,465.08 66.90,466.44 65.27,466.98 64.09,465.80 63.46,463.72 64.00,462.35 64.46,460.54 64.09,459.18 65.45,458.27 66.81,457.36 67.72,456.00 68.90,454.64ZM16.04,388.85 19.67,390.57 21.48,390.57 22.39,391.57 22.57,393.29 23.75,394.38 24.38,395.20 25.74,395.92 25.47,397.29 23.29,397.65 21.03,398.10 19.03,398.38 20.39,397.01 19.49,396.74 20.39,395.83 20.03,395.38 21.48,395.29 21.21,394.29 19.67,393.84 19.03,393.11 18.58,392.02 19.21,390.84 21.48,390.57M342.44,388.85 346.07,390.57 347.88,390.57 348.79,391.57 348.97,393.29 350.15,394.38 350.78,395.20 352.14,395.92 351.87,397.29 349.69,397.65 347.43,398.10 345.43,398.38 346.79,397.01 345.89,396.74 346.79,395.83 346.43,395.38 347.88,395.29 347.61,394.29 346.07,393.84 345.43,393.11 344.98,392.02 345.61,390.84 347.88,390.57M345.16,396.38 345.16,394.84 345.52,394.11 343.98,393.57 342.89,393.84 341.53,394.56 341.99,395.65 341.53,396.56 342.89,396.92 345.16,396.38ZM22.84,389.30 28.73,389.30 29.19,390.21 29.46,390.93 30.55,391.12 31.91,390.84 33.54,389.94 34.17,390.30 34.63,390.93 35.62,392.48 35.81,393.11 37.17,393.38 38.71,392.66 39.16,392.02 39.43,390.66 40.97,389.84 40.07,388.66M349.24,389.30 355.13,389.30 355.59,390.21 355.86,390.93 356.95,391.12 358.31,390.84 359.94,389.94 360.57,390.30 361.03,390.93 362.02,392.48 362.21,393.11 363.57,393.38 365.11,392.66 365.56,392.02 365.83,390.66 367.37,389.84 366.47,388.66M31.45,389.30 32.00,391.84 33.72,391.39 33.72,392.75 33.09,393.84 32.00,393.38 32.09,394.75 30.55,395.20 28.73,395.38 28.28,396.38 27.28,397.01 25.65,397.56 24.38,398.74 23.02,398.74 22.84,399.55 20.12,399.65 20.30,400.37 22.21,400.92 23.11,402.00 22.93,403.82 22.57,404.36 20.57,404.36 16.95,404.09 15.77,404.73 16.22,405.63 16.22,407.00 15.59,408.54 16.22,409.36 16.04,410.17 17.40,409.99 18.49,410.35 19.12,411.08 20.12,410.44 22.21,410.35 23.47,409.63 24.38,408.54 23.93,407.90 25.02,406.54 27.10,405.73 27.01,404.64 28.28,404.36 30.09,404.64 31.00,404.00 32.18,403.46 33.54,404.27 34.17,405.18 35.35,405.91 36.89,406.72 38.43,407.45 38.71,408.54 38.43,409.26 39.16,408.81 39.79,407.99 39.25,407.00 40.97,407.36 40.52,406.81 38.71,405.82 37.07,405.18 35.44,403.55 35.44,402.46 36.62,402.37 37.35,402.73 37.98,403.64 40.07,404.73 41.88,405.82 41.79,407.18 42.79,408.36 43.42,409.45 43.87,410.35 44.87,410.63 45.05,409.36 45.96,409.08 44.87,407.90 44.69,407.00 45.96,406.72 47.77,406.72 47.95,407.90 48.41,408.81 48.86,409.72 49.59,410.44 51.85,410.81 53.67,410.99 55.48,410.35 56.84,410.35 56.66,411.53 56.75,412.44 56.11,413.80 55.39,415.25 53.49,415.35M357.85,389.30 358.40,391.84 360.12,391.39 360.12,392.75 359.49,393.84 358.40,393.38 358.49,394.75 356.95,395.20 355.13,395.38 354.68,396.38 353.68,397.01 352.05,397.56 350.78,398.74 349.42,398.74 349.24,399.55 346.52,399.65 346.70,400.37 348.61,400.92 349.51,402.00 349.33,403.82 348.97,404.36 346.97,404.36 343.35,404.09 342.17,404.73 342.62,405.63 342.62,407.00 341.99,408.54 342.62,409.36 342.44,410.17 343.80,409.99 344.89,410.35 345.52,411.08 346.52,410.44 348.61,410.35 349.87,409.63 350.78,408.54 350.33,407.90 351.42,406.54 353.50,405.73 353.41,404.64 354.68,404.36 356.49,404.64 357.40,404.00 358.58,403.46 359.94,404.27 360.57,405.18 361.75,405.91 363.29,406.72 364.83,407.45 365.11,408.54 364.83,409.26 365.56,408.81 366.19,407.99 365.65,407.00 367.37,407.36 366.92,406.81 365.11,405.82 363.47,405.18 361.84,403.55 361.84,402.46 363.02,402.37 363.75,402.73 364.38,403.64 366.47,404.73 368.28,405.82 368.19,407.18 369.19,408.36 369.82,409.45 370.27,410.35 371.27,410.63 371.45,409.36 372.36,409.08 371.27,407.90 371.09,407.00 372.36,406.72 374.17,406.72 374.35,407.90 374.81,408.81 375.26,409.72 375.99,410.44 378.25,410.81 380.07,410.99 381.88,410.35 383.24,410.35 383.06,411.53 383.15,412.44 382.51,413.80 381.79,415.25 379.89,415.35M32.36,406.27 32.90,405.45 32.72,404.73 32.09,405.09 32.00,406.54 32.36,406.27ZM31.82,408.36 33.09,406.72 32.54,406.36 31.63,406.63 31.82,408.36ZM35.44,409.26 38.34,408.99 37.89,410.44 35.44,409.26ZM45.51,411.72 48.05,411.72 45.96,412.08 45.51,411.72ZM53.76,416.62 55.21,418.52 55.84,416.98 55.93,418.34 57.29,420.16 58.20,421.70 59.38,423.79 60.01,425.15 61.19,426.51 62.10,428.32 63.01,429.68 63.46,432.13 64.55,432.22 65.91,431.59 68.17,431.05 69.99,430.14 71.53,429.50 74.07,428.14 75.43,427.42 76.61,426.33 77.24,425.15 78.42,423.33 77.33,422.24 76.06,422.06 75.34,421.15 75.34,419.88 74.52,420.61 73.61,421.79 71.80,421.79 70.98,421.70 70.98,420.34 70.26,421.06 69.99,419.97 69.08,419.25 67.90,417.61 67.72,416.98 68.81,416.34 69.99,417.16 70.62,418.34 71.80,418.79 73.16,419.52 75.15,419.16 76.15,420.43 78.15,420.70 80.05,420.88 82.23,420.79 84.58,420.70 85.40,422.15 86.31,422.70 87.39,423.42 88.21,424.87 90.11,424.24 90.21,426.51 90.66,428.32 91.02,429.68 91.75,431.50 92.20,432.86 93.11,434.40 93.65,435.67 94.47,436.40 95.10,435.58 96.10,434.40 96.55,433.31 97.01,431.50 96.91,429.50 97.91,428.96 98.82,428.32 100.36,427.14 101.72,425.78 102.99,424.87 103.08,424.15 104.71,424.06 106.25,423.79 107.43,423.42 107.89,424.69 108.16,425.60 109.25,426.69 109.70,428.32 109.79,429.23 110.79,429.41 112.15,428.50 112.78,429.68 113.23,431.50 113.60,432.86 113.51,434.68 113.23,436.04 113.96,436.94 115.14,438.03 115.59,439.67 116.05,441.12 117.13,442.12 118.04,442.57 118.67,442.39 117.95,440.57 117.95,439.67 116.86,438.12 115.77,437.49 115.23,436.94 114.32,435.49 114.14,434.40 114.50,432.86 114.96,431.59 115.68,431.59 116.23,432.22 117.22,432.68 118.04,433.95 119.22,434.40 119.40,435.95 120.31,435.31 120.94,434.31 121.94,434.04 123.03,433.31 123.30,431.59 123.03,430.59 122.48,429.41 121.39,428.59 120.76,427.78 120.13,426.69 120.13,426.05 120.94,424.96 121.76,424.42 122.57,424.06 123.75,424.24 123.93,425.15 124.39,424.51 125.57,424.15 127.11,423.60 127.74,423.51 129.37,422.97 130.73,422.15 131.82,421.43 132.55,420.61 132.82,419.70 133.45,418.34 134.36,416.98 134.81,416.53 134.18,415.89 134.72,415.44 133.91,414.44 133.45,413.44 132.27,411.99 133.00,411.08 133.91,410.54 135.27,410.17 134.36,409.72 133.00,409.90 131.91,409.45 131.64,409.08 130.91,408.36 131.64,408.18 132.82,407.72 133.91,406.72 135.09,407.00 134.18,407.90 134.45,408.45 135.18,407.90 136.81,407.54 137.71,407.90 137.90,409.26 138.89,409.72 138.62,410.63 138.89,412.35 139.80,412.35 141.34,411.81 141.61,410.63 141.52,409.90 140.71,408.81 139.89,407.90 140.71,407.18 141.79,406.72 141.89,406.09 142.52,405.18 143.43,404.73 144.79,404.91 146.87,404.27 148.59,402.91 149.77,401.55 151.41,399.92 151.59,398.38 151.86,397.01 152.49,396.11 152.31,395.38 150.68,394.56 148.87,394.75 148.23,394.20 146.78,394.02 147.96,393.11 149.32,392.20 151.59,391.12 152.95,390.03 155.67,389.84 158.39,389.94 160.65,389.66 162.47,390.21 164.28,389.94 165.19,388.85M166.09,388.57 165.64,391.57 166.09,393.38 166.09,397.01 167.45,396.56 169.27,394.93 171.08,393.66 171.53,392.02 172.44,390.66 172.89,389.48 173.80,388.85M152.95,402.00 154.31,401.28 153.85,399.28 155.03,399.28 154.03,396.74 154.31,395.65 153.67,394.47 153.22,395.20 152.95,397.47 152.77,399.74 152.95,402.00ZM142.25,415.25 143.34,415.25 143.61,414.07 143.79,412.99 144.79,412.71 145.69,413.26 146.78,413.08 146.96,412.35 148.23,412.71 148.69,412.26 150.05,412.35 150.77,411.81 151.31,411.90 151.86,411.26 151.68,410.35 152.04,409.08 152.77,408.36 152.86,407.45 152.40,406.18 151.41,406.36 151.04,407.45 151.13,408.36 150.41,409.26 149.77,409.90 148.69,410.35 148.23,409.90 147.51,411.26 146.60,411.35 144.79,411.53 143.43,412.35 142.88,412.90 141.89,413.53 142.25,414.53 142.25,415.25ZM151.13,406.09 152.22,405.82 154.03,405.63 155.49,404.73 156.03,404.46 155.85,403.64 154.31,403.64 152.77,402.55 152.58,403.82 152.40,404.55 151.50,404.55 151.13,405.18 151.13,406.09ZM133.09,422.88 133.73,423.79 134.45,422.70 134.72,421.24 134.36,420.79 133.63,421.52 133.09,422.88ZM122.66,426.33 123.93,425.51 124.84,425.96 124.39,426.96 123.48,427.23 122.66,426.33ZM133.00,426.96 134.99,426.96 135.18,428.32 134.45,429.68 134.54,430.86 136.63,431.95 136.45,432.22 135.27,431.41 133.63,431.23 133.45,429.68 132.82,428.96 133.27,428.32 133.00,426.96ZM134.81,437.40 135.72,435.95 137.08,436.04 137.99,434.86 138.98,436.94 138.62,438.03 137.81,438.67 136.63,437.85 135.90,436.94 134.81,437.40ZM134.81,433.77 136.17,434.22 136.63,433.50 137.53,433.59 137.99,432.41 136.90,432.41 135.72,432.86 134.81,433.77ZM130.46,436.13 131.64,435.13 132.55,433.95 132.09,433.59 130.46,436.13M123.03,442.30 123.57,444.02 124.02,445.20 124.21,446.38 125.29,446.47 126.20,446.84 128.01,447.29 129.37,447.20 129.83,446.02 129.83,444.66 130.73,443.48 131.91,442.84 131.10,442.03 131.19,441.12 130.91,439.94 131.82,439.21 132.27,438.94 130.91,438.12 130.28,437.40 129.65,437.85 128.83,439.03 128.01,439.67 126.65,440.85 125.29,441.48 124.84,442.30 123.57,441.94 123.03,442.30ZM110.61,438.67 112.60,439.03 113.78,440.30 115.14,441.48 115.95,441.94 117.41,443.02 118.22,444.48 118.95,445.38 120.31,446.47 120.22,447.83 120.13,449.01 119.13,449.10 118.04,448.11 116.95,447.38 116.05,446.29 115.32,444.66 114.41,443.30 113.69,442.21 112.60,441.21 111.69,440.21 110.61,438.67ZM119.58,449.92 120.31,449.10 121.39,449.19 122.39,449.47 124.39,449.92 125.20,449.74 126.38,450.01 128.01,450.74 127.92,451.65 125.75,451.28 123.93,451.01 122.12,450.74 120.67,450.47 119.58,449.92ZM128.65,451.01 129.65,451.46 131.19,451.46 132.09,451.65 133.45,451.55 135.27,451.46 135.72,451.83 133.73,451.92 131.64,451.92 129.83,451.92 128.65,451.01M136.63,453.01 137.99,451.92 139.53,451.37 137.53,452.37 136.63,453.01ZM132.55,448.74 132.64,446.93 131.91,446.29 132.37,445.11 132.82,443.75 133.45,442.75 134.81,442.84 136.17,442.93 137.08,442.30 137.71,442.48 136.63,443.39 133.91,443.30 133.36,444.57 134.36,444.66 135.72,444.57 134.99,445.38 135.27,446.93 134.09,446.38 133.91,447.65 134.36,448.11 133.36,448.83 132.55,448.74ZM139.80,442.12 140.43,444.48 140.71,443.11 140.16,442.39M138.44,446.65 139.80,446.74 139.62,447.20 138.53,447.20 138.44,446.65ZM140.25,446.74 142.07,446.65 142.79,447.20 140.71,447.11 140.25,446.74ZM142.97,444.84 144.33,444.11 145.69,444.57 145.87,446.11 147.05,446.84 148.87,445.20 149.86,445.38 151.59,445.93 152.49,446.20 155.21,447.38 156.39,448.56 157.66,449.38 158.39,451.01 159.57,452.37 160.93,453.19 159.93,453.37 157.93,452.92 156.57,451.19 154.94,450.65 154.03,451.46 153.40,452.19 152.04,452.01 150.23,451.10 149.32,450.56 149.14,448.65 147.05,447.74 144.79,447.47 143.88,446.29 145.24,445.84 143.70,445.20 142.97,444.84ZM160.20,448.56 161.56,448.20 162.19,447.56 162.01,448.74 160.65,449.38 158.84,448.83 160.20,448.56M164.73,449.65 166.55,450.56 169.27,451.92 171.08,453.28M127.20,463.72 127.38,465.98 127.74,467.80 128.47,470.52 128.47,474.24 129.55,475.51 131.19,475.51 133.00,474.51 134.81,474.51 136.63,473.70 138.44,472.97 141.16,472.43 143.43,472.34 145.24,472.97 146.15,473.70 147.14,475.33 148.41,473.70 149.14,473.43 148.87,474.79 149.32,476.06 150.68,476.24 151.59,478.24 152.95,478.60 154.31,478.96 155.67,478.24 156.94,479.14 158.39,478.05 160.20,477.69 160.38,476.24 161.29,474.61 162.47,472.97 163.10,471.43 163.46,469.43 163.01,466.89 162.01,465.98 160.93,464.17 159.57,462.81 158.84,461.90 156.85,460.81 156.57,459.18 155.94,457.36 154.58,456.46 154.22,455.09 153.40,453.46 152.77,455.37 152.58,457.82 152.04,459.18 151.13,459.81 149.77,459.00 148.41,458.09 147.14,457.18 147.51,456.00 148.23,454.82 147.05,454.64 145.24,454.28 144.33,454.10 142.97,454.82 142.34,455.82 141.70,457.27 140.43,457.18 139.62,456.46 138.44,456.64 137.53,457.54 136.63,458.54 136.08,459.36 134.99,460.09 134.36,460.99 133.00,461.81 131.64,462.17 130.28,462.44 128.92,463.26 127.74,463.62 127.20,463.72ZM155.39,480.69 157.03,481.05 158.66,480.87 158.57,482.05 157.93,482.95 157.03,483.32 155.94,482.14 155.39,480.69ZM180.78,474.97 181.51,475.69 182.23,476.24 182.69,477.15 183.68,477.51 184.68,478.14 186.04,477.96 185.50,479.32 184.59,479.78 184.05,480.78 183.05,481.50 182.50,481.14 182.87,480.05 181.78,479.41 182.50,478.42 182.41,477.33 181.23,476.06 180.78,474.97ZM180.78,480.50 181.96,480.96 182.23,481.59 181.51,482.59 180.87,483.41 179.42,484.13 178.88,485.40 177.43,486.04 176.07,485.68 175.16,485.50 175.43,484.77 176.79,483.68 178.79,482.68 179.69,481.68 180.24,480.96 180.78,480.50ZM96.64,434.86 97.46,435.31 98.46,436.94 97.91,438.12 96.82,438.31 96.55,436.49 96.64,434.86ZM201.00,388.85 203.72,390.57 207.35,390.57 207.80,391.57 205.53,392.93 202.81,393.84 206.44,393.38 209.16,392.20 210.97,390.93 211.88,390.30 212.79,389.30 214.15,389.75 215.51,389.39 217.77,388.85 220.04,389.30 222.76,389.39 224.57,389.75 226.39,390.66 227.75,391.57 229.11,392.93 230.47,393.84 231.83,394.56 232.28,395.65 233.64,396.56 234.55,397.47 235.00,397.92 236.81,398.56 237.72,399.28 239.08,399.74 237.54,399.92 238.17,401.55 238.17,403.37 237.81,405.18 237.99,406.54 238.35,407.90 239.08,409.26 239.53,409.63 240.08,410.54 240.89,411.53 241.26,412.35 242.71,412.71 243.43,413.08 244.34,414.07 244.97,415.16 245.61,416.16 246.51,417.43 247.24,418.34 247.97,419.07 248.87,420.16 249.51,421.43 250.41,422.15 251.32,422.70 250.59,421.79 250.14,420.61 249.05,419.25 248.33,417.89 247.69,416.53 246.61,415.16 248.15,415.44 248.87,416.98 249.96,418.43 251.05,419.70 252.23,420.79 253.59,421.97 254.49,423.06 255.13,424.24 254.95,425.33 255.85,426.33 256.76,427.14 258.57,427.87 260.39,428.59 262.20,429.32 263.56,429.50 264.92,429.05 266.28,429.68 267.01,430.59 268.09,431.14 269.45,431.50 270.81,431.77 271.45,432.13 272.17,433.04 272.90,433.77 272.81,434.68 273.81,434.86 274.80,436.04 275.80,436.31 276.71,436.76 277.70,437.13 278.07,436.22 278.97,435.58 279.70,436.22 280.06,437.22 280.51,438.76 280.42,440.12 279.88,441.30 279.06,442.39 278.25,443.02 277.98,444.20 277.70,445.11 278.25,446.02 277.79,446.84 276.98,447.65 277.07,449.01 278.25,450.28 278.97,451.46 280.15,453.73 281.51,456.27 282.42,457.63 284.23,458.91 285.86,459.90 286.86,460.54 287.04,463.26 286.68,465.53 286.59,467.80 285.95,469.61 285.77,471.88 285.68,473.70 285.14,475.97 284.14,477.51 283.87,479.60 283.69,481.68 283.51,483.23 283.05,484.59 282.15,486.40 282.78,488.22 282.60,490.49 283.51,491.85 285.32,492.94 287.13,493.66 288.95,493.93 290.31,493.48 288.49,492.30 287.77,491.12 288.49,490.03 288.04,489.12 289.13,487.76 290.94,486.67 289.40,485.50 290.31,484.59 291.67,483.23 292.12,482.14 293.03,481.14 294.21,480.50 294.39,479.14 297.11,478.69 298.47,478.14 299.19,476.78 298.65,475.69 297.65,474.70 299.37,475.42 300.82,475.42 302.09,474.42 303.00,473.24 304.36,471.61 305.09,470.07 306.35,468.71 306.54,467.35 306.90,466.71 308.44,465.53 310.25,464.80 312.52,464.53 313.43,463.26 314.33,461.63 314.97,459.63 315.24,457.36 315.33,455.55 316.15,455.09 317.05,453.73 318.41,452.37 318.96,450.56 318.69,448.74 317.05,448.11 315.69,447.11 313.88,446.29 311.16,445.93 310.25,445.11 307.53,444.29 305.72,443.84 304.81,442.39 304.18,440.39 303.00,439.21 301.19,438.40 298.74,438.31 297.74,437.49 296.38,436.22 295.29,435.58 294.84,434.49 293.48,434.04 292.12,434.49 290.31,434.13 288.77,434.22 287.13,432.68 286.86,433.22 285.77,433.95 285.59,435.13 285.32,433.22 284.14,433.50 283.23,433.68 282.15,434.22 281.51,435.31 280.79,435.85 280.06,435.49 278.79,435.13 277.61,435.49 276.71,435.76 275.53,435.04 274.89,433.95 274.62,432.95 274.80,431.50 275.17,430.14 273.99,429.32 272.63,429.23 271.27,429.41 270.54,429.50 270.63,428.32 270.81,426.96 271.27,426.05 271.72,424.24 270.36,424.33 268.73,424.60 268.55,425.60 268.09,426.51 266.73,426.87 264.92,427.23 263.74,426.69 263.11,426.05 262.47,424.87 262.11,423.79 261.93,421.97 262.29,420.34 262.38,418.70 263.11,418.07 264.65,417.16 265.83,416.80 267.64,417.07 269.00,417.25 269.73,416.34 270.81,416.16 272.17,416.16 273.53,416.80 274.44,416.53 275.35,417.43 275.62,418.52 276.43,419.97 277.16,420.88 277.70,420.61 278.07,419.43 277.70,417.89 276.89,416.07 277.16,415.16 277.89,414.26 278.79,413.62 280.06,412.71 281.24,412.17 281.87,411.53 281.51,410.17 282.06,409.36 282.60,408.54 283.33,407.90 283.51,406.91 284.87,406.63 286.23,406.09 287.13,405.91 286.68,405.18 286.59,404.55 287.59,403.91 288.95,403.46 289.85,403.09 290.76,403.37 292.12,402.64 290.76,403.91 291.21,404.27 293.03,403.28 295.29,402.64 295.75,401.55 294.84,402.00 293.48,402.28 292.12,401.55 291.67,400.37 291.94,399.46 290.94,399.19 289.40,399.01 287.59,400.19 286.68,400.92 288.22,399.37 290.31,398.19 293.03,398.10 296.20,398.19 298.47,397.29 299.83,396.83 300.01,395.65 298.65,394.29 296.65,393.57 294.84,392.48 294.21,391.30 293.03,390.39 292.12,389.03M264.65,388.85 264.92,390.21 266.73,391.84 268.55,392.02 270.81,392.75 273.08,393.66 275.98,393.75 276.07,395.65 277.16,396.38 278.25,397.20 279.15,396.56 278.97,394.29 280.79,393.11 281.24,391.57 280.33,390.39 279.88,388.85M273.53,423.88 274.44,423.15 276.25,422.70 278.07,422.88 279.88,423.51 281.24,424.51 283.33,425.42 282.15,425.69 280.33,425.69 280.06,424.96 278.52,424.15 276.71,423.60 275.17,423.79 273.53,423.88ZM283.05,427.05 284.41,425.78 285.77,425.69 287.31,425.96 288.58,426.96 287.13,427.23 285.68,427.69 284.59,427.23 283.05,427.05ZM279.70,427.05 281.42,427.32 280.79,427.60 279.70,427.05ZM289.67,427.42 291.12,427.14 291.03,427.42 289.67,427.42ZM296.74,400.55 298.01,398.83 299.83,396.92 300.28,398.38 302.09,399.10 302.73,400.64 302.09,401.37 300.01,401.19 296.74,400.55ZM231.83,394.75 230.74,394.75 230.47,395.65 231.37,396.29 231.83,394.75ZM234.09,397.65 236.81,398.19 238.63,399.83 237.27,399.46 234.09,397.65ZM295.29,490.49 298.01,490.21 298.19,490.94 295.75,491.12 295.29,490.49ZM209.34,425.42 210.25,426.05 209.34,426.60 209.16,425.87 209.34,425.42ZM207.07,424.15 207.62,424.42 207.26,424.42 207.07,424.15ZM205.81,423.60 206.17,423.79 205.90,423.88 205.81,423.60ZM330.20,388.85 327.93,388.85M307.08,388.57 310.25,389.39 311.61,388.85M185.59,459.45 186.13,460.09 184.95,460.27 185.04,459.63 185.59,459.45ZM173.80,462.81 175.61,463.99 175.16,463.90 173.07,462.17 173.80,462.81Z" fill="none" stroke="#8c8c8c" stroke-width="0.5" stroke-linejoin="round"/>
</g>
<circle cx="164.6" cy="444.8" r="3.3" fill="#000"/>
<line x1="51.40" y1="389.3" x2="51.40" y2="498.20000000000005" stroke="#c8c8c8" stroke-width="0.45"/>
<line x1="78.60" y1="389.3" x2="78.60" y2="498.20000000000005" stroke="#c8c8c8" stroke-width="0.45"/>
<line x1="105.80" y1="389.3" x2="105.80" y2="498.20000000000005" stroke="#c8c8c8" stroke-width="0.45"/>
<line x1="133.00" y1="389.3" x2="133.00" y2="498.20000000000005" stroke="#c8c8c8" stroke-width="0.45"/>
<line x1="160.20" y1="389.3" x2="160.20" y2="498.20000000000005" stroke="#c8c8c8" stroke-width="0.45"/>
<line x1="187.40" y1="389.3" x2="187.40" y2="498.20000000000005" stroke="#c8c8c8" stroke-width="0.45"/>
<line x1="214.60" y1="389.3" x2="214.60" y2="498.20000000000005" stroke="#c8c8c8" stroke-width="0.45"/>
<line x1="241.80" y1="389.3" x2="241.80" y2="498.20000000000005" stroke="#c8c8c8" stroke-width="0.45"/>
<line x1="269.00" y1="389.3" x2="269.00" y2="498.20000000000005" stroke="#c8c8c8" stroke-width="0.45"/>
<line x1="296.20" y1="389.3" x2="296.20" y2="498.20000000000005" stroke="#c8c8c8" stroke-width="0.45"/>
<line x1="323.40" y1="389.3" x2="323.40" y2="498.20000000000005" stroke="#c8c8c8" stroke-width="0.45"/>
<line x1="24.2" y1="416.53" x2="350.6" y2="416.53" stroke="#c8c8c8" stroke-width="0.45"/>
<line x1="24.2" y1="443.75" x2="350.6" y2="443.75" stroke="#c8c8c8" stroke-width="0.45"/>
<line x1="24.2" y1="470.98" x2="350.6" y2="470.98" stroke="#c8c8c8" stroke-width="0.45"/>
<rect x="24.2" y="389.3" width="326.40000000000003" height="108.9" fill="none" stroke="#808080" stroke-width="0.8"/>
<line x1="21.2" y1="389.30" x2="24.2" y2="389.30" stroke="#808080" stroke-width="0.6"/>
<text x="18.20" y="392.30" font-size="7.2" text-anchor="end" fill="#333">60N</text>
<line x1="21.2" y1="416.53" x2="24.2" y2="416.53" stroke="#808080" stroke-width="0.6"/>
<text x="18.20" y="419.53" font-size="7.2" text-anchor="end" fill="#333">30N</text>
<line x1="21.2" y1="443.75" x2="24.2" y2="443.75" stroke="#808080" stroke-width="0.6"/>
<text x="18.20" y="446.75" font-size="7.2" text-anchor="end" fill="#333">0</text>
<line x1="21.2" y1="470.98" x2="24.2" y2="470.98" stroke="#808080" stroke-width="0.6"/>
<text x="18.20" y="473.98" font-size="7.2" text-anchor="end" fill="#333">30S</text>
<line x1="21.2" y1="498.20" x2="24.2" y2="498.20" stroke="#808080" stroke-width="0.6"/>
<text x="18.20" y="501.20" font-size="7.2" text-anchor="end" fill="#333">60S</text>
<text x="24.50" y="504.70" font-size="7.2" text-anchor="middle" fill="#333">0</text>
<text x="78.90" y="504.70" font-size="7.2" text-anchor="middle" fill="#333">60E</text>
<text x="133.30" y="504.70" font-size="7.2" text-anchor="middle" fill="#333">120E</text>
<text x="187.70" y="504.70" font-size="7.2" text-anchor="middle" fill="#333">180</text>
<text x="242.10" y="504.70" font-size="7.2" text-anchor="middle" fill="#333">120W</text>
<text x="296.50" y="504.70" font-size="7.2" text-anchor="middle" fill="#333">60W</text>
<text x="350.90" y="504.70" font-size="7.2" text-anchor="middle" fill="#333">0</text>
<text x="187.5" y="377.30" font-size="7.75" text-anchor="middle" fill="#111">(c) CPC merged precipitation</text>

<rect x="24.20" y="158.39999999999998" width="23.61" height="7.2" fill="#00007d"/>
<rect x="47.51" y="158.39999999999998" width="23.61" height="7.2" fill="#3c3c8c"/>
<rect x="70.83" y="158.39999999999998" width="23.61" height="7.2" fill="#7b68ee"/>
<rect x="94.14" y="158.39999999999998" width="23.61" height="7.2" fill="#1e6ee6"/>
<rect x="117.46" y="158.39999999999998" width="23.61" height="7.2" fill="#1eb4f0"/>
<rect x="140.77" y="158.39999999999998" width="23.61" height="7.2" fill="#a6d3f0"/>
<rect x="164.09" y="158.39999999999998" width="23.61" height="7.2" fill="#ffffff"/>
<rect x="187.40" y="158.39999999999998" width="23.61" height="7.2" fill="#ffffff"/>
<rect x="210.71" y="158.39999999999998" width="23.61" height="7.2" fill="#fde2ab"/>
<rect x="234.03" y="158.39999999999998" width="23.61" height="7.2" fill="#ff7d00"/>
<rect x="257.34" y="158.39999999999998" width="23.61" height="7.2" fill="#d96b00"/>
<rect x="280.66" y="158.39999999999998" width="23.61" height="7.2" fill="#a04b10"/>
<rect x="303.97" y="158.39999999999998" width="23.61" height="7.2" fill="#a00014"/>
<rect x="327.29" y="158.39999999999998" width="23.61" height="7.2" fill="#dc2832"/>
<rect x="164.09" y="158.39999999999998" width="46.63" height="7.2" fill="none" stroke="#c0c0c0" stroke-width="0.6"/>
<line x1="187.40" y1="158.39999999999998" x2="187.40" y2="165.59999999999997" stroke="#c0c0c0" stroke-width="0.6"/>
<text x="47.51" y="173.10" font-size="8.0" text-anchor="middle" fill="#666"><tspan>-</tspan><tspan dx="0.9">450</tspan></text>
<text x="70.83" y="173.10" font-size="8.0" text-anchor="middle" fill="#666"><tspan>-</tspan><tspan dx="0.9">375</tspan></text>
<text x="94.14" y="173.10" font-size="8.0" text-anchor="middle" fill="#666"><tspan>-</tspan><tspan dx="0.9">300</tspan></text>
<text x="117.46" y="173.10" font-size="8.0" text-anchor="middle" fill="#666"><tspan>-</tspan><tspan dx="0.9">225</tspan></text>
<text x="140.77" y="173.10" font-size="8.0" text-anchor="middle" fill="#666"><tspan>-</tspan><tspan dx="0.9">150</tspan></text>
<text x="164.09" y="173.10" font-size="8.0" text-anchor="middle" fill="#666"><tspan>-</tspan><tspan dx="0.9">75</tspan></text>
<text x="187.40" y="173.10" font-size="8.0" text-anchor="middle" fill="#666">0</text>
<text x="210.71" y="173.10" font-size="8.0" text-anchor="middle" fill="#666">75</text>
<text x="234.03" y="173.10" font-size="8.0" text-anchor="middle" fill="#666">150</text>
<text x="257.34" y="173.10" font-size="8.0" text-anchor="middle" fill="#666">225</text>
<text x="280.66" y="173.10" font-size="8.0" text-anchor="middle" fill="#666">300</text>
<text x="303.97" y="173.10" font-size="8.0" text-anchor="middle" fill="#666">375</text>
<text x="327.29" y="173.10" font-size="8.0" text-anchor="middle" fill="#666">450</text>
<rect x="24.20" y="338.5" width="23.61" height="7.2" fill="#00007d"/>
<rect x="47.51" y="338.5" width="23.61" height="7.2" fill="#3c3c8c"/>
<rect x="70.83" y="338.5" width="23.61" height="7.2" fill="#7b68ee"/>
<rect x="94.14" y="338.5" width="23.61" height="7.2" fill="#1e6ee6"/>
<rect x="117.46" y="338.5" width="23.61" height="7.2" fill="#1eb4f0"/>
<rect x="140.77" y="338.5" width="23.61" height="7.2" fill="#a6d3f0"/>
<rect x="164.09" y="338.5" width="23.61" height="7.2" fill="#ffffff"/>
<rect x="187.40" y="338.5" width="23.61" height="7.2" fill="#ffffff"/>
<rect x="210.71" y="338.5" width="23.61" height="7.2" fill="#fde2ab"/>
<rect x="234.03" y="338.5" width="23.61" height="7.2" fill="#ff7d00"/>
<rect x="257.34" y="338.5" width="23.61" height="7.2" fill="#d96b00"/>
<rect x="280.66" y="338.5" width="23.61" height="7.2" fill="#a04b10"/>
<rect x="303.97" y="338.5" width="23.61" height="7.2" fill="#a00014"/>
<rect x="327.29" y="338.5" width="23.61" height="7.2" fill="#dc2832"/>
<rect x="164.09" y="338.5" width="46.63" height="7.2" fill="none" stroke="#c0c0c0" stroke-width="0.6"/>
<line x1="187.40" y1="338.5" x2="187.40" y2="345.7" stroke="#c0c0c0" stroke-width="0.6"/>
<text x="47.51" y="353.20" font-size="8.0" text-anchor="middle" fill="#666"><tspan>-</tspan><tspan dx="0.9">450</tspan></text>
<text x="70.83" y="353.20" font-size="8.0" text-anchor="middle" fill="#666"><tspan>-</tspan><tspan dx="0.9">375</tspan></text>
<text x="94.14" y="353.20" font-size="8.0" text-anchor="middle" fill="#666"><tspan>-</tspan><tspan dx="0.9">300</tspan></text>
<text x="117.46" y="353.20" font-size="8.0" text-anchor="middle" fill="#666"><tspan>-</tspan><tspan dx="0.9">225</tspan></text>
<text x="140.77" y="353.20" font-size="8.0" text-anchor="middle" fill="#666"><tspan>-</tspan><tspan dx="0.9">150</tspan></text>
<text x="164.09" y="353.20" font-size="8.0" text-anchor="middle" fill="#666"><tspan>-</tspan><tspan dx="0.9">75</tspan></text>
<text x="187.40" y="353.20" font-size="8.0" text-anchor="middle" fill="#666">0</text>
<text x="210.71" y="353.20" font-size="8.0" text-anchor="middle" fill="#666">75</text>
<text x="234.03" y="353.20" font-size="8.0" text-anchor="middle" fill="#666">150</text>
<text x="257.34" y="353.20" font-size="8.0" text-anchor="middle" fill="#666">225</text>
<text x="280.66" y="353.20" font-size="8.0" text-anchor="middle" fill="#666">300</text>
<text x="303.97" y="353.20" font-size="8.0" text-anchor="middle" fill="#666">375</text>
<text x="327.29" y="353.20" font-size="8.0" text-anchor="middle" fill="#666">450</text>
<rect x="24.20" y="518.2" width="46.93" height="7.3" fill="#ffffff"/>
<rect x="70.83" y="518.2" width="46.93" height="7.3" fill="#fbf6c8"/>
<rect x="117.46" y="518.2" width="46.93" height="7.3" fill="#ff9a00"/>
<rect x="164.09" y="518.2" width="46.93" height="7.3" fill="#d96b00"/>
<rect x="210.71" y="518.2" width="46.93" height="7.3" fill="#9a5a08"/>
<rect x="257.34" y="518.2" width="46.93" height="7.3" fill="#8c1e2a"/>
<rect x="303.97" y="518.2" width="46.93" height="7.3" fill="#ff2828"/>
<rect x="24.2" y="518.2" width="93.26" height="7.3" fill="none" stroke="#c0c0c0" stroke-width="0.6"/>
<line x1="70.83" y1="518.2" x2="70.83" y2="525.5" stroke="#c0c0c0" stroke-width="0.6"/>
<text x="24.20" y="537.3" font-size="11.2" text-anchor="middle" fill="#858585">0</text>
<text x="70.83" y="537.3" font-size="11.2" text-anchor="middle" fill="#858585">3</text>
<text x="117.46" y="537.3" font-size="11.2" text-anchor="middle" fill="#858585">6</text>
<text x="164.09" y="537.3" font-size="11.2" text-anchor="middle" fill="#858585">9</text>
<text x="210.71" y="537.3" font-size="11.2" text-anchor="middle" fill="#858585">12</text>
<text x="257.34" y="537.3" font-size="11.2" text-anchor="middle" fill="#858585">15</text>
<text x="303.97" y="537.3" font-size="11.2" text-anchor="middle" fill="#858585">18</text>
<text x="350.60" y="537.3" font-size="11.2" text-anchor="middle" fill="#858585">21</text>
</svg></body></html>
